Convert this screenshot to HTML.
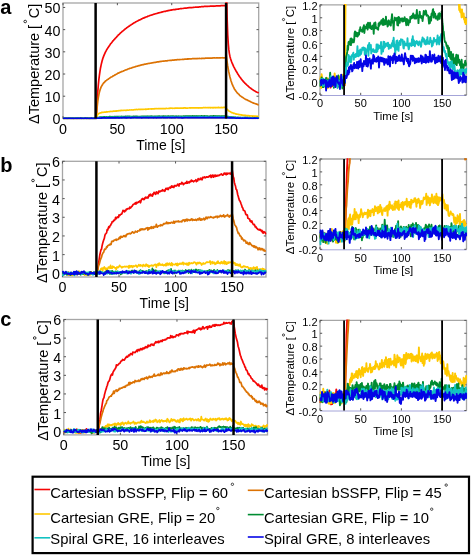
<!DOCTYPE html>
<html><head><meta charset="utf-8"><style>
html,body{margin:0;padding:0;background:#fff;}
body{width:472px;height:558px;overflow:hidden;}
svg{display:block;will-change:transform;font-family:"Liberation Sans",sans-serif;}
text{fill:#000;}
</style></head><body>
<svg width="472" height="558" viewBox="0 0 472 558">
<clipPath id="clipaL"><rect x="62.4" y="2.2" width="196.9" height="117"/></clipPath>
<rect x="63" y="3" width="195.7" height="115.4" fill="#fff" stroke="#a6a6a6" stroke-width="1.3"/>
<path d="M63 118.4v-2.2M63 3v2.2M117.36 118.4v-2.2M117.36 3v2.2M171.72 118.4v-2.2M171.72 3v2.2M226.08 118.4v-2.2M226.08 3v2.2M63 118.4h2.2M258.7 118.4h-2.2M63 96.21h2.2M258.7 96.21h-2.2M63 74.02h2.2M258.7 74.02h-2.2M63 51.82h2.2M258.7 51.82h-2.2M63 29.63h2.2M258.7 29.63h-2.2M63 7.44h2.2M258.7 7.44h-2.2" stroke="#555" stroke-width="1" fill="none"/>
<g clip-path="url(#clipaL)" fill="none" stroke-width="1.7" stroke-linejoin="round">
<polyline points="63,118.43 63.54,118.41 64.09,118.46 64.63,118.5 65.17,118.47 65.72,118.5 66.26,118.42 66.81,118.32 67.35,118.45 67.89,118.46 68.44,118.37 68.98,118.37 69.52,118.38 70.07,118.46 70.61,118.41 71.15,118.37 71.7,118.52 72.24,118.46 72.78,118.56 73.33,118.5 73.87,118.53 74.42,118.4 74.96,118.47 75.5,118.36 76.05,118.37 76.59,118.41 77.13,118.59 77.68,118.46 78.22,118.43 78.76,118.42 79.31,118.54 79.85,118.46 80.4,118.49 80.94,118.47 81.48,118.34 82.03,118.47 82.57,118.41 83.11,118.35 83.66,118.45 84.2,118.41 84.74,118.4 85.29,118.4 85.83,118.5 86.38,118.4 86.92,118.31 87.46,118.51 88.01,118.33 88.55,118.38 89.09,118.43 89.64,118.24 90.18,118.33 90.72,118.47 91.27,118.37 91.81,118.33 92.35,118.39 92.9,118.34 93.44,118.4 93.99,118.36 94.53,118.31 95.07,118.46 95.62,118.4 96.16,118.44 96.27,118.4 96.7,109.19 97.25,99.45 97.79,91.48 98.33,84.87 98.88,79.43 99.42,75.1 99.97,71.27 100.51,67.95 101.05,65.4 101.6,62.92 102.14,60.82 102.68,58.9 103.23,57.32 103.77,55.93 104.31,54.61 104.86,53.38 105.4,52.12 105.95,51.2 106.49,50.2 107.03,49.21 107.58,48.35 108.12,47.51 108.66,46.75 109.21,45.88 109.75,45.14 110.29,44.28 110.84,43.59 111.38,42.93 111.92,42.2 112.47,41.6 113.01,40.84 113.56,40.28 114.1,39.61 114.64,39.13 115.19,38.41 115.73,37.96 116.27,37.4 116.82,36.7 117.36,36.18 117.9,35.55 118.45,34.86 118.99,34.55 119.54,34.01 120.08,33.43 120.62,32.9 121.17,32.45 121.71,31.96 122.25,31.42 122.8,30.96 123.34,30.61 123.88,30.09 124.43,29.63 124.97,29.26 125.52,28.72 126.06,28.37 126.6,27.82 127.15,27.47 127.69,27.08 128.23,26.75 128.78,26.34 129.32,26.1 129.86,25.67 130.41,25.2 130.95,25.01 131.5,24.44 132.04,24.28 132.58,23.76 133.13,23.54 133.67,23.1 134.21,22.82 134.76,22.62 135.3,22.11 135.84,21.79 136.39,21.59 136.93,21.31 137.47,21.01 138.02,20.77 138.56,20.34 139.11,20.18 139.65,19.88 140.19,19.68 140.74,19.41 141.28,19.2 141.82,18.76 142.37,18.6 142.91,18.27 143.45,18.09 144,17.9 144.54,17.63 145.09,17.41 145.63,17.15 146.17,16.96 146.72,16.75 147.26,16.63 147.8,16.39 148.35,16.01 148.89,15.98 149.43,15.81 149.98,15.51 150.52,15.24 151.06,15.26 151.61,14.99 152.15,14.85 152.7,14.75 153.24,14.4 153.78,14.28 154.33,14.11 154.87,14.01 155.41,13.76 155.96,13.68 156.5,13.5 157.04,13.42 157.59,13.27 158.13,12.94 158.68,12.92 159.22,12.71 159.76,12.59 160.31,12.48 160.85,12.35 161.39,12.14 161.94,12.07 162.48,11.93 163.02,11.79 163.57,11.58 164.11,11.49 164.66,11.39 165.2,11.33 165.74,11.28 166.29,10.99 166.83,10.88 167.37,10.84 167.92,10.68 168.46,10.56 169,10.45 169.55,10.34 170.09,10.34 170.63,10.1 171.18,10.2 171.72,9.95 172.27,9.88 172.81,9.76 173.35,9.59 173.9,9.53 174.44,9.64 174.98,9.61 175.53,9.36 176.07,9.42 176.61,9.28 177.16,9.14 177.7,9.24 178.25,9.18 178.79,8.92 179.33,8.84 179.88,8.78 180.42,8.67 180.96,8.66 181.51,8.64 182.05,8.49 182.59,8.49 183.14,8.48 183.68,8.27 184.23,8.24 184.77,8.14 185.31,8.17 185.86,8.08 186.4,8.05 186.94,7.98 187.49,7.84 188.03,7.85 188.57,7.72 189.12,7.67 189.66,7.51 190.2,7.71 190.75,7.51 191.29,7.53 191.84,7.48 192.38,7.54 192.92,7.43 193.47,7.3 194.01,7.32 194.55,7.26 195.1,7.25 195.64,7.09 196.18,7.12 196.73,7.23 197.27,7.07 197.82,7.12 198.36,7.17 198.9,6.94 199.45,6.76 199.99,6.81 200.53,6.84 201.08,6.77 201.62,6.58 202.16,6.61 202.71,6.58 203.25,6.56 203.8,6.53 204.34,6.44 204.88,6.42 205.43,6.42 205.97,6.47 206.51,6.33 207.06,6.39 207.6,6.23 208.14,6.38 208.69,6.27 209.23,6.24 209.78,6.31 210.32,6.07 210.86,6.07 211.41,6.19 211.95,6.08 212.49,6.09 213.04,6.28 213.58,6.05 214.12,6.05 214.67,6.01 215.21,6.06 215.75,5.97 216.3,5.94 216.84,5.81 217.39,5.85 217.93,5.86 218.47,5.74 219.02,5.87 219.56,5.85 220.1,5.93 220.65,5.67 221.19,5.69 221.73,5.67 222.28,5.67 222.82,5.69 223.37,5.66 223.91,5.67 224.45,5.64 225,5.59 225.54,5.45 226.07,5.5 226.08,-48.27 226.63,-5.18 227.17,19.87 227.71,34.54 228.26,43.67 228.8,49.44 229.34,53.33 229.89,56.16 230.43,58.22 230.98,59.91 231.52,61.52 232.06,62.88 232.61,64.14 233.15,65.31 233.69,66.58 234.24,67.58 234.78,68.69 235.32,69.59 235.87,70.7 236.41,71.56 236.96,72.42 237.5,73.45 238.04,74.34 238.59,75.13 239.13,75.96 239.67,76.82 240.22,77.48 240.76,78.1 241.3,78.97 241.85,79.64 242.39,80.36 242.94,80.9 243.48,81.63 244.02,82.23 244.57,82.65 245.11,83.38 245.65,83.79 246.2,84.3 246.74,84.9 247.28,85.38 247.83,85.76 248.37,86.39 248.91,86.88 249.46,87.38 250,87.72 250.55,88.04 251.09,88.49 251.63,89.02 252.18,89.39 252.72,89.74 253.26,90.04 253.81,90.42 254.35,90.73 254.89,91.05 255.44,91.4 255.98,91.68 256.53,91.95 257.07,92.24 257.61,92.46 258.16,92.61 258.7,92.95" stroke="#f50505"/>
<polyline points="63,118.27 63.54,118.41 64.09,118.54 64.63,118.47 65.17,118.49 65.72,118.43 66.26,118.37 66.81,118.51 67.35,118.33 67.89,118.46 68.44,118.33 68.98,118.36 69.52,118.38 70.07,118.37 70.61,118.41 71.15,118.43 71.7,118.52 72.24,118.41 72.78,118.28 73.33,118.27 73.87,118.33 74.42,118.37 74.96,118.47 75.5,118.32 76.05,118.42 76.59,118.41 77.13,118.41 77.68,118.38 78.22,118.41 78.76,118.39 79.31,118.47 79.85,118.42 80.4,118.23 80.94,118.4 81.48,118.42 82.03,118.36 82.57,118.36 83.11,118.49 83.66,118.43 84.2,118.35 84.74,118.4 85.29,118.42 85.83,118.32 86.38,118.49 86.92,118.44 87.46,118.49 88.01,118.34 88.55,118.57 89.09,118.47 89.64,118.45 90.18,118.35 90.72,118.34 91.27,118.27 91.81,118.47 92.35,118.3 92.9,118.36 93.44,118.39 93.99,118.3 94.53,118.42 95.07,118.52 95.62,118.42 96.16,118.51 96.27,118.46 96.7,112.28 97.25,106.16 97.79,101.24 98.33,97.56 98.88,94.62 99.42,92.14 99.97,90.18 100.51,88.6 101.05,87.15 101.6,86.11 102.14,85.26 102.68,84.24 103.23,83.58 103.77,82.89 104.31,82.31 104.86,81.73 105.4,81.27 105.95,80.71 106.49,80.32 107.03,79.9 107.58,79.49 108.12,79.24 108.66,78.77 109.21,78.41 109.75,78.02 110.29,77.77 110.84,77.21 111.38,76.98 111.92,76.75 112.47,76.46 113.01,76.04 113.56,75.72 114.1,75.46 114.64,75.1 115.19,74.86 115.73,74.48 116.27,74.27 116.82,73.93 117.36,73.56 117.9,73.17 118.45,73.15 118.99,72.84 119.54,72.6 120.08,72.23 120.62,72.13 121.17,71.85 121.71,71.59 122.25,71.43 122.8,71.21 123.34,70.96 123.88,70.86 124.43,70.59 124.97,70.29 125.52,70.03 126.06,69.83 126.6,69.73 127.15,69.42 127.69,69.13 128.23,68.95 128.78,68.8 129.32,68.66 129.86,68.36 130.41,68.27 130.95,68.13 131.5,67.94 132.04,67.62 132.58,67.54 133.13,67.3 133.67,67.25 134.21,66.97 134.76,66.91 135.3,66.71 135.84,66.36 136.39,66.33 136.93,66.26 137.47,66.08 138.02,65.9 138.56,65.68 139.11,65.64 139.65,65.58 140.19,65.34 140.74,65.18 141.28,65.05 141.82,64.85 142.37,64.8 142.91,64.65 143.45,64.67 144,64.4 144.54,64.19 145.09,64.16 145.63,64.07 146.17,63.96 146.72,63.73 147.26,63.81 147.8,63.65 148.35,63.51 148.89,63.4 149.43,63.4 149.98,63.25 150.52,63.19 151.06,63.06 151.61,62.97 152.15,62.94 152.7,62.76 153.24,62.6 153.78,62.64 154.33,62.5 154.87,62.35 155.41,62.39 155.96,62.21 156.5,62.22 157.04,61.98 157.59,61.81 158.13,61.75 158.68,61.83 159.22,61.68 159.76,61.64 160.31,61.55 160.85,61.37 161.39,61.5 161.94,61.25 162.48,61.26 163.02,61.09 163.57,61.11 164.11,61.11 164.66,60.97 165.2,60.88 165.74,60.87 166.29,60.78 166.83,60.79 167.37,60.84 167.92,60.56 168.46,60.51 169,60.49 169.55,60.44 170.09,60.33 170.63,60.4 171.18,60.38 171.72,60.29 172.27,60.14 172.81,60.26 173.35,60.01 173.9,60.08 174.44,60.05 174.98,59.83 175.53,59.89 176.07,59.94 176.61,59.83 177.16,59.7 177.7,59.65 178.25,59.72 178.79,59.62 179.33,59.56 179.88,59.62 180.42,59.51 180.96,59.49 181.51,59.49 182.05,59.44 182.59,59.36 183.14,59.33 183.68,59.34 184.23,59.3 184.77,59.16 185.31,59.19 185.86,59.11 186.4,59.06 186.94,59.06 187.49,58.9 188.03,59.08 188.57,58.92 189.12,58.96 189.66,58.77 190.2,58.75 190.75,58.98 191.29,58.88 191.84,58.74 192.38,58.69 192.92,58.66 193.47,58.68 194.01,58.62 194.55,58.58 195.1,58.62 195.64,58.53 196.18,58.75 196.73,58.52 197.27,58.62 197.82,58.45 198.36,58.51 198.9,58.54 199.45,58.44 199.99,58.52 200.53,58.51 201.08,58.55 201.62,58.42 202.16,58.37 202.71,58.32 203.25,58.39 203.8,58.28 204.34,58.32 204.88,58.3 205.43,58.21 205.97,58.15 206.51,58.22 207.06,58.19 207.6,58.16 208.14,58.13 208.69,58.18 209.23,58.03 209.78,58.12 210.32,58.05 210.86,58.13 211.41,58.04 211.95,58.02 212.49,58.06 213.04,57.87 213.58,57.97 214.12,57.85 214.67,57.89 215.21,57.99 215.75,57.95 216.3,57.89 216.84,57.91 217.39,57.9 217.93,57.92 218.47,58.01 219.02,57.88 219.56,58 220.1,57.79 220.65,57.85 221.19,57.83 221.73,57.77 222.28,57.72 222.82,57.83 223.37,57.84 223.91,57.79 224.45,57.86 225,57.78 225.54,57.59 226.07,57.77 226.08,53.64 226.63,58.34 227.17,62.26 227.71,65.9 228.26,69.08 228.8,71.89 229.34,74.36 229.89,76.77 230.43,78.84 230.98,80.77 231.52,82.33 232.06,83.89 232.61,85.16 233.15,86.43 233.69,87.39 234.24,88.65 234.78,89.43 235.32,90.19 235.87,91.05 236.41,91.81 236.96,92.45 237.5,93.16 238.04,93.65 238.59,94.04 239.13,94.65 239.67,95.3 240.22,95.74 240.76,96.13 241.3,96.45 241.85,96.97 242.39,97.34 242.94,97.59 243.48,97.94 244.02,98.35 244.57,98.72 245.11,99.05 245.65,99.29 246.2,99.7 246.74,99.78 247.28,100.16 247.83,100.36 248.37,100.53 248.91,100.85 249.46,101.29 250,101.41 250.55,101.64 251.09,102.03 251.63,102.29 252.18,102.46 252.72,102.79 253.26,102.79 253.81,103.28 254.35,103.4 254.89,103.54 255.44,103.74 255.98,103.91 256.53,104.09 257.07,104.31 257.61,104.4 258.16,104.83 258.7,104.87" stroke="#dc7203"/>
<polyline points="63,118.5 63.54,118.22 64.09,118.41 64.63,118.6 65.17,118.13 65.72,118.23 66.26,118.47 66.81,118.37 67.35,118.41 67.89,118.39 68.44,118.54 68.98,118.48 69.52,118.39 70.07,118.43 70.61,118.35 71.15,118.45 71.7,118.25 72.24,118.52 72.78,118.42 73.33,118.61 73.87,118.55 74.42,118.33 74.96,118.54 75.5,118.41 76.05,118.47 76.59,118.55 77.13,118.47 77.68,118.46 78.22,118.43 78.76,118.3 79.31,118.29 79.85,118.4 80.4,118.43 80.94,118.33 81.48,118.36 82.03,118.25 82.57,118.1 83.11,118.25 83.66,118.33 84.2,118.34 84.74,118.4 85.29,118.41 85.83,118.43 86.38,118.38 86.92,118.38 87.46,118.28 88.01,118.38 88.55,118.36 89.09,118.45 89.64,118.2 90.18,118.31 90.72,118.21 91.27,118.31 91.81,118.26 92.35,118.42 92.9,118.33 93.44,118.14 93.99,118.48 94.53,118.26 95.07,118.21 95.62,118.32 96.16,118.29 96.27,118.24 96.7,116.77 97.25,115.3 97.79,114.52 98.33,113.93 98.88,113.53 99.42,113.22 99.97,113 100.51,112.82 101.05,112.86 101.6,112.44 102.14,112.41 102.68,112.35 103.23,112.36 103.77,112.25 104.31,112.11 104.86,112.06 105.4,112.2 105.95,111.93 106.49,111.68 107.03,112.06 107.58,111.74 108.12,111.74 108.66,111.73 109.21,111.54 109.75,111.73 110.29,111.56 110.84,111.4 111.38,111.5 111.92,111.47 112.47,111.37 113.01,111.35 113.56,111.1 114.1,111.25 114.64,111.01 115.19,111.14 115.73,110.91 116.27,110.93 116.82,111.11 117.36,110.84 117.9,110.9 118.45,110.8 118.99,110.57 119.54,110.77 120.08,110.72 120.62,110.45 121.17,110.54 121.71,110.38 122.25,110.45 122.8,110.52 123.34,110.41 123.88,110.25 124.43,110.25 124.97,110.31 125.52,110.29 126.06,110.28 126.6,110.3 127.15,110.03 127.69,110.17 128.23,110.24 128.78,110.14 129.32,109.99 129.86,109.95 130.41,109.99 130.95,110 131.5,109.91 132.04,110.03 132.58,109.97 133.13,109.75 133.67,109.83 134.21,109.72 134.76,109.61 135.3,109.62 135.84,109.64 136.39,109.42 136.93,109.52 137.47,109.59 138.02,109.46 138.56,109.45 139.11,109.53 139.65,109.4 140.19,109.39 140.74,109.53 141.28,109.34 141.82,109.33 142.37,109.32 142.91,109.42 143.45,109.3 144,109.27 144.54,109.25 145.09,109.35 145.63,109.17 146.17,109.32 146.72,109.19 147.26,109.01 147.8,109.15 148.35,109.1 148.89,108.91 149.43,109.01 149.98,108.98 150.52,108.91 151.06,108.81 151.61,109.08 152.15,108.93 152.7,108.92 153.24,108.91 153.78,108.86 154.33,108.82 154.87,108.69 155.41,108.78 155.96,108.68 156.5,108.65 157.04,108.75 157.59,108.66 158.13,108.51 158.68,108.61 159.22,108.68 159.76,108.63 160.31,108.71 160.85,108.61 161.39,108.55 161.94,108.69 162.48,108.61 163.02,108.47 163.57,108.59 164.11,108.51 164.66,108.6 165.2,108.57 165.74,108.53 166.29,108.29 166.83,108.51 167.37,108.5 167.92,108.48 168.46,108.42 169,108.33 169.55,108.34 170.09,108.15 170.63,108.29 171.18,108.16 171.72,108.25 172.27,108.21 172.81,108.38 173.35,108.25 173.9,108.23 174.44,108.22 174.98,108.36 175.53,108.08 176.07,108.18 176.61,108.19 177.16,108.17 177.7,108.17 178.25,108.11 178.79,108.25 179.33,108.21 179.88,108.1 180.42,108.12 180.96,108.17 181.51,108.18 182.05,108.2 182.59,108.11 183.14,107.97 183.68,108.14 184.23,107.89 184.77,107.93 185.31,108.04 185.86,107.94 186.4,108.14 186.94,108.16 187.49,108.11 188.03,108.01 188.57,107.98 189.12,107.96 189.66,107.88 190.2,108.05 190.75,107.8 191.29,107.96 191.84,107.88 192.38,107.86 192.92,107.94 193.47,107.97 194.01,107.95 194.55,107.87 195.1,107.82 195.64,107.81 196.18,107.94 196.73,107.91 197.27,107.92 197.82,107.8 198.36,108.03 198.9,107.75 199.45,107.91 199.99,107.93 200.53,107.82 201.08,107.75 201.62,107.8 202.16,107.73 202.71,107.79 203.25,107.67 203.8,107.65 204.34,107.74 204.88,107.59 205.43,107.69 205.97,107.69 206.51,107.77 207.06,107.71 207.6,107.6 208.14,107.78 208.69,107.59 209.23,107.61 209.78,107.61 210.32,107.83 210.86,107.64 211.41,107.59 211.95,107.72 212.49,107.66 213.04,107.88 213.58,107.61 214.12,107.71 214.67,107.56 215.21,107.78 215.75,107.53 216.3,107.59 216.84,107.49 217.39,107.64 217.93,107.61 218.47,107.36 219.02,107.64 219.56,107.64 220.1,107.61 220.65,107.67 221.19,107.48 221.73,107.42 222.28,107.63 222.82,107.71 223.37,107.45 223.91,107.45 224.45,107.47 225,107.44 225.54,107.61 226.07,107.54 226.08,108.49 226.63,109.08 227.17,109.41 227.71,110.04 228.26,110.23 228.8,110.83 229.34,111.27 229.89,111.48 230.43,111.72 230.98,112.13 231.52,112.55 232.06,112.65 232.61,112.77 233.15,113.13 233.69,113.33 234.24,113.35 234.78,113.59 235.32,113.85 235.87,113.93 236.41,114.1 236.96,114.13 237.5,114.26 238.04,114.28 238.59,114.43 239.13,114.73 239.67,114.66 240.22,114.71 240.76,114.84 241.3,114.88 241.85,115.09 242.39,115.19 242.94,115.08 243.48,115.31 244.02,115.45 244.57,115.21 245.11,115.4 245.65,115.4 246.2,115.55 246.74,115.59 247.28,115.62 247.83,115.61 248.37,115.61 248.91,115.91 249.46,115.71 250,115.94 250.55,115.99 251.09,115.89 251.63,116 252.18,116.17 252.72,115.89 253.26,116.15 253.81,116.07 254.35,116.1 254.89,116.03 255.44,116.23 255.98,116.15 256.53,116.34 257.07,116.21 257.61,116.4 258.16,116.38 258.7,116.2" stroke="#ffc800"/>
<polyline points="63,118.55 63.54,118.44 64.09,118.49 64.63,118.39 65.17,118.24 65.72,118.36 66.26,118.45 66.81,118.57 67.35,118.55 67.89,118.57 68.44,118.33 68.98,118.46 69.52,118.38 70.07,118.44 70.61,118.37 71.15,118.26 71.7,118.46 72.24,118.43 72.78,118.48 73.33,118.32 73.87,118.48 74.42,118.47 74.96,118.47 75.5,118.46 76.05,118.28 76.59,118.08 77.13,118.41 77.68,118.23 78.22,118.29 78.76,118.42 79.31,118.36 79.85,118.37 80.4,118.44 80.94,118.22 81.48,118.59 82.03,118.39 82.57,118.38 83.11,118.45 83.66,118.35 84.2,118.26 84.74,118.31 85.29,118.29 85.83,118.27 86.38,118.54 86.92,118.23 87.46,118.17 88.01,118.3 88.55,118.31 89.09,118.54 89.64,118.43 90.18,118.51 90.72,118.49 91.27,118.36 91.81,118.52 92.35,118.46 92.9,118.62 93.44,118.45 93.99,118.41 94.53,118.48 95.07,118.47 95.62,118.23 96.16,118.43 96.27,118.38 96.7,118.22 97.25,117.84 97.79,117.54 98.33,117.49 98.88,117.45 99.42,117.34 99.97,117.14 100.51,117.28 101.05,117.03 101.6,117 102.14,117.11 102.68,117.03 103.23,117 103.77,116.9 104.31,117.13 104.86,116.89 105.4,117.02 105.95,117.03 106.49,116.93 107.03,116.94 107.58,116.99 108.12,117.03 108.66,116.95 109.21,116.71 109.75,116.65 110.29,116.76 110.84,116.68 111.38,116.81 111.92,116.75 112.47,116.71 113.01,116.83 113.56,116.82 114.1,116.7 114.64,116.72 115.19,116.76 115.73,116.6 116.27,116.64 116.82,116.51 117.36,116.6 117.9,116.63 118.45,116.6 118.99,116.63 119.54,116.67 120.08,116.63 120.62,116.51 121.17,116.5 121.71,116.44 122.25,116.71 122.8,116.57 123.34,116.56 123.88,116.49 124.43,116.54 124.97,116.54 125.52,116.41 126.06,116.46 126.6,116.59 127.15,116.35 127.69,116.38 128.23,116.52 128.78,116.38 129.32,116.52 129.86,116.35 130.41,116.49 130.95,116.56 131.5,116.53 132.04,116.57 132.58,116.48 133.13,116.46 133.67,116.45 134.21,116.47 134.76,116.73 135.3,116.37 135.84,116.56 136.39,116.39 136.93,116.34 137.47,116.45 138.02,116.54 138.56,116.53 139.11,116.53 139.65,116.57 140.19,116.57 140.74,116.59 141.28,116.38 141.82,116.47 142.37,116.34 142.91,116.43 143.45,116.37 144,116.38 144.54,116.31 145.09,116.27 145.63,116.32 146.17,116.4 146.72,116.42 147.26,116.21 147.8,116.41 148.35,116.43 148.89,116.27 149.43,116.29 149.98,116.33 150.52,116.41 151.06,116.14 151.61,116.32 152.15,116.3 152.7,116.37 153.24,116.48 153.78,116.46 154.33,116.29 154.87,116.27 155.41,116.31 155.96,116.4 156.5,116.42 157.04,116.33 157.59,116.45 158.13,116.24 158.68,116.22 159.22,116.06 159.76,116.23 160.31,116.35 160.85,116.37 161.39,116.6 161.94,116.33 162.48,116.28 163.02,116.17 163.57,116.21 164.11,116.22 164.66,116.27 165.2,116.24 165.74,116.19 166.29,116.43 166.83,116.37 167.37,116.45 167.92,116.15 168.46,116.16 169,116.19 169.55,116.36 170.09,116.21 170.63,116.24 171.18,116.22 171.72,116.25 172.27,116.21 172.81,116.31 173.35,116.21 173.9,116.26 174.44,116.3 174.98,116.27 175.53,116.28 176.07,116.16 176.61,116.27 177.16,116.23 177.7,116.32 178.25,116.44 178.79,116.22 179.33,116.41 179.88,116.24 180.42,116.26 180.96,116.44 181.51,116.36 182.05,116.3 182.59,116.31 183.14,116.33 183.68,116.14 184.23,116.22 184.77,116.14 185.31,116.2 185.86,116.11 186.4,116.18 186.94,116.1 187.49,116.03 188.03,116.08 188.57,116.14 189.12,116.21 189.66,116.1 190.2,116.1 190.75,116.16 191.29,116.21 191.84,116.09 192.38,115.91 192.92,116.17 193.47,116.11 194.01,116.1 194.55,116.36 195.1,116.1 195.64,116.17 196.18,115.97 196.73,116.12 197.27,116.17 197.82,116.13 198.36,116.12 198.9,116.2 199.45,116.17 199.99,116.29 200.53,116.18 201.08,116.07 201.62,115.94 202.16,116.04 202.71,116.07 203.25,115.98 203.8,115.99 204.34,115.93 204.88,115.99 205.43,116.11 205.97,116.08 206.51,116.09 207.06,116.1 207.6,116.13 208.14,116.24 208.69,116.38 209.23,116.25 209.78,116.37 210.32,116.15 210.86,116.14 211.41,116.28 211.95,116.05 212.49,116.02 213.04,116.08 213.58,115.92 214.12,115.89 214.67,116.17 215.21,115.97 215.75,116.05 216.3,116.07 216.84,116.04 217.39,116.2 217.93,116.19 218.47,116.2 219.02,116.19 219.56,116.13 220.1,116.25 220.65,116.21 221.19,116.05 221.73,116.09 222.28,116.03 222.82,116.22 223.37,116.11 223.91,116.09 224.45,116.04 225,116.11 225.54,115.96 226.07,116.05 226.08,116.18 226.63,116.38 227.17,116.47 227.71,116.7 228.26,116.66 228.8,116.82 229.34,116.94 229.89,117.01 230.43,117.02 230.98,117.02 231.52,117.07 232.06,117.16 232.61,117.14 233.15,117.23 233.69,117.15 234.24,117.29 234.78,117.5 235.32,117.21 235.87,117.37 236.41,117.53 236.96,117.49 237.5,117.6 238.04,117.36 238.59,117.53 239.13,117.74 239.67,117.56 240.22,117.65 240.76,117.43 241.3,117.7 241.85,117.8 242.39,117.57 242.94,117.6 243.48,117.6 244.02,117.77 244.57,117.55 245.11,117.46 245.65,117.81 246.2,117.55 246.74,117.73 247.28,117.47 247.83,117.66 248.37,117.73 248.91,117.62 249.46,117.69 250,117.82 250.55,117.71 251.09,117.84 251.63,117.97 252.18,117.63 252.72,117.85 253.26,117.88 253.81,117.78 254.35,117.94 254.89,117.91 255.44,117.81 255.98,117.81 256.53,117.75 257.07,117.66 257.61,117.83 258.16,117.75 258.7,117.76" stroke="#008c32"/>
<polyline points="63,118.32 63.54,118.49 64.09,118.41 64.63,118.29 65.17,118.49 65.72,118.43 66.26,118.38 66.81,118.52 67.35,118.28 67.89,118.35 68.44,118.52 68.98,118.38 69.52,118.45 70.07,118.45 70.61,118.39 71.15,118.48 71.7,118.34 72.24,118.51 72.78,118.36 73.33,118.45 73.87,118.34 74.42,118.46 74.96,118.44 75.5,118.5 76.05,118.34 76.59,118.3 77.13,118.19 77.68,118.27 78.22,118.38 78.76,118.44 79.31,118.41 79.85,118.46 80.4,118.33 80.94,118.38 81.48,118.53 82.03,118.5 82.57,118.3 83.11,118.4 83.66,118.45 84.2,118.32 84.74,118.47 85.29,118.46 85.83,118.47 86.38,118.6 86.92,118.33 87.46,118.52 88.01,118.46 88.55,118.48 89.09,118.34 89.64,118.42 90.18,118.41 90.72,118.56 91.27,118.41 91.81,118.54 92.35,118.37 92.9,118.36 93.44,118.39 93.99,118.2 94.53,118.34 95.07,118.34 95.62,118.4 96.16,118.36 96.27,118.25 96.7,118.14 97.25,118.25 97.79,117.91 98.33,117.85 98.88,117.73 99.42,117.73 99.97,117.84 100.51,117.78 101.05,117.46 101.6,117.57 102.14,117.7 102.68,117.51 103.23,117.56 103.77,117.69 104.31,117.72 104.86,117.65 105.4,117.47 105.95,117.49 106.49,117.5 107.03,117.43 107.58,117.39 108.12,117.63 108.66,117.45 109.21,117.5 109.75,117.54 110.29,117.47 110.84,117.43 111.38,117.42 111.92,117.52 112.47,117.41 113.01,117.16 113.56,117.45 114.1,117.51 114.64,117.34 115.19,117.32 115.73,117.34 116.27,117.48 116.82,117.27 117.36,117.42 117.9,117.43 118.45,117.36 118.99,117.3 119.54,117.21 120.08,117.22 120.62,117.29 121.17,117.2 121.71,117.29 122.25,117.22 122.8,117.44 123.34,117.46 123.88,117.24 124.43,117.44 124.97,117.32 125.52,117.29 126.06,117.31 126.6,117.3 127.15,117.12 127.69,117.49 128.23,117.18 128.78,117.05 129.32,117.26 129.86,117.27 130.41,117.21 130.95,117.12 131.5,117.41 132.04,117.31 132.58,117.34 133.13,117.28 133.67,117.32 134.21,117.26 134.76,117.36 135.3,117.3 135.84,117.36 136.39,117.36 136.93,117.3 137.47,117.29 138.02,117.37 138.56,117.1 139.11,117.24 139.65,117.34 140.19,117.1 140.74,117.26 141.28,117.13 141.82,117.17 142.37,117.15 142.91,117.16 143.45,117.24 144,117.19 144.54,117.02 145.09,117.43 145.63,117.22 146.17,117.18 146.72,117.32 147.26,117.34 147.8,117.01 148.35,117.24 148.89,117.01 149.43,117.15 149.98,117.19 150.52,117.14 151.06,117.12 151.61,117.07 152.15,117.13 152.7,117.16 153.24,117.15 153.78,117.04 154.33,117.09 154.87,117.25 155.41,117.21 155.96,117.11 156.5,117.2 157.04,117.17 157.59,117.22 158.13,117.16 158.68,117.1 159.22,117.05 159.76,117.15 160.31,116.96 160.85,117.17 161.39,116.87 161.94,117.08 162.48,117.12 163.02,117.22 163.57,117.43 164.11,117.18 164.66,117.14 165.2,116.98 165.74,117.28 166.29,116.96 166.83,117.15 167.37,117.04 167.92,117.32 168.46,117.06 169,117.09 169.55,116.98 170.09,117.02 170.63,117.12 171.18,116.92 171.72,116.94 172.27,116.96 172.81,116.93 173.35,116.95 173.9,117.07 174.44,117.22 174.98,117.24 175.53,116.99 176.07,117.05 176.61,117.1 177.16,117.13 177.7,117.08 178.25,117.07 178.79,117.1 179.33,117.14 179.88,116.89 180.42,117.09 180.96,117.19 181.51,117.27 182.05,117.23 182.59,117.09 183.14,117.06 183.68,117.13 184.23,117.08 184.77,117.09 185.31,117.15 185.86,116.92 186.4,117.01 186.94,116.82 187.49,117.12 188.03,117.06 188.57,116.97 189.12,117.07 189.66,117.16 190.2,117.11 190.75,117.01 191.29,117 191.84,117.06 192.38,116.98 192.92,117.01 193.47,117.08 194.01,117.11 194.55,117.13 195.1,117.04 195.64,117 196.18,117.07 196.73,117.03 197.27,117.09 197.82,117.18 198.36,117.13 198.9,116.95 199.45,116.97 199.99,116.86 200.53,117 201.08,116.94 201.62,116.9 202.16,116.93 202.71,117.08 203.25,117.03 203.8,117 204.34,117.1 204.88,116.98 205.43,116.93 205.97,117.08 206.51,116.85 207.06,117.05 207.6,117.04 208.14,117.04 208.69,117.09 209.23,116.99 209.78,117.03 210.32,116.87 210.86,116.97 211.41,116.97 211.95,117.05 212.49,117.17 213.04,117.06 213.58,117.13 214.12,116.96 214.67,117.05 215.21,116.88 215.75,116.95 216.3,116.94 216.84,116.99 217.39,116.99 217.93,116.96 218.47,116.94 219.02,117.1 219.56,116.99 220.1,116.79 220.65,117.02 221.19,117.02 221.73,117.04 222.28,117.1 222.82,116.85 223.37,116.97 223.91,116.95 224.45,116.81 225,116.74 225.54,117.04 226.07,116.85 226.08,116.97 226.63,117.12 227.17,117.21 227.71,117.3 228.26,117.19 228.8,117.31 229.34,117.37 229.89,117.32 230.43,117.39 230.98,117.47 231.52,117.53 232.06,117.43 232.61,117.58 233.15,117.65 233.69,117.75 234.24,117.72 234.78,117.8 235.32,117.72 235.87,117.72 236.41,117.95 236.96,117.76 237.5,117.71 238.04,117.76 238.59,117.87 239.13,117.68 239.67,117.88 240.22,117.95 240.76,117.96 241.3,117.88 241.85,117.8 242.39,117.8 242.94,117.91 243.48,118.06 244.02,118.03 244.57,118.08 245.11,118.03 245.65,118.2 246.2,118.03 246.74,117.99 247.28,118.06 247.83,118.01 248.37,118.14 248.91,118.19 249.46,118.12 250,117.97 250.55,117.99 251.09,118.14 251.63,117.99 252.18,118.13 252.72,117.96 253.26,118.04 253.81,118.11 254.35,117.97 254.89,118.1 255.44,118.1 255.98,118.14 256.53,117.98 257.07,118.02 257.61,118.03 258.16,118.08 258.7,117.91" stroke="#12c2c2"/>
<polyline points="63,118.38 63.54,118.39 64.09,118.35 64.63,118.5 65.17,118.32 65.72,118.39 66.26,118.34 66.81,118.44 67.35,118.33 67.89,118.46 68.44,118.32 68.98,118.32 69.52,118.35 70.07,118.39 70.61,118.38 71.15,118.69 71.7,118.35 72.24,118.45 72.78,118.41 73.33,118.45 73.87,118.57 74.42,118.5 74.96,118.39 75.5,118.33 76.05,118.52 76.59,118.55 77.13,118.33 77.68,118.55 78.22,118.26 78.76,118.42 79.31,118.48 79.85,118.28 80.4,118.2 80.94,118.5 81.48,118.23 82.03,118.42 82.57,118.28 83.11,118.46 83.66,118.57 84.2,118.37 84.74,118.32 85.29,118.2 85.83,118.23 86.38,118.32 86.92,118.41 87.46,118.44 88.01,118.43 88.55,118.48 89.09,118.43 89.64,118.64 90.18,118.38 90.72,118.39 91.27,118.14 91.81,118.31 92.35,118.43 92.9,118.33 93.44,118.5 93.99,118.43 94.53,118.53 95.07,118.21 95.62,118.28 96.16,118.41 96.27,118.31 96.7,118.19 97.25,118.2 97.79,118.18 98.33,118.26 98.88,118.21 99.42,118.11 99.97,118.01 100.51,118.14 101.05,118.14 101.6,117.89 102.14,118.07 102.68,117.87 103.23,117.95 103.77,117.89 104.31,117.81 104.86,117.9 105.4,117.88 105.95,118.03 106.49,118 107.03,117.88 107.58,117.8 108.12,117.82 108.66,117.74 109.21,117.92 109.75,117.91 110.29,117.81 110.84,117.87 111.38,117.85 111.92,117.91 112.47,117.7 113.01,117.89 113.56,117.75 114.1,117.93 114.64,117.69 115.19,117.87 115.73,117.67 116.27,117.88 116.82,117.76 117.36,117.61 117.9,117.82 118.45,117.76 118.99,117.83 119.54,118.02 120.08,117.77 120.62,117.74 121.17,117.86 121.71,117.67 122.25,117.77 122.8,117.78 123.34,117.68 123.88,117.75 124.43,117.48 124.97,117.85 125.52,117.63 126.06,117.6 126.6,117.86 127.15,117.83 127.69,117.61 128.23,117.71 128.78,117.64 129.32,117.58 129.86,117.73 130.41,117.79 130.95,117.93 131.5,117.65 132.04,117.74 132.58,117.62 133.13,117.62 133.67,117.76 134.21,117.46 134.76,117.5 135.3,117.51 135.84,117.68 136.39,117.6 136.93,117.62 137.47,117.62 138.02,117.7 138.56,117.57 139.11,117.6 139.65,117.6 140.19,117.68 140.74,117.51 141.28,117.62 141.82,117.89 142.37,117.7 142.91,117.65 143.45,117.55 144,117.66 144.54,117.65 145.09,117.68 145.63,117.56 146.17,117.66 146.72,117.68 147.26,117.7 147.8,117.59 148.35,117.69 148.89,117.81 149.43,117.6 149.98,117.74 150.52,117.66 151.06,117.68 151.61,117.61 152.15,117.63 152.7,117.76 153.24,117.7 153.78,117.79 154.33,117.51 154.87,117.62 155.41,117.53 155.96,117.7 156.5,117.86 157.04,117.52 157.59,117.64 158.13,117.62 158.68,117.62 159.22,117.55 159.76,117.55 160.31,117.74 160.85,117.49 161.39,117.63 161.94,117.62 162.48,117.41 163.02,117.48 163.57,117.6 164.11,117.75 164.66,117.56 165.2,117.53 165.74,117.57 166.29,117.67 166.83,117.62 167.37,117.66 167.92,117.53 168.46,117.49 169,117.48 169.55,117.66 170.09,117.58 170.63,117.56 171.18,117.67 171.72,117.65 172.27,117.45 172.81,117.63 173.35,117.57 173.9,117.69 174.44,117.63 174.98,117.79 175.53,117.62 176.07,117.49 176.61,117.4 177.16,117.49 177.7,117.54 178.25,117.6 178.79,117.67 179.33,117.64 179.88,117.59 180.42,117.74 180.96,117.6 181.51,117.79 182.05,117.86 182.59,117.76 183.14,117.79 183.68,117.74 184.23,117.49 184.77,117.6 185.31,117.57 185.86,117.49 186.4,117.49 186.94,117.67 187.49,117.5 188.03,117.59 188.57,117.62 189.12,117.58 189.66,117.75 190.2,117.69 190.75,117.64 191.29,117.59 191.84,117.71 192.38,117.71 192.92,117.63 193.47,117.6 194.01,117.65 194.55,117.58 195.1,117.71 195.64,117.67 196.18,117.59 196.73,117.64 197.27,117.67 197.82,117.48 198.36,117.67 198.9,117.76 199.45,117.63 199.99,117.51 200.53,117.68 201.08,117.56 201.62,117.71 202.16,117.7 202.71,117.71 203.25,117.65 203.8,117.46 204.34,117.73 204.88,117.47 205.43,117.72 205.97,117.64 206.51,117.53 207.06,117.53 207.6,117.55 208.14,117.71 208.69,117.52 209.23,117.66 209.78,117.33 210.32,117.6 210.86,117.57 211.41,117.7 211.95,117.63 212.49,117.69 213.04,117.46 213.58,117.57 214.12,117.49 214.67,117.62 215.21,117.61 215.75,117.45 216.3,117.67 216.84,117.76 217.39,117.56 217.93,117.72 218.47,117.67 219.02,117.55 219.56,117.71 220.1,117.55 220.65,117.69 221.19,117.49 221.73,117.5 222.28,117.67 222.82,117.64 223.37,117.69 223.91,117.59 224.45,117.5 225,117.75 225.54,117.53 226.07,117.74 226.08,117.75 226.63,117.89 227.17,117.55 227.71,117.75 228.26,117.74 228.8,117.83 229.34,117.67 229.89,117.98 230.43,117.8 230.98,117.62 231.52,117.89 232.06,117.88 232.61,117.84 233.15,118 233.69,117.95 234.24,117.89 234.78,117.99 235.32,118.01 235.87,118.1 236.41,118.05 236.96,118.09 237.5,117.96 238.04,118.03 238.59,118.12 239.13,118.33 239.67,118.02 240.22,118.02 240.76,118.18 241.3,118.3 241.85,118.24 242.39,118.07 242.94,118.27 243.48,118.23 244.02,118.17 244.57,118.09 245.11,118.2 245.65,118.21 246.2,118.26 246.74,118.08 247.28,118.15 247.83,118.29 248.37,118.43 248.91,118.38 249.46,118.25 250,118.37 250.55,118.21 251.09,118.27 251.63,118.29 252.18,118.27 252.72,118.29 253.26,118.41 253.81,118.35 254.35,118.08 254.89,118.39 255.44,118.31 255.98,118.16 256.53,118.28 257.07,118.35 257.61,118.4 258.16,118.23 258.7,118.19" stroke="#0404e6"/>
<path d="M95.62 3V118.4M226.08 3V118.4" stroke="#000" stroke-width="2.5"/>
</g>
<text x="63" y="133.7" text-anchor="middle" font-size="14.3">0</text>
<text x="117.36" y="133.7" text-anchor="middle" font-size="14.3">50</text>
<text x="171.72" y="133.7" text-anchor="middle" font-size="14.3">100</text>
<text x="226.08" y="133.7" text-anchor="middle" font-size="14.3">150</text>
<text x="60.5" y="124.35" text-anchor="end" font-size="14.3">0</text>
<text x="60.5" y="102.16" text-anchor="end" font-size="14.3">10</text>
<text x="60.5" y="79.96" text-anchor="end" font-size="14.3">20</text>
<text x="60.5" y="57.77" text-anchor="end" font-size="14.3">30</text>
<text x="60.5" y="35.58" text-anchor="end" font-size="14.3">40</text>
<text x="60.5" y="13.39" text-anchor="end" font-size="14.3">50</text>
<text x="160.85" y="149.7" text-anchor="middle" font-size="14">Time [s]</text>
<clipPath id="clipbL"><rect x="61.9" y="160.5" width="204.7" height="117.3"/></clipPath>
<rect x="62.5" y="161.3" width="203.5" height="115.7" fill="#fff" stroke="#a6a6a6" stroke-width="1.3"/>
<path d="M62.5 277v-2.2M62.5 161.3v2.2M119.03 277v-2.2M119.03 161.3v2.2M175.56 277v-2.2M175.56 161.3v2.2M232.08 277v-2.2M232.08 161.3v2.2M62.5 273.27h2.2M266 273.27h-2.2M62.5 254.61h2.2M266 254.61h-2.2M62.5 235.95h2.2M266 235.95h-2.2M62.5 217.28h2.2M266 217.28h-2.2M62.5 198.62h2.2M266 198.62h-2.2M62.5 179.96h2.2M266 179.96h-2.2M62.5 161.3h2.2M266 161.3h-2.2" stroke="#555" stroke-width="1" fill="none"/>
<g clip-path="url(#clipbL)" fill="none" stroke-width="1.7" stroke-linejoin="round">
<polyline points="62.5,273.46 63.07,272.87 63.63,272.81 64.2,273.43 64.76,273.45 65.33,273.7 65.89,273.41 66.46,274.37 67.02,273.36 67.59,273.52 68.15,274.27 68.72,272.28 69.28,274.41 69.85,274.36 70.41,273.58 70.98,275.02 71.54,274.18 72.11,274.59 72.67,274.16 73.24,273.55 73.81,273.2 74.37,272.62 74.94,272.75 75.5,272.44 76.07,272.79 76.63,273.5 77.2,272.49 77.76,273.65 78.33,273.83 78.89,272.48 79.46,273.02 80.02,273.4 80.59,272.99 81.15,272.83 81.72,274.24 82.28,273.31 82.85,273.97 83.42,273.05 83.98,273.57 84.55,272.2 85.11,272.77 85.68,273.67 86.24,273.15 86.81,273.97 87.37,273.18 87.94,272.9 88.5,273.13 89.07,274.61 89.63,273.51 90.2,272.9 90.76,273.01 91.33,272.45 91.89,274.12 92.46,272.95 93.03,273.78 93.59,273.24 94.16,273.09 94.72,272.88 95.29,273.67 95.85,273.09 96.42,273.91 96.98,273.99 97.09,272.59 97.55,269.6 98.11,266.75 98.68,262.67 99.24,258.83 99.81,254.79 100.37,252.34 100.94,249.91 101.5,249.25 102.07,245.9 102.63,243.46 103.2,241.59 103.77,239.74 104.33,238.41 104.9,235.39 105.46,233.99 106.03,233.57 106.59,232.81 107.16,229.54 107.72,230.16 108.29,227.96 108.85,226.53 109.42,227.55 109.98,225.84 110.55,225.4 111.11,223.98 111.68,223.32 112.24,221.5 112.81,221.74 113.38,221.48 113.94,220.05 114.51,220.3 115.07,219.67 115.64,217.25 116.2,218.67 116.77,217.87 117.33,216.97 117.9,217.22 118.46,217.46 119.03,214.9 119.59,215.68 120.16,215.04 120.72,214.42 121.29,214.28 121.85,213.79 122.42,212.42 122.98,210.4 123.55,211.05 124.12,210.63 124.68,211.77 125.25,210.42 125.81,210.83 126.38,209.13 126.94,209.4 127.51,208.83 128.07,208.55 128.64,208.55 129.2,208.87 129.77,207.13 130.33,208.11 130.9,207.6 131.46,206.6 132.03,206.44 132.59,205.31 133.16,204.32 133.72,204.35 134.29,203.92 134.86,203.61 135.42,202.65 135.99,204.1 136.55,202.29 137.12,202.89 137.68,202.89 138.25,201.93 138.81,202.11 139.38,201.35 139.94,200.81 140.51,202.8 141.07,200.88 141.64,199.04 142.2,199.29 142.77,198.44 143.33,198.93 143.9,199.6 144.47,199.08 145.03,197.58 145.6,197.19 146.16,198.12 146.73,197.61 147.29,197.03 147.86,198.13 148.42,196.89 148.99,195.25 149.55,194.54 150.12,195.77 150.68,194.2 151.25,195.54 151.81,195.49 152.38,196.19 152.94,193.75 153.51,194.35 154.07,192.25 154.64,193.35 155.21,193.22 155.77,194.34 156.34,191.9 156.9,192.92 157.47,192.55 158.03,193.68 158.6,191.34 159.16,191.08 159.73,191.97 160.29,191.36 160.86,191.05 161.42,190.58 161.99,191.03 162.55,189.75 163.12,190.8 163.68,190.71 164.25,190.25 164.82,191.3 165.38,189.84 165.95,188.35 166.51,188.61 167.08,189.12 167.64,188.14 168.21,189.57 168.77,188.27 169.34,187.59 169.9,187.33 170.47,188.13 171.03,186.77 171.6,185.87 172.16,187.15 172.73,186.12 173.29,187.44 173.86,187.52 174.43,185.62 174.99,185.86 175.56,185.63 176.12,186.04 176.69,185.74 177.25,184.88 177.82,184.12 178.38,185.24 178.95,186 179.51,183.81 180.08,184.05 180.64,183.79 181.21,183.94 181.77,182.33 182.34,183.67 182.9,183.21 183.47,184.65 184.03,183.65 184.6,183.6 185.17,183.03 185.73,182.64 186.3,183.23 186.86,181.4 187.43,183.12 187.99,182.57 188.56,182 189.12,182.9 189.69,181.55 190.25,181.35 190.82,181.77 191.38,180.05 191.95,181.04 192.51,180.7 193.08,181.4 193.64,181.81 194.21,181.05 194.78,180.77 195.34,180.74 195.91,179.76 196.47,181.69 197.04,180.64 197.6,180.9 198.17,178.55 198.73,179.63 199.3,179.42 199.86,179.69 200.43,178.24 200.99,179.02 201.56,178.46 202.12,179.8 202.69,177.45 203.25,177.78 203.82,177.52 204.38,176.94 204.95,177.8 205.52,177.67 206.08,176.93 206.65,176.97 207.21,177.25 207.78,176.9 208.34,177.14 208.91,176.21 209.47,175.98 210.04,176.53 210.6,175.2 211.17,177.44 211.73,176.51 212.3,175.14 212.86,176.51 213.43,177.22 213.99,175.11 214.56,175.56 215.12,176.58 215.69,175.09 216.26,176.13 216.82,176.19 217.39,175.27 217.95,175.39 218.52,175.7 219.08,175.09 219.65,175.38 220.21,174.53 220.78,174.47 221.34,173.88 221.91,174.63 222.47,175.18 223.04,175.12 223.6,174.32 224.17,173.02 224.73,173.38 225.3,174.31 225.87,173.2 226.43,174.6 227,173.13 227.56,174.05 228.13,173.23 228.69,173.24 229.26,173.73 229.82,173.19 230.39,174 230.95,173.22 231.52,172.34 232.07,170.22 232.08,169.32 232.65,172.87 233.21,176.57 233.78,177.96 234.34,182.43 234.91,184.36 235.47,185.94 236.04,189.22 236.61,189.46 237.17,191.74 237.74,194.76 238.3,196.58 238.87,198.85 239.43,200.58 240,200.95 240.56,202.38 241.13,204.04 241.69,205.5 242.26,207.38 242.82,207.99 243.39,210.4 243.95,210.52 244.52,210.61 245.08,211.74 245.65,213.93 246.22,214.77 246.78,214.53 247.35,215.15 247.91,218.29 248.48,218.48 249.04,218.93 249.61,219.09 250.17,221.22 250.74,220.9 251.3,222.18 251.87,221 252.43,222.95 253,223.95 253.56,224.7 254.13,224.35 254.69,225.17 255.26,226.9 255.82,226.53 256.39,228.07 256.96,228.16 257.52,229 258.09,229.49 258.65,229.49 259.22,230.07 259.78,229.38 260.35,229.5 260.91,230.49 261.48,231.41 262.04,230.47 262.61,232.74 263.17,233.03 263.74,231.58 264.3,231.96 264.87,232.09 265.43,233.26 266,234.36" stroke="#f50505"/>
<polyline points="62.5,273.39 63.07,273.21 63.63,273.88 64.2,274.05 64.76,273.76 65.33,273.02 65.89,273.87 66.46,273.69 67.02,273.81 67.59,274.33 68.15,272.47 68.72,274.89 69.28,273.8 69.85,273.02 70.41,274.25 70.98,272.94 71.54,272.48 72.11,273.81 72.67,273.14 73.24,274.03 73.81,273.08 74.37,273.42 74.94,273.4 75.5,272.69 76.07,273.26 76.63,272.68 77.2,273.12 77.76,274.26 78.33,273.29 78.89,273.08 79.46,274.23 80.02,272.37 80.59,273.1 81.15,272.84 81.72,273.59 82.28,272.92 82.85,272.72 83.42,273.07 83.98,272.78 84.55,274.19 85.11,272.02 85.68,273.69 86.24,274.5 86.81,273.86 87.37,273.91 87.94,273.12 88.5,274.08 89.07,273.3 89.63,274.03 90.2,271.94 90.76,272.93 91.33,271.99 91.89,273.87 92.46,272.8 93.03,273.83 93.59,272.83 94.16,272.73 94.72,274.13 95.29,273.83 95.85,273.88 96.42,274.16 96.98,273.73 97.09,273.89 97.55,271.84 98.11,268.14 98.68,265.39 99.24,264.38 99.81,261.94 100.37,259.84 100.94,258.41 101.5,257.24 102.07,254.91 102.63,253.63 103.2,252.58 103.77,252.07 104.33,249.68 104.9,248.9 105.46,249.38 106.03,248.36 106.59,246.73 107.16,247.25 107.72,245.78 108.29,245.35 108.85,245.24 109.42,244.43 109.98,244.86 110.55,243.82 111.11,244.39 111.68,241.28 112.24,241.37 112.81,241.13 113.38,241.31 113.94,240.47 114.51,239.93 115.07,239.74 115.64,239.48 116.2,240.34 116.77,239.19 117.33,239.52 117.9,239.63 118.46,239.27 119.03,237.95 119.59,237.25 120.16,238.55 120.72,236.35 121.29,236.32 121.85,237.29 122.42,237.1 122.98,236.6 123.55,235.68 124.12,236.31 124.68,236.54 125.25,235.4 125.81,236.7 126.38,235.04 126.94,234.12 127.51,234.39 128.07,233.81 128.64,233.72 129.2,233.32 129.77,233.48 130.33,233.93 130.9,233.39 131.46,233.16 132.03,232.18 132.59,231.8 133.16,232.43 133.72,233.03 134.29,232.87 134.86,232.39 135.42,231.24 135.99,231.77 136.55,231.84 137.12,232.09 137.68,230.83 138.25,230.99 138.81,230.98 139.38,230.65 139.94,229.4 140.51,230.34 141.07,228.93 141.64,229.01 142.2,229.59 142.77,228.89 143.33,229.37 143.9,229.67 144.47,229.15 145.03,229.39 145.6,228.3 146.16,228.43 146.73,227.92 147.29,227.64 147.86,230.09 148.42,227.85 148.99,229.15 149.55,227.82 150.12,228.38 150.68,227.62 151.25,226.66 151.81,228.46 152.38,227.1 152.94,227.15 153.51,228.2 154.07,226.49 154.64,226.78 155.21,227 155.77,226.99 156.34,224.3 156.9,226.4 157.47,227.1 158.03,226.35 158.6,225.84 159.16,225.72 159.73,225.41 160.29,225.91 160.86,224.76 161.42,225.24 161.99,225.6 162.55,225.04 163.12,224.54 163.68,223.53 164.25,223.56 164.82,223.91 165.38,223.54 165.95,223.31 166.51,222.05 167.08,223.66 167.64,222.88 168.21,222.62 168.77,223.61 169.34,222.83 169.9,222.82 170.47,223.23 171.03,222.58 171.6,222.3 172.16,222.24 172.73,223.05 173.29,222.73 173.86,221.2 174.43,223.2 174.99,222.12 175.56,221.46 176.12,221.76 176.69,221.35 177.25,221.65 177.82,221.31 178.38,221.01 178.95,221.97 179.51,221.64 180.08,221.69 180.64,221.77 181.21,221.37 181.77,221.96 182.34,220.67 182.9,220 183.47,219.94 184.03,220.12 184.6,221.42 185.17,219.67 185.73,220.94 186.3,220.37 186.86,219.05 187.43,220.83 187.99,219.54 188.56,219.83 189.12,220.04 189.69,220.43 190.25,219.52 190.82,220 191.38,218.96 191.95,218.78 192.51,220.39 193.08,219.79 193.64,219.65 194.21,220.19 194.78,220.15 195.34,219.38 195.91,219.56 196.47,220.44 197.04,219.66 197.6,218.9 198.17,219.92 198.73,219.71 199.3,218.11 199.86,218.32 200.43,220.23 200.99,220.07 201.56,218.92 202.12,219.82 202.69,219.05 203.25,218.98 203.82,218.11 204.38,219.88 204.95,219.49 205.52,218.71 206.08,217.16 206.65,217.8 207.21,218.71 207.78,217.23 208.34,217.04 208.91,217.61 209.47,217.65 210.04,217.15 210.6,216.66 211.17,217.34 211.73,217.1 212.3,217.45 212.86,217.63 213.43,217.92 213.99,217.1 214.56,217.38 215.12,217.27 215.69,216.44 216.26,216.64 216.82,216.29 217.39,217.71 217.95,216.19 218.52,216.78 219.08,216.79 219.65,216.73 220.21,215.33 220.78,215.5 221.34,216.41 221.91,216.61 222.47,215.82 223.04,216.11 223.6,214.78 224.17,216.81 224.73,217.08 225.3,216.1 225.87,215.92 226.43,215.82 227,215.39 227.56,214.54 228.13,216.08 228.69,216.23 229.26,217.04 229.82,215.78 230.39,215.4 230.95,216.08 231.52,215.08 232.07,215.67 232.08,212.99 232.65,216 233.21,218.99 233.78,220.71 234.34,223.18 234.91,225.11 235.47,225.55 236.04,226.77 236.61,227.59 237.17,230.27 237.74,231.68 238.3,233.43 238.87,233.17 239.43,234.51 240,236 240.56,235.96 241.13,236.76 241.69,239.01 242.26,238.04 242.82,239.13 243.39,240.18 243.95,240.89 244.52,240.13 245.08,240.79 245.65,241.01 246.22,243.21 246.78,243.13 247.35,242.32 247.91,243.85 248.48,243.72 249.04,244.62 249.61,242.54 250.17,243.36 250.74,244.14 251.3,244.72 251.87,245.58 252.43,245.99 253,245.71 253.56,246.85 254.13,245.85 254.69,247.16 255.26,247.62 255.82,246.47 256.39,247.64 256.96,247.46 257.52,248.34 258.09,249.75 258.65,248.14 259.22,249.45 259.78,247.93 260.35,249.61 260.91,249.83 261.48,248.54 262.04,248.66 262.61,249.16 263.17,250.33 263.74,249.3 264.3,251.05 264.87,250.57 265.43,250.89 266,250.71" stroke="#dc7203"/>
<polyline points="62.5,273.17 63.07,272.59 63.63,273.82 64.2,274.64 64.76,273.98 65.33,273.95 65.89,272.69 66.46,272.06 67.02,274.16 67.59,273.86 68.15,273.76 68.72,274.07 69.28,274.96 69.85,274.09 70.41,274 70.98,274.02 71.54,275.21 72.11,274.24 72.67,275.38 73.24,273.19 73.81,274.62 74.37,273.99 74.94,274.09 75.5,274.1 76.07,274.32 76.63,274.65 77.2,271.67 77.76,272.64 78.33,272.54 78.89,271.13 79.46,272.96 80.02,272.58 80.59,273.12 81.15,272.29 81.72,272.87 82.28,273.04 82.85,273.51 83.42,273.12 83.98,272.47 84.55,275.08 85.11,273.63 85.68,273.93 86.24,273.89 86.81,275.21 87.37,273.06 87.94,274.24 88.5,273.7 89.07,273.86 89.63,274.72 90.2,273.73 90.76,274.8 91.33,274.11 91.89,273.66 92.46,273.47 93.03,273.46 93.59,273.61 94.16,271.76 94.72,273.02 95.29,274.28 95.85,273.87 96.42,274.08 96.98,273.95 97.09,274.54 97.55,274.08 98.11,271.36 98.68,271.95 99.24,271.64 99.81,271 100.37,270.43 100.94,268.67 101.5,268.94 102.07,268.08 102.63,271.14 103.2,268.28 103.77,267.65 104.33,266.95 104.9,268.52 105.46,269.93 106.03,268.13 106.59,269.02 107.16,269.87 107.72,268.83 108.29,267.36 108.85,267.05 109.42,267.19 109.98,268.34 110.55,265.34 111.11,268.09 111.68,267.2 112.24,268.31 112.81,266.24 113.38,267.06 113.94,266.87 114.51,267.65 115.07,267.91 115.64,267.8 116.2,269.44 116.77,267.1 117.33,266.97 117.9,267.72 118.46,267.1 119.03,266.56 119.59,265.36 120.16,266.17 120.72,266.47 121.29,266.94 121.85,267.76 122.42,267.1 122.98,266.63 123.55,266.96 124.12,266.8 124.68,266.37 125.25,266.69 125.81,266.83 126.38,266.48 126.94,266.74 127.51,266.77 128.07,266.25 128.64,267.89 129.2,265.53 129.77,267.54 130.33,265.93 130.9,266.63 131.46,265.82 132.03,266.68 132.59,267.42 133.16,265.77 133.72,266.36 134.29,266.29 134.86,266.2 135.42,265.36 135.99,265.41 136.55,265.8 137.12,267.16 137.68,266.25 138.25,265.87 138.81,264.56 139.38,265.64 139.94,265.96 140.51,264.86 141.07,265.77 141.64,265.59 142.2,265.36 142.77,266.6 143.33,264.67 143.9,265.09 144.47,265.65 145.03,266.28 145.6,265.15 146.16,264.15 146.73,265.7 147.29,266.03 147.86,264.91 148.42,266.55 148.99,267.1 149.55,265.74 150.12,265.93 150.68,265.6 151.25,265.81 151.81,265.13 152.38,265.6 152.94,265.94 153.51,265.86 154.07,265 154.64,264.67 155.21,264.54 155.77,264.44 156.34,267.27 156.9,265.19 157.47,264.47 158.03,264 158.6,265.47 159.16,263.19 159.73,264.18 160.29,264.99 160.86,264.44 161.42,264.88 161.99,265.23 162.55,264.23 163.12,264.96 163.68,265.67 164.25,265.05 164.82,264.67 165.38,265.49 165.95,263.71 166.51,265.53 167.08,263.19 167.64,263.68 168.21,264.94 168.77,264.02 169.34,263.22 169.9,264.4 170.47,265.31 171.03,264.36 171.6,262.9 172.16,265.61 172.73,264 173.29,264.43 173.86,264.53 174.43,264.73 174.99,264.66 175.56,263.59 176.12,263.97 176.69,265.26 177.25,263.3 177.82,265.56 178.38,264.03 178.95,264.36 179.51,263.48 180.08,264.02 180.64,263.33 181.21,264.06 181.77,263.23 182.34,263.74 182.9,262.39 183.47,264.65 184.03,263.13 184.6,263.59 185.17,263.67 185.73,264.14 186.3,263.3 186.86,264.83 187.43,264.81 187.99,263.23 188.56,265.03 189.12,262.65 189.69,263.9 190.25,263.34 190.82,263.32 191.38,262.91 191.95,263.36 192.51,263.39 193.08,263.19 193.64,262.29 194.21,262.26 194.78,262.21 195.34,262.99 195.91,263.49 196.47,264.68 197.04,262.84 197.6,262.65 198.17,263.59 198.73,262.66 199.3,262.37 199.86,263.43 200.43,262.8 200.99,263.46 201.56,265.06 202.12,264.01 202.69,263.85 203.25,263 203.82,263.96 204.38,263.51 204.95,263.79 205.52,262.96 206.08,262.78 206.65,262 207.21,262.05 207.78,262.44 208.34,262.25 208.91,262.2 209.47,262.09 210.04,260.93 210.6,264.15 211.17,262.47 211.73,262.24 212.3,261.73 212.86,263.56 213.43,262.49 213.99,262.12 214.56,263.16 215.12,264.3 215.69,263.02 216.26,263.58 216.82,262.04 217.39,263.17 217.95,261.12 218.52,262.47 219.08,263.29 219.65,263.14 220.21,263.65 220.78,262.53 221.34,261.69 221.91,263.05 222.47,262.15 223.04,263.58 223.6,262.55 224.17,260.94 224.73,263.83 225.3,261.77 225.87,261.82 226.43,264.23 227,263.89 227.56,263.52 228.13,261.98 228.69,263.04 229.26,262.79 229.82,262.07 230.39,262.5 230.95,262.37 231.52,262.72 232.07,261.47 232.08,262.77 232.65,261.06 233.21,262.87 233.78,263.49 234.34,262.62 234.91,263.04 235.47,265.21 236.04,263.74 236.61,265.24 237.17,265.11 237.74,264.14 238.3,265.71 238.87,265 239.43,265.81 240,264.23 240.56,266.07 241.13,267.16 241.69,267.33 242.26,267.35 242.82,266.64 243.39,266.78 243.95,266.02 244.52,266.64 245.08,266.7 245.65,266.61 246.22,267.1 246.78,266.96 247.35,266.79 247.91,267 248.48,268.21 249.04,269.28 249.61,268.59 250.17,267.8 250.74,270.05 251.3,268.6 251.87,268 252.43,268.89 253,269.38 253.56,267.15 254.13,267.47 254.69,268.81 255.26,267.66 255.82,267.77 256.39,269.72 256.96,266.74 257.52,269.57 258.09,269.06 258.65,269.81 259.22,269.06 259.78,270.39 260.35,269.58 260.91,268.88 261.48,269.62 262.04,269.97 262.61,268.48 263.17,270.34 263.74,268.88 264.3,269.94 264.87,269.63 265.43,269.88 266,269.86" stroke="#ffc800"/>
<polyline points="62.5,273.9 63.07,272.22 63.63,274.47 64.2,273.59 64.76,274.3 65.33,273.17 65.89,273.37 66.46,273.81 67.02,274.93 67.59,273.9 68.15,272.55 68.72,273.71 69.28,273.09 69.85,274.01 70.41,275.11 70.98,273.29 71.54,273.28 72.11,273.83 72.67,273.52 73.24,272.86 73.81,273.4 74.37,272.53 74.94,272.83 75.5,274.41 76.07,272.7 76.63,273.16 77.2,273.52 77.76,272.76 78.33,273.63 78.89,272.97 79.46,272.64 80.02,273.44 80.59,274.79 81.15,274.16 81.72,272.88 82.28,273.76 82.85,274.15 83.42,273.58 83.98,273.13 84.55,273.36 85.11,273.11 85.68,274.28 86.24,273.84 86.81,273.75 87.37,273.48 87.94,275.01 88.5,273.51 89.07,274.34 89.63,272.23 90.2,272.14 90.76,272.11 91.33,272.86 91.89,273.9 92.46,272.77 93.03,273.63 93.59,272.97 94.16,274.14 94.72,273.9 95.29,273.07 95.85,272.02 96.42,273.35 96.98,271.49 97.09,270.98 97.55,273.94 98.11,272.78 98.68,273.33 99.24,272.63 99.81,272.98 100.37,272.77 100.94,272.16 101.5,272.34 102.07,272.96 102.63,273.16 103.2,272.98 103.77,272.82 104.33,272.28 104.9,272.5 105.46,271.9 106.03,273.12 106.59,271.35 107.16,270.53 107.72,271.71 108.29,272.96 108.85,270.83 109.42,272.11 109.98,274.12 110.55,271.9 111.11,271.23 111.68,271.42 112.24,270.86 112.81,271.48 113.38,271.97 113.94,273.63 114.51,272.92 115.07,271.82 115.64,271.32 116.2,272.56 116.77,272.19 117.33,271.35 117.9,273.26 118.46,273.42 119.03,272.27 119.59,272.1 120.16,272.85 120.72,274.39 121.29,272.63 121.85,273.64 122.42,272.01 122.98,272.51 123.55,272.18 124.12,271.89 124.68,272.84 125.25,271.83 125.81,271.5 126.38,272.08 126.94,271.23 127.51,272.57 128.07,271.17 128.64,271.47 129.2,272.26 129.77,271.4 130.33,271.64 130.9,271.62 131.46,271.15 132.03,270.49 132.59,271.7 133.16,271.49 133.72,272.81 134.29,271.58 134.86,270.69 135.42,270.82 135.99,270.96 136.55,271.69 137.12,272.08 137.68,271.52 138.25,272.61 138.81,272.61 139.38,270.93 139.94,272.3 140.51,270.06 141.07,272.4 141.64,270.79 142.2,271.94 142.77,270.92 143.33,272.04 143.9,271.46 144.47,271.9 145.03,272.36 145.6,271.73 146.16,270.98 146.73,272.55 147.29,271.3 147.86,271.79 148.42,271.73 148.99,269.86 149.55,273.12 150.12,271.88 150.68,272.71 151.25,271.55 151.81,271.53 152.38,268.44 152.94,271.15 153.51,270.02 154.07,270.39 154.64,271.72 155.21,271.01 155.77,270.12 156.34,271.34 156.9,271.4 157.47,271.28 158.03,272.95 158.6,272.49 159.16,271.63 159.73,271.48 160.29,272.62 160.86,272.17 161.42,272.05 161.99,272.15 162.55,271.58 163.12,272.14 163.68,272.16 164.25,273.4 164.82,273.03 165.38,271.75 165.95,272.95 166.51,271.16 167.08,271.57 167.64,271.43 168.21,270.15 168.77,271.14 169.34,271.33 169.9,271.3 170.47,270.86 171.03,268.9 171.6,272.81 172.16,271.3 172.73,271.59 173.29,270.74 173.86,271.8 174.43,273.41 174.99,270.4 175.56,272.2 176.12,271.32 176.69,272.3 177.25,272.07 177.82,271.62 178.38,270.57 178.95,270.56 179.51,271.65 180.08,270.75 180.64,271.4 181.21,270.98 181.77,270.9 182.34,270.5 182.9,271.45 183.47,271.14 184.03,270.98 184.6,271.19 185.17,271.94 185.73,269.98 186.3,271.64 186.86,270.68 187.43,271.15 187.99,270.45 188.56,273.2 189.12,269.98 189.69,271.74 190.25,272.47 190.82,271.3 191.38,269.52 191.95,270.78 192.51,272.07 193.08,271.46 193.64,270.06 194.21,272.19 194.78,271.22 195.34,271.29 195.91,269.36 196.47,271.25 197.04,269.95 197.6,271.43 198.17,271.43 198.73,269.94 199.3,270.19 199.86,272.03 200.43,270.27 200.99,270.41 201.56,271.55 202.12,271.07 202.69,271.18 203.25,271.87 203.82,272 204.38,272.06 204.95,271.68 205.52,272.37 206.08,271.22 206.65,272.21 207.21,270.92 207.78,271.08 208.34,271.94 208.91,270.62 209.47,269.89 210.04,270.41 210.6,272.47 211.17,270.3 211.73,270.96 212.3,271.01 212.86,271.31 213.43,270.82 213.99,269.78 214.56,270.57 215.12,271.46 215.69,271.79 216.26,271.67 216.82,270.91 217.39,269.89 217.95,272.13 218.52,271.27 219.08,271.55 219.65,271.83 220.21,270.94 220.78,270.84 221.34,272.41 221.91,272.15 222.47,270.41 223.04,271.06 223.6,270.84 224.17,271.6 224.73,271.5 225.3,270.87 225.87,271.62 226.43,272.05 227,271.08 227.56,270.26 228.13,271.69 228.69,270.08 229.26,270.44 229.82,271.8 230.39,271.29 230.95,271.46 231.52,271.04 232.07,271.08 232.08,272.65 232.65,272.71 233.21,270.88 233.78,271.58 234.34,271.3 234.91,271.29 235.47,270.27 236.04,272.3 236.61,270.45 237.17,271.91 237.74,270.7 238.3,270.22 238.87,272.3 239.43,270.84 240,271.28 240.56,271.21 241.13,270.92 241.69,271.77 242.26,271.75 242.82,270.57 243.39,270.51 243.95,271.68 244.52,272.4 245.08,269.47 245.65,270.36 246.22,270.86 246.78,271.87 247.35,271.51 247.91,270.93 248.48,272 249.04,270.18 249.61,271.47 250.17,271.38 250.74,272.52 251.3,272.42 251.87,272.28 252.43,271.4 253,271.75 253.56,271.71 254.13,271.19 254.69,271.22 255.26,270.22 255.82,271.5 256.39,272.13 256.96,271.38 257.52,270.29 258.09,271.91 258.65,271.51 259.22,271.91 259.78,271.4 260.35,271.57 260.91,272.43 261.48,271.99 262.04,271.09 262.61,270.97 263.17,271.09 263.74,271.1 264.3,271.97 264.87,271.92 265.43,270.86 266,272.43" stroke="#008c32"/>
<polyline points="62.5,274.5 63.07,275.5 63.63,272.8 64.2,272.06 64.76,274.18 65.33,273.58 65.89,272.86 66.46,272.4 67.02,272.66 67.59,272.18 68.15,273.21 68.72,272.85 69.28,272.87 69.85,273.56 70.41,272.38 70.98,272.91 71.54,272.71 72.11,273.8 72.67,272.7 73.24,274.27 73.81,273.11 74.37,275.35 74.94,274.03 75.5,272.59 76.07,273.41 76.63,272.89 77.2,274.27 77.76,271.88 78.33,272.67 78.89,273.2 79.46,272.92 80.02,273.03 80.59,272.21 81.15,273.11 81.72,274.34 82.28,273.3 82.85,271.99 83.42,272.4 83.98,273.02 84.55,272.12 85.11,272.44 85.68,272.05 86.24,273.79 86.81,273.39 87.37,272.38 87.94,273.28 88.5,273.04 89.07,271.95 89.63,273.74 90.2,273.29 90.76,273.81 91.33,273.77 91.89,273.27 92.46,274.3 93.03,274.82 93.59,272.19 94.16,273.33 94.72,272.39 95.29,273.13 95.85,273.09 96.42,272.7 96.98,272.72 97.09,274.27 97.55,272.48 98.11,274.13 98.68,273.11 99.24,271.09 99.81,272.72 100.37,271.25 100.94,272.62 101.5,271.82 102.07,272.31 102.63,272.19 103.2,273.36 103.77,273.57 104.33,272.71 104.9,274.19 105.46,273.62 106.03,272.43 106.59,273.33 107.16,273.47 107.72,273.58 108.29,272.56 108.85,272.89 109.42,272.44 109.98,272.67 110.55,271.12 111.11,272.93 111.68,274.15 112.24,272.6 112.81,272.67 113.38,272.5 113.94,273.78 114.51,271.63 115.07,272.48 115.64,272.48 116.2,273.68 116.77,272.13 117.33,272.53 117.9,271.38 118.46,272.61 119.03,273.11 119.59,272.01 120.16,272.82 120.72,271.88 121.29,273.11 121.85,272.44 122.42,272.53 122.98,272.36 123.55,272.66 124.12,272.78 124.68,272.09 125.25,272.36 125.81,271.7 126.38,272 126.94,273.56 127.51,272.02 128.07,271.09 128.64,272.1 129.2,272.03 129.77,272.27 130.33,273.08 130.9,273.84 131.46,272.29 132.03,272.14 132.59,272.47 133.16,272.48 133.72,272.37 134.29,272.54 134.86,272.2 135.42,272.31 135.99,272.02 136.55,272.96 137.12,272.7 137.68,271.77 138.25,272.43 138.81,273.97 139.38,271.99 139.94,273.78 140.51,270.56 141.07,271.43 141.64,271.45 142.2,272.45 142.77,272.8 143.33,272.12 143.9,271.97 144.47,272.63 145.03,271.99 145.6,271.63 146.16,271.69 146.73,272.85 147.29,273.56 147.86,271.75 148.42,272.08 148.99,271.11 149.55,270.15 150.12,270.22 150.68,271.43 151.25,271.1 151.81,270.99 152.38,272.43 152.94,272.4 153.51,272.03 154.07,272.73 154.64,273.1 155.21,273.31 155.77,272.72 156.34,273.14 156.9,271.97 157.47,272.69 158.03,271.21 158.6,271.29 159.16,273.03 159.73,271.18 160.29,272.2 160.86,270.78 161.42,271.39 161.99,271.82 162.55,271.34 163.12,272.37 163.68,271.85 164.25,271.98 164.82,272.56 165.38,272.28 165.95,273.35 166.51,272.09 167.08,273.23 167.64,271.64 168.21,271.56 168.77,271.25 169.34,272.18 169.9,269.58 170.47,272.16 171.03,272 171.6,272.69 172.16,270.95 172.73,272.17 173.29,270.89 173.86,272.24 174.43,271.33 174.99,271.94 175.56,271.11 176.12,272.11 176.69,272.55 177.25,271.48 177.82,272.55 178.38,272.2 178.95,270.77 179.51,272.66 180.08,270.68 180.64,271.55 181.21,271.96 181.77,271.16 182.34,270.96 182.9,271.99 183.47,271.81 184.03,271.16 184.6,271.2 185.17,271.76 185.73,272.24 186.3,272.35 186.86,272.13 187.43,271.26 187.99,271.43 188.56,271.71 189.12,270.94 189.69,272.21 190.25,272.26 190.82,272.27 191.38,270.54 191.95,273.43 192.51,271.6 193.08,271.4 193.64,271.65 194.21,269.99 194.78,270.93 195.34,271.29 195.91,272.56 196.47,271.5 197.04,272.07 197.6,271.65 198.17,271.42 198.73,271.84 199.3,270.96 199.86,270.2 200.43,270.62 200.99,271.21 201.56,272.8 202.12,270.58 202.69,270.61 203.25,271.6 203.82,271.89 204.38,271.16 204.95,272.34 205.52,271.21 206.08,272.57 206.65,272.38 207.21,271.61 207.78,272.66 208.34,271.62 208.91,271.32 209.47,272.77 210.04,271.16 210.6,272.24 211.17,271.39 211.73,271.64 212.3,272.22 212.86,272.41 213.43,273.43 213.99,272.76 214.56,272.77 215.12,270.85 215.69,271.11 216.26,272.67 216.82,270.92 217.39,271.24 217.95,271.62 218.52,270.95 219.08,270.64 219.65,271.54 220.21,271.23 220.78,270.83 221.34,271.64 221.91,270.78 222.47,270.99 223.04,271.46 223.6,271.62 224.17,270.85 224.73,270.53 225.3,271.04 225.87,272.02 226.43,270.93 227,271.43 227.56,271.17 228.13,270.8 228.69,272.35 229.26,271.8 229.82,272.13 230.39,272.33 230.95,270.23 231.52,271.04 232.07,273.05 232.08,271.45 232.65,272.15 233.21,270.86 233.78,271.56 234.34,271.63 234.91,271.24 235.47,270.88 236.04,270.95 236.61,270.98 237.17,270.83 237.74,270.34 238.3,271.58 238.87,270.79 239.43,270.9 240,271.19 240.56,270.33 241.13,271.87 241.69,271.26 242.26,271.67 242.82,270.68 243.39,271.44 243.95,271.05 244.52,270.78 245.08,272.19 245.65,270.64 246.22,271.5 246.78,271.17 247.35,271.15 247.91,270.61 248.48,270.82 249.04,270.2 249.61,271.45 250.17,271.96 250.74,271.94 251.3,271 251.87,270.19 252.43,271.02 253,271.65 253.56,271.05 254.13,271.12 254.69,271.35 255.26,271.96 255.82,273.27 256.39,271.75 256.96,270.5 257.52,271.03 258.09,272.72 258.65,271.04 259.22,272.37 259.78,269.56 260.35,270.92 260.91,272 261.48,270.6 262.04,271.81 262.61,270.86 263.17,271.27 263.74,272.18 264.3,270.89 264.87,272.46 265.43,270.62 266,271.67" stroke="#12c2c2"/>
<polyline points="62.5,272.41 63.07,271.54 63.63,272.9 64.2,273.95 64.76,272.53 65.33,273.33 65.89,271.52 66.46,273.15 67.02,273.24 67.59,273.82 68.15,273.23 68.72,273.94 69.28,274.27 69.85,273.66 70.41,274.23 70.98,272.54 71.54,274.36 72.11,273.4 72.67,273.75 73.24,274.16 73.81,271.71 74.37,274.51 74.94,271.69 75.5,273.84 76.07,272.69 76.63,271.09 77.2,274.57 77.76,274.1 78.33,272.12 78.89,273.03 79.46,273.56 80.02,273.1 80.59,273.72 81.15,272.75 81.72,271.56 82.28,272.87 82.85,272.39 83.42,271.59 83.98,271.1 84.55,273.27 85.11,272.78 85.68,273.59 86.24,273.74 86.81,273.59 87.37,273.79 87.94,274.63 88.5,274.79 89.07,273.77 89.63,273.04 90.2,272.18 90.76,273.56 91.33,273.37 91.89,272.84 92.46,272.89 93.03,273.63 93.59,273.64 94.16,272.2 94.72,273.91 95.29,274 95.85,274.8 96.42,273.14 96.98,273.59 97.09,271.87 97.55,273.56 98.11,272.65 98.68,272.51 99.24,271.9 99.81,274.11 100.37,271.86 100.94,273.05 101.5,273.17 102.07,273.39 102.63,273.52 103.2,273.56 103.77,275.15 104.33,272.99 104.9,273.29 105.46,273.96 106.03,273.09 106.59,271.02 107.16,272.2 107.72,272.53 108.29,270.77 108.85,272.69 109.42,272.36 109.98,272.94 110.55,272.98 111.11,272.47 111.68,272.73 112.24,273.79 112.81,273.29 113.38,273.03 113.94,273.28 114.51,272.87 115.07,273.31 115.64,273.3 116.2,272.73 116.77,273.6 117.33,272.52 117.9,272.96 118.46,273.41 119.03,273.02 119.59,272.74 120.16,272.35 120.72,272.06 121.29,272.31 121.85,272.89 122.42,271.23 122.98,271.71 123.55,272.33 124.12,271.65 124.68,272.09 125.25,272.57 125.81,272.44 126.38,270.7 126.94,272.22 127.51,272.38 128.07,273.59 128.64,272.86 129.2,271.54 129.77,272.84 130.33,272.23 130.9,271.97 131.46,272.32 132.03,271.5 132.59,272.42 133.16,272.11 133.72,272.86 134.29,270.27 134.86,271.97 135.42,272.06 135.99,271.07 136.55,272.52 137.12,272.19 137.68,272.85 138.25,272.34 138.81,272.77 139.38,272.18 139.94,272.77 140.51,273.16 141.07,272.9 141.64,272.68 142.2,272.87 142.77,271.64 143.33,271.71 143.9,272.02 144.47,272.99 145.03,271.73 145.6,273.19 146.16,272.24 146.73,272.53 147.29,273.21 147.86,273.56 148.42,273.59 148.99,271.55 149.55,273.26 150.12,273.09 150.68,272.06 151.25,272.36 151.81,271.82 152.38,273.57 152.94,273.54 153.51,270.3 154.07,272.96 154.64,273.24 155.21,272.96 155.77,272.34 156.34,273.94 156.9,272.72 157.47,272.84 158.03,272.2 158.6,272.5 159.16,273 159.73,273.22 160.29,274.33 160.86,271.62 161.42,273.32 161.99,272.38 162.55,270.77 163.12,272.38 163.68,271.69 164.25,272.41 164.82,271.79 165.38,272.34 165.95,272.79 166.51,271.46 167.08,272.79 167.64,273.73 168.21,273.06 168.77,272.44 169.34,273.66 169.9,272.17 170.47,272.12 171.03,271.04 171.6,273.06 172.16,272.02 172.73,273.75 173.29,272.81 173.86,272.45 174.43,272.27 174.99,272.65 175.56,272.68 176.12,273.04 176.69,272.86 177.25,272.26 177.82,272.05 178.38,272.01 178.95,271.78 179.51,271.68 180.08,274 180.64,273.14 181.21,273 181.77,273.52 182.34,272.39 182.9,272.71 183.47,273.35 184.03,273.05 184.6,271.96 185.17,272.88 185.73,272.57 186.3,271.43 186.86,271.6 187.43,270.78 187.99,271.48 188.56,271.06 189.12,271.88 189.69,272.03 190.25,271.25 190.82,273.26 191.38,271.06 191.95,270.79 192.51,271.61 193.08,271.98 193.64,271.15 194.21,272.17 194.78,271.61 195.34,270.9 195.91,272.17 196.47,272.11 197.04,272.48 197.6,272.65 198.17,272.6 198.73,272.75 199.3,272.02 199.86,274.08 200.43,273.1 200.99,272.4 201.56,273.48 202.12,272.84 202.69,273.18 203.25,272.24 203.82,271.86 204.38,271.41 204.95,272.19 205.52,273.23 206.08,272.66 206.65,272.55 207.21,271.98 207.78,274.61 208.34,272.61 208.91,274.06 209.47,271.91 210.04,271.86 210.6,271.59 211.17,271.16 211.73,271.5 212.3,272.32 212.86,271.69 213.43,271.18 213.99,272.31 214.56,272.34 215.12,273.43 215.69,271.8 216.26,273.17 216.82,273.39 217.39,273.1 217.95,273.23 218.52,272.53 219.08,271.14 219.65,271.32 220.21,270.75 220.78,270.68 221.34,272.49 221.91,271.51 222.47,270.78 223.04,270.21 223.6,273 224.17,273.04 224.73,271.69 225.3,272.39 225.87,272.98 226.43,272.01 227,272.91 227.56,274.07 228.13,272.5 228.69,272.55 229.26,272.35 229.82,272.27 230.39,272.92 230.95,273.25 231.52,273.56 232.07,274.27 232.08,273.3 232.65,272.12 233.21,272.22 233.78,270.98 234.34,272.44 234.91,273.5 235.47,271.42 236.04,271.15 236.61,272.7 237.17,272.95 237.74,271.55 238.3,271.1 238.87,272.5 239.43,272.01 240,272.51 240.56,273.01 241.13,273.3 241.69,272.34 242.26,272.8 242.82,273.05 243.39,274.52 243.95,271.28 244.52,273.33 245.08,272.76 245.65,273.5 246.22,272.34 246.78,273.73 247.35,272.53 247.91,272.8 248.48,272.07 249.04,273.7 249.61,273.45 250.17,273.17 250.74,271.42 251.3,274.08 251.87,272.78 252.43,273.56 253,272.95 253.56,272.82 254.13,273.3 254.69,273.23 255.26,273.15 255.82,273.65 256.39,273.18 256.96,274.1 257.52,273.03 258.09,273.31 258.65,272.93 259.22,272.2 259.78,272.47 260.35,272.42 260.91,271.99 261.48,274.69 262.04,272.71 262.61,273.17 263.17,273.32 263.74,274.26 264.3,272.86 264.87,272.37 265.43,272.4 266,273.16" stroke="#0404e6"/>
<path d="M96.42 161.3V277M232.08 161.3V277" stroke="#000" stroke-width="2.5"/>
</g>
<text x="62.5" y="292.3" text-anchor="middle" font-size="14.3">0</text>
<text x="119.03" y="292.3" text-anchor="middle" font-size="14.3">50</text>
<text x="175.56" y="292.3" text-anchor="middle" font-size="14.3">100</text>
<text x="232.08" y="292.3" text-anchor="middle" font-size="14.3">150</text>
<text x="60" y="279.22" text-anchor="end" font-size="14.3">0</text>
<text x="60" y="260.55" text-anchor="end" font-size="14.3">1</text>
<text x="60" y="241.89" text-anchor="end" font-size="14.3">2</text>
<text x="60" y="223.23" text-anchor="end" font-size="14.3">3</text>
<text x="60" y="204.57" text-anchor="end" font-size="14.3">4</text>
<text x="60" y="185.91" text-anchor="end" font-size="14.3">5</text>
<text x="60" y="167.25" text-anchor="end" font-size="14.3">6</text>
<text x="164.25" y="308.3" text-anchor="middle" font-size="14">Time [s]</text>
<clipPath id="clipcL"><rect x="63.2" y="318.7" width="204.9" height="117"/></clipPath>
<rect x="63.8" y="319.5" width="203.7" height="115.4" fill="#fff" stroke="#a6a6a6" stroke-width="1.3"/>
<path d="M63.8 434.9v-2.2M63.8 319.5v2.2M120.38 434.9v-2.2M120.38 319.5v2.2M176.97 434.9v-2.2M176.97 319.5v2.2M233.55 434.9v-2.2M233.55 319.5v2.2M63.8 431.18h2.2M267.5 431.18h-2.2M63.8 412.56h2.2M267.5 412.56h-2.2M63.8 393.95h2.2M267.5 393.95h-2.2M63.8 375.34h2.2M267.5 375.34h-2.2M63.8 356.73h2.2M267.5 356.73h-2.2M63.8 338.11h2.2M267.5 338.11h-2.2M63.8 319.5h2.2M267.5 319.5h-2.2" stroke="#555" stroke-width="1" fill="none"/>
<g clip-path="url(#clipcL)" fill="none" stroke-width="1.7" stroke-linejoin="round">
<polyline points="63.8,431.37 64.37,432.38 64.93,431.58 65.5,430.62 66.06,430.49 66.63,430.3 67.19,431.18 67.76,431 68.33,430.89 68.89,430.62 69.46,431.31 70.02,430.33 70.59,430.87 71.16,430.34 71.72,430.8 72.29,430.67 72.85,431.64 73.42,431.44 73.98,432.04 74.55,431.38 75.12,431.29 75.68,430.62 76.25,432.05 76.81,429.08 77.38,431.39 77.95,430.52 78.51,430.71 79.08,433.13 79.64,431.63 80.21,430.46 80.78,433.02 81.34,430.82 81.91,431.88 82.47,431.53 83.04,431.06 83.6,432.49 84.17,431.14 84.74,431.73 85.3,431.78 85.87,430.75 86.43,428.81 87,430.89 87.56,430.76 88.13,431.2 88.7,431.72 89.26,431.15 89.83,430.38 90.39,431.33 90.96,430.9 91.53,431.67 92.09,429.85 92.66,432.65 93.22,431.17 93.79,431.22 94.35,431.42 94.92,432.36 95.49,432.37 96.05,431.72 96.62,431.43 97.18,432.24 97.75,432.07 98.32,430.92 98.43,430.55 98.88,427.81 99.45,423.41 100.01,419.2 100.58,413.09 101.14,410.76 101.71,407.77 102.28,403.97 102.84,400.27 103.41,398.39 103.97,397.65 104.54,394.4 105.11,392.38 105.67,390.24 106.24,388.87 106.8,386.51 107.37,385.31 107.94,382.79 108.5,381.51 109.07,381.08 109.63,379.92 110.2,377.81 110.76,375.82 111.33,374.76 111.9,374 112.46,375.07 113.03,372.12 113.59,371.28 114.16,370.05 114.72,369.75 115.29,368.37 115.86,367.74 116.42,364.74 116.99,365.42 117.55,365.4 118.12,364.72 118.69,364.2 119.25,363.43 119.82,363.27 120.38,362.46 120.95,361.22 121.51,360.83 122.08,360.67 122.65,359.49 123.21,359.74 123.78,360.07 124.34,360.12 124.91,358.97 125.48,358.12 126.04,357.39 126.61,356.52 127.17,357.23 127.74,357.01 128.31,355.61 128.87,354.98 129.44,355.71 130,354.74 130.57,353.59 131.13,353.86 131.7,353.72 132.27,354.74 132.83,352.14 133.4,352.29 133.96,352.32 134.53,352.39 135.09,352.6 135.66,351.54 136.23,351.3 136.79,350.26 137.36,351.61 137.92,349.63 138.49,350.38 139.06,349.39 139.62,350.59 140.19,349.43 140.75,348.54 141.32,348.99 141.88,349.77 142.45,348.74 143.02,347.91 143.58,348.98 144.15,348.77 144.71,347.39 145.28,347.92 145.85,346.54 146.41,347.52 146.98,347.73 147.54,346.81 148.11,345.11 148.68,346.54 149.24,345.78 149.81,345.4 150.37,345.93 150.94,344.26 151.5,344.57 152.07,344.09 152.64,345.24 153.2,345.02 153.77,345.43 154.33,343.44 154.9,343.2 155.47,342.32 156.03,341.61 156.6,342.63 157.16,342.53 157.73,341.96 158.29,341.14 158.86,342.57 159.43,341.38 159.99,341.71 160.56,341.51 161.12,340.48 161.69,341.33 162.25,341.3 162.82,339.94 163.39,340.22 163.95,340.22 164.52,340.01 165.08,339.47 165.65,339.93 166.22,339 166.78,339.01 167.35,337.99 167.91,337.8 168.48,337.73 169.04,338.13 169.61,337.66 170.18,337.95 170.74,335.5 171.31,337.44 171.87,336.8 172.44,336.11 173.01,337.75 173.57,337.18 174.14,336.66 174.7,336.85 175.27,336.85 175.83,336.19 176.4,334.82 176.97,335.03 177.53,335.28 178.1,335.04 178.66,335.88 179.23,333.98 179.8,333.84 180.36,334.56 180.93,333.44 181.49,333.51 182.06,333.59 182.62,333.83 183.19,333.6 183.76,333.77 184.32,332.81 184.89,332.82 185.45,332.76 186.02,332.97 186.59,332.98 187.15,331.19 187.72,333.66 188.28,331.47 188.85,331.89 189.41,331.95 189.98,332.21 190.55,331.9 191.11,332.44 191.68,332.46 192.24,331.47 192.81,332.38 193.38,330.57 193.94,330.25 194.51,333.16 195.07,331.71 195.64,330.27 196.2,330.08 196.77,329.91 197.34,329.49 197.9,329.09 198.47,328.84 199.03,328.05 199.6,329.05 200.17,328.29 200.73,329.76 201.3,328.58 201.86,329.16 202.43,327.29 203,326.56 203.56,327.67 204.13,328.83 204.69,327.95 205.26,327.77 205.82,327.56 206.39,326.85 206.96,326.83 207.52,329.14 208.09,326.34 208.65,327.47 209.22,327.36 209.78,325.85 210.35,326.77 210.92,327.31 211.48,327.12 212.05,326.07 212.61,325.41 213.18,324.93 213.75,325.97 214.31,326.08 214.88,324.58 215.44,325.88 216.01,324.51 216.57,325.24 217.14,325.16 217.71,325.39 218.27,324.93 218.84,325.33 219.4,325.37 219.97,324.92 220.54,325.19 221.1,324.46 221.67,324.48 222.23,324.52 222.8,324.23 223.37,323.97 223.93,322.39 224.5,323.36 225.06,323.61 225.63,323.3 226.19,322.57 226.76,323.07 227.33,322.98 227.89,323.03 228.46,322.74 229.02,322.57 229.59,322.48 230.15,323.77 230.72,323.23 231.29,324.1 231.85,321.62 232.42,321.22 232.98,320.9 233.54,321.5 233.55,322.02 234.12,326.13 234.68,329.38 235.25,333.4 235.81,335.85 236.38,338.56 236.94,340.26 237.51,342.33 238.08,346.16 238.64,347.85 239.21,350.02 239.77,352.73 240.34,355.27 240.91,356.47 241.47,358.69 242.04,359.63 242.6,361.11 243.17,362.63 243.74,364.01 244.3,364.88 244.87,367.08 245.43,367.07 246,369.95 246.56,369.91 247.13,370.76 247.7,372.57 248.26,374.12 248.83,373.63 249.39,375.52 249.96,375.55 250.52,376.54 251.09,377.96 251.66,378.76 252.22,378.81 252.79,379.84 253.35,381.29 253.92,381.09 254.49,381.35 255.05,382.08 255.62,382.58 256.18,383.27 256.75,383.72 257.31,384.71 257.88,385.47 258.45,384.16 259.01,385.72 259.58,385.51 260.14,387.03 260.71,386.3 261.28,387.34 261.84,385.18 262.41,388.19 262.97,388.48 263.54,387.49 264.11,387.61 264.67,389.97 265.24,388.56 265.8,388.28 266.37,389.83 266.93,388.73 267.5,389.73" stroke="#f50505"/>
<polyline points="63.8,432.73 64.37,431.53 64.93,432.51 65.5,432.05 66.06,430.5 66.63,430.76 67.19,431.52 67.76,431.49 68.33,431.08 68.89,432.01 69.46,430.45 70.02,430.88 70.59,429.47 71.16,431.37 71.72,430.2 72.29,431.42 72.85,430.48 73.42,431.85 73.98,430.83 74.55,431.6 75.12,431.85 75.68,431.41 76.25,430.98 76.81,430.98 77.38,430.18 77.95,430.61 78.51,432.74 79.08,431.27 79.64,432.26 80.21,431.26 80.78,430.68 81.34,431.98 81.91,431.92 82.47,431.09 83.04,431.35 83.6,430.16 84.17,430.98 84.74,430.9 85.3,430.2 85.87,431.7 86.43,431.43 87,432.05 87.56,431.17 88.13,430.54 88.7,430.16 89.26,430.89 89.83,431.21 90.39,431.21 90.96,431.64 91.53,430.75 92.09,430.04 92.66,432.48 93.22,432.38 93.79,430.1 94.35,431.98 94.92,430.73 95.49,431.74 96.05,430.47 96.62,430.51 97.18,430.92 97.75,430.5 98.32,430.97 98.43,430.61 98.88,427.01 99.45,424.28 100.01,422.54 100.58,420.06 101.14,417.36 101.71,415.22 102.28,413.06 102.84,411.69 103.41,409.25 103.97,408.14 104.54,406.55 105.11,405.46 105.67,403.8 106.24,403.7 106.8,400.73 107.37,400.39 107.94,399.32 108.5,398.32 109.07,397.23 109.63,396.71 110.2,396.34 110.76,395.93 111.33,396.21 111.9,394.4 112.46,394.14 113.03,393.55 113.59,391.24 114.16,393.39 114.72,391.67 115.29,390.53 115.86,390.37 116.42,389.96 116.99,391.37 117.55,390.98 118.12,389.75 118.69,390.05 119.25,388.42 119.82,388.97 120.38,388.58 120.95,388.04 121.51,388.14 122.08,387.58 122.65,387.8 123.21,387.13 123.78,387.16 124.34,386.46 124.91,387.28 125.48,387.07 126.04,385.51 126.61,385.29 127.17,385.64 127.74,384.76 128.31,384.93 128.87,382.66 129.44,384.71 130,382.42 130.57,383.85 131.13,382.88 131.7,383.14 132.27,383.03 132.83,382 133.4,381.88 133.96,382.38 134.53,382.57 135.09,380.47 135.66,380.7 136.23,381.35 136.79,381.5 137.36,381 137.92,381.01 138.49,380.15 139.06,381.36 139.62,380.54 140.19,380.84 140.75,379.29 141.32,378.74 141.88,379.72 142.45,379.12 143.02,378.38 143.58,379.28 144.15,379.47 144.71,377.98 145.28,378.09 145.85,378.33 146.41,377.07 146.98,377.68 147.54,378.83 148.11,377.36 148.68,377.54 149.24,376.23 149.81,377.34 150.37,377.31 150.94,376.69 151.5,376.55 152.07,377.32 152.64,376.09 153.2,376.16 153.77,374.87 154.33,374.08 154.9,376.18 155.47,375.96 156.03,375.78 156.6,375.57 157.16,375.5 157.73,374.93 158.29,374.14 158.86,375.5 159.43,375.46 159.99,375.42 160.56,373.31 161.12,372.97 161.69,374.66 162.25,374.66 162.82,373.56 163.39,373.01 163.95,373.09 164.52,373.58 165.08,373.13 165.65,373.15 166.22,373.47 166.78,371.7 167.35,372.75 167.91,373.35 168.48,372.83 169.04,373.38 169.61,372.21 170.18,371.32 170.74,372.61 171.31,370.88 171.87,370.07 172.44,370.99 173.01,371.83 173.57,371.54 174.14,371.15 174.7,371.7 175.27,371.61 175.83,370.85 176.4,370.63 176.97,369.93 177.53,370.89 178.1,368.79 178.66,369.21 179.23,369.26 179.8,370.2 180.36,368.65 180.93,369.93 181.49,368.47 182.06,368.81 182.62,369.89 183.19,369.41 183.76,367.76 184.32,368.18 184.89,368.83 185.45,368.52 186.02,368.45 186.59,368.98 187.15,368.52 187.72,368.7 188.28,368.44 188.85,367.76 189.41,368.57 189.98,367.41 190.55,367.72 191.11,367.22 191.68,367.09 192.24,366.83 192.81,367.2 193.38,367.11 193.94,367.6 194.51,366.99 195.07,367.76 195.64,367.15 196.2,366.35 196.77,366.75 197.34,366.37 197.9,367.31 198.47,365.78 199.03,367.02 199.6,366.39 200.17,366.63 200.73,366 201.3,366.8 201.86,367.15 202.43,367.65 203,366.53 203.56,366.97 204.13,365.74 204.69,365.06 205.26,367.3 205.82,366.61 206.39,365.5 206.96,364.82 207.52,365.34 208.09,365.26 208.65,365.09 209.22,364.98 209.78,364.22 210.35,364.79 210.92,365.89 211.48,365.35 212.05,364.9 212.61,365.59 213.18,365.27 213.75,365.44 214.31,365.5 214.88,364.51 215.44,365.06 216.01,365.38 216.57,365.03 217.14,364.48 217.71,363.12 218.27,364.29 218.84,363.48 219.4,364.07 219.97,365.71 220.54,364.03 221.1,364.75 221.67,365 222.23,364.75 222.8,362.84 223.37,364.92 223.93,364.24 224.5,363.05 225.06,363.33 225.63,364.82 226.19,363.77 226.76,363.97 227.33,363.7 227.89,363 228.46,363.78 229.02,363.57 229.59,362.41 230.15,364.53 230.72,363.61 231.29,363.08 231.85,364.18 232.42,363.77 232.98,364.18 233.54,363.19 233.55,366.24 234.12,367.03 234.68,368.47 235.25,370.59 235.81,372.31 236.38,373.31 236.94,374.84 237.51,377.07 238.08,377 238.64,378.92 239.21,379.89 239.77,382.5 240.34,382.18 240.91,382.4 241.47,384.26 242.04,386.43 242.6,386.3 243.17,387.2 243.74,387.87 244.3,388.99 244.87,389.32 245.43,390.69 246,390.94 246.56,392.19 247.13,392.34 247.7,392.42 248.26,394.01 248.83,393.87 249.39,395.41 249.96,395.59 250.52,396 251.09,395.57 251.66,397.41 252.22,396.71 252.79,398.99 253.35,398.66 253.92,398.46 254.49,399.07 255.05,400.67 255.62,401.32 256.18,400.49 256.75,402.33 257.31,401.53 257.88,402.54 258.45,402.43 259.01,401.11 259.58,401.77 260.14,402.42 260.71,404.08 261.28,403.25 261.84,403.69 262.41,404.07 262.97,403.43 263.54,405.68 264.11,404.64 264.67,405.03 265.24,405.84 265.8,404.47 266.37,406.6 266.93,405.96 267.5,406.1" stroke="#dc7203"/>
<polyline points="63.8,431.96 64.37,429.62 64.93,430.17 65.5,431.57 66.06,431.31 66.63,431.84 67.19,430.9 67.76,430.41 68.33,428.61 68.89,431.73 69.46,429.64 70.02,431.15 70.59,430.52 71.16,430.12 71.72,430.48 72.29,430.68 72.85,431.29 73.42,431.24 73.98,431.21 74.55,430.47 75.12,432.75 75.68,432.15 76.25,432.98 76.81,432.96 77.38,432.95 77.95,431.42 78.51,430.47 79.08,430.92 79.64,432.76 80.21,431.54 80.78,432.28 81.34,430.74 81.91,429.83 82.47,430.18 83.04,429.88 83.6,430.78 84.17,432.45 84.74,432.72 85.3,431.42 85.87,430.97 86.43,430.37 87,431.51 87.56,430.97 88.13,430.65 88.7,429.88 89.26,430.75 89.83,431.61 90.39,429.98 90.96,430.68 91.53,430.87 92.09,432.32 92.66,431.35 93.22,432.7 93.79,432.86 94.35,431.35 94.92,431.42 95.49,430.56 96.05,429.82 96.62,430.99 97.18,429.51 97.75,431.42 98.32,430.37 98.43,432.06 98.88,430.53 99.45,430.4 100.01,429.87 100.58,428.8 101.14,430.37 101.71,428.39 102.28,428.8 102.84,427.74 103.41,427.21 103.97,427.52 104.54,427.22 105.11,427.53 105.67,425.85 106.24,426.53 106.8,425.35 107.37,426.62 107.94,424.22 108.5,426.04 109.07,424.27 109.63,425.59 110.2,424.85 110.76,425.46 111.33,424.84 111.9,425.38 112.46,424.33 113.03,424.72 113.59,424.55 114.16,423.56 114.72,425.25 115.29,423.46 115.86,424.33 116.42,425.52 116.99,423.92 117.55,424.43 118.12,422.85 118.69,424.51 119.25,423.97 119.82,423.69 120.38,425.28 120.95,423.23 121.51,424.38 122.08,422.46 122.65,422.3 123.21,423.68 123.78,424.93 124.34,423.42 124.91,423.27 125.48,422.65 126.04,423.28 126.61,423.83 127.17,422.86 127.74,423.42 128.31,421.26 128.87,423.3 129.44,423.32 130,422.85 130.57,423.75 131.13,422.99 131.7,422.61 132.27,422.79 132.83,422.57 133.4,421.44 133.96,422.25 134.53,423.9 135.09,423.4 135.66,422.6 136.23,423.75 136.79,423.06 137.36,422.97 137.92,422.33 138.49,422.7 139.06,422.5 139.62,422.93 140.19,421.86 140.75,422.83 141.32,420.67 141.88,422.05 142.45,422.2 143.02,421.41 143.58,422.16 144.15,422.12 144.71,422.32 145.28,422.91 145.85,423.06 146.41,422.83 146.98,421.3 147.54,422.66 148.11,422.44 148.68,422.42 149.24,421.41 149.81,420.26 150.37,422.45 150.94,421.17 151.5,421.44 152.07,421.72 152.64,420.97 153.2,422.24 153.77,420.35 154.33,420.66 154.9,421.54 155.47,419.48 156.03,420.2 156.6,420.12 157.16,422.39 157.73,421.55 158.29,421.75 158.86,420.75 159.43,420.02 159.99,422.48 160.56,420.82 161.12,420.87 161.69,419.93 162.25,420.73 162.82,421.68 163.39,420.77 163.95,421.43 164.52,421.25 165.08,420.64 165.65,421.1 166.22,420.49 166.78,421.87 167.35,418.73 167.91,419.55 168.48,420 169.04,421.67 169.61,422.44 170.18,421.46 170.74,420.96 171.31,418.94 171.87,419.6 172.44,420.98 173.01,419.54 173.57,419.53 174.14,420.55 174.7,419.7 175.27,420.55 175.83,421.44 176.4,421.91 176.97,421.03 177.53,420.05 178.1,421.8 178.66,421.86 179.23,420 179.8,422.51 180.36,418.82 180.93,420.63 181.49,419.72 182.06,418.84 182.62,421.44 183.19,421.01 183.76,418.22 184.32,420.08 184.89,419.83 185.45,419.48 186.02,418.79 186.59,418.56 187.15,419.5 187.72,419.81 188.28,419.54 188.85,419.28 189.41,418.56 189.98,419.65 190.55,418.47 191.11,420.75 191.68,419.7 192.24,418.7 192.81,419 193.38,419.66 193.94,420.53 194.51,420.3 195.07,419.76 195.64,419.29 196.2,419.66 196.77,420.59 197.34,420.03 197.9,419.08 198.47,418.91 199.03,420.78 199.6,420 200.17,421.03 200.73,420.07 201.3,416.67 201.86,419.32 202.43,419.54 203,419.66 203.56,420.11 204.13,420.64 204.69,419.27 205.26,419.61 205.82,418.44 206.39,421.19 206.96,419.79 207.52,419.25 208.09,421.94 208.65,419.76 209.22,421.38 209.78,419.46 210.35,418.5 210.92,419.56 211.48,419.28 212.05,420.05 212.61,419.27 213.18,418.61 213.75,419.67 214.31,419.63 214.88,419.16 215.44,418.73 216.01,420.58 216.57,419.12 217.14,419.66 217.71,418.7 218.27,418.31 218.84,418.91 219.4,418.11 219.97,419.86 220.54,419.29 221.1,419.64 221.67,418.72 222.23,418.65 222.8,418.89 223.37,419.72 223.93,418.87 224.5,419.25 225.06,418.52 225.63,419.31 226.19,418.21 226.76,418.94 227.33,420.57 227.89,419.17 228.46,420.15 229.02,418.25 229.59,417.95 230.15,419.22 230.72,418.97 231.29,420.59 231.85,421.29 232.42,419.95 232.98,419.72 233.54,420.77 233.55,420.3 234.12,420.76 234.68,421.03 235.25,420.73 235.81,421.65 236.38,422.88 236.94,422.79 237.51,422.69 238.08,424.3 238.64,422.68 239.21,423.26 239.77,424.36 240.34,424.87 240.91,421.48 241.47,424 242.04,424.08 242.6,423.55 243.17,424.34 243.74,425.07 244.3,424.74 244.87,426.05 245.43,424.73 246,426.52 246.56,424.95 247.13,424.9 247.7,426.7 248.26,424.06 248.83,426.65 249.39,425.02 249.96,426.37 250.52,425.77 251.09,426.62 251.66,424.16 252.22,425.39 252.79,424.81 253.35,425.63 253.92,425.67 254.49,426.06 255.05,426.31 255.62,425.58 256.18,425.91 256.75,426.16 257.31,427.19 257.88,426.43 258.45,425.83 259.01,426.85 259.58,426.35 260.14,426.88 260.71,427.66 261.28,427.56 261.84,427.36 262.41,426.85 262.97,426.65 263.54,425.38 264.11,427.06 264.67,427.84 265.24,425.78 265.8,426.9 266.37,426.87 266.93,424.93 267.5,425.94" stroke="#ffc800"/>
<polyline points="63.8,431.04 64.37,431.48 64.93,430.89 65.5,432.26 66.06,430.51 66.63,430.36 67.19,432.51 67.76,431.49 68.33,430.41 68.89,431.21 69.46,432.2 70.02,432.03 70.59,430.5 71.16,429.71 71.72,432.02 72.29,431.22 72.85,431.9 73.42,431.54 73.98,431.07 74.55,431.33 75.12,431.82 75.68,429.65 76.25,431.4 76.81,431.39 77.38,430.37 77.95,431.22 78.51,431.38 79.08,430.47 79.64,431.96 80.21,430.5 80.78,430.22 81.34,430.49 81.91,431.17 82.47,431.09 83.04,432.46 83.6,431.22 84.17,430.84 84.74,430.33 85.3,430.83 85.87,431.21 86.43,431.52 87,430.87 87.56,430.69 88.13,429.85 88.7,430.85 89.26,431.42 89.83,431.35 90.39,431.86 90.96,431.81 91.53,433.37 92.09,432.82 92.66,432.38 93.22,430.97 93.79,431.31 94.35,431.11 94.92,430.32 95.49,432.03 96.05,430.35 96.62,430.96 97.18,431.88 97.75,430.29 98.32,432.65 98.43,432.56 98.88,431.88 99.45,431.28 100.01,431.45 100.58,432.47 101.14,430.46 101.71,429.68 102.28,427.12 102.84,427.65 103.41,428.4 103.97,429.26 104.54,428.17 105.11,429.39 105.67,428.42 106.24,428.37 106.8,429 107.37,428.5 107.94,428.94 108.5,429.14 109.07,427.56 109.63,428.36 110.2,429.11 110.76,429.51 111.33,428.79 111.9,428.45 112.46,428.13 113.03,427.5 113.59,428.12 114.16,429.22 114.72,426.73 115.29,427.41 115.86,427.75 116.42,427.46 116.99,429.71 117.55,428.88 118.12,428.95 118.69,427.58 119.25,429.34 119.82,428.65 120.38,427.22 120.95,427.9 121.51,428.71 122.08,426.96 122.65,429.42 123.21,428.02 123.78,428.52 124.34,427.93 124.91,428.55 125.48,429.02 126.04,428.29 126.61,429.54 127.17,428.17 127.74,428.81 128.31,427.78 128.87,428.7 129.44,428.72 130,427.78 130.57,427.11 131.13,429.74 131.7,428.19 132.27,427.92 132.83,429.55 133.4,429.11 133.96,427.86 134.53,428.92 135.09,428.7 135.66,426.83 136.23,428.82 136.79,428.69 137.36,429.74 137.92,428.74 138.49,428.77 139.06,426.43 139.62,426.75 140.19,428.6 140.75,426.07 141.32,426.99 141.88,427.75 142.45,427.03 143.02,427.42 143.58,428.34 144.15,429.15 144.71,428.52 145.28,427.85 145.85,428.14 146.41,428.43 146.98,427.08 147.54,428.62 148.11,427.11 148.68,428.18 149.24,427.74 149.81,428.66 150.37,427.75 150.94,428.29 151.5,429 152.07,427.71 152.64,427.82 153.2,427.27 153.77,427.82 154.33,428.93 154.9,428.72 155.47,430.24 156.03,429.3 156.6,427.55 157.16,427.5 157.73,428.15 158.29,428.5 158.86,428.18 159.43,428.09 159.99,429.64 160.56,428.86 161.12,427.22 161.69,427.23 162.25,427.97 162.82,428.39 163.39,428.43 163.95,428.52 164.52,428.79 165.08,429.57 165.65,428 166.22,428.52 166.78,428.43 167.35,427.03 167.91,427.96 168.48,429 169.04,428.02 169.61,429.65 170.18,427.72 170.74,428.38 171.31,428.75 171.87,428.12 172.44,427.33 173.01,428.68 173.57,428.97 174.14,426.52 174.7,428.14 175.27,427.02 175.83,428.7 176.4,427.85 176.97,428.58 177.53,427.52 178.1,428.17 178.66,428.48 179.23,426.83 179.8,427.88 180.36,429.79 180.93,428.41 181.49,428.86 182.06,428.98 182.62,428.4 183.19,428.3 183.76,427.95 184.32,428.67 184.89,429.58 185.45,428.65 186.02,427.65 186.59,429.49 187.15,428.02 187.72,428.18 188.28,428.88 188.85,428.25 189.41,429.01 189.98,428.66 190.55,429.05 191.11,427.82 191.68,427.08 192.24,428.68 192.81,427.28 193.38,429.94 193.94,429.03 194.51,429.17 195.07,427.04 195.64,428.81 196.2,427.68 196.77,429.78 197.34,427.99 197.9,427.51 198.47,427.85 199.03,429.85 199.6,427.58 200.17,427.14 200.73,426.87 201.3,427.73 201.86,429.47 202.43,428.39 203,427.53 203.56,428.85 204.13,427.76 204.69,428.6 205.26,428.26 205.82,427.91 206.39,429.24 206.96,426.63 207.52,428.85 208.09,428.75 208.65,429.56 209.22,428.83 209.78,428.93 210.35,429.65 210.92,429.5 211.48,427.9 212.05,428.06 212.61,429.98 213.18,429.59 213.75,428.2 214.31,428.1 214.88,427.68 215.44,429.21 216.01,427.79 216.57,428.4 217.14,428.36 217.71,427.81 218.27,426.65 218.84,426.74 219.4,426.27 219.97,427.33 220.54,426.88 221.1,427.47 221.67,426.98 222.23,426.95 222.8,427.17 223.37,426.47 223.93,426.92 224.5,426.85 225.06,427.49 225.63,426.84 226.19,427.66 226.76,427.05 227.33,427.48 227.89,427.37 228.46,428.08 229.02,429.06 229.59,429.29 230.15,426.68 230.72,427.93 231.29,427.87 231.85,428.26 232.42,428.38 232.98,425.67 233.54,428.7 233.55,427.98 234.12,427.93 234.68,428.71 235.25,428.78 235.81,428.36 236.38,428.18 236.94,428.45 237.51,427.61 238.08,429.34 238.64,428.27 239.21,427.6 239.77,428.16 240.34,429.79 240.91,431.15 241.47,428.05 242.04,428.2 242.6,428.99 243.17,427.59 243.74,429.07 244.3,428.88 244.87,429.95 245.43,429 246,429.62 246.56,429.66 247.13,428.38 247.7,429.01 248.26,430.28 248.83,428.49 249.39,428.3 249.96,429.53 250.52,429.13 251.09,428.76 251.66,429.02 252.22,428.77 252.79,428.41 253.35,429.33 253.92,427.32 254.49,429.48 255.05,429.32 255.62,427.38 256.18,427.11 256.75,429.03 257.31,429.3 257.88,430.11 258.45,428.48 259.01,429.33 259.58,430.17 260.14,429.19 260.71,428.38 261.28,428.85 261.84,427.6 262.41,428.39 262.97,428.96 263.54,429.38 264.11,429 264.67,428.56 265.24,428.93 265.8,428.84 266.37,429.52 266.93,429.07 267.5,428.63" stroke="#008c32"/>
<polyline points="63.8,430.16 64.37,430.83 64.93,430.38 65.5,431.27 66.06,431.45 66.63,431.11 67.19,431.77 67.76,431.49 68.33,432.33 68.89,431.99 69.46,431.04 70.02,431.46 70.59,431.7 71.16,430.42 71.72,430.35 72.29,430.67 72.85,431.23 73.42,429.99 73.98,428.86 74.55,431.59 75.12,432.25 75.68,431.66 76.25,431.68 76.81,431.78 77.38,431.58 77.95,429.92 78.51,429.94 79.08,429.57 79.64,430.33 80.21,431.51 80.78,430.52 81.34,432.04 81.91,431.99 82.47,432.72 83.04,430.87 83.6,431.03 84.17,432.15 84.74,431.99 85.3,431.68 85.87,431.5 86.43,430.91 87,431.38 87.56,430.92 88.13,432.19 88.7,431.06 89.26,432.09 89.83,429.24 90.39,429.55 90.96,430.13 91.53,429.87 92.09,429.21 92.66,430.07 93.22,432.05 93.79,430.95 94.35,432.58 94.92,431.34 95.49,431.65 96.05,430.71 96.62,430.48 97.18,431.64 97.75,431.28 98.32,430.94 98.43,431.31 98.88,431.29 99.45,432.95 100.01,431.33 100.58,430.31 101.14,430.68 101.71,432 102.28,431.02 102.84,430.57 103.41,431.54 103.97,430.25 104.54,431.39 105.11,430.98 105.67,430.72 106.24,428.77 106.8,430.61 107.37,430.66 107.94,429.53 108.5,430.35 109.07,429.76 109.63,431.63 110.2,429.62 110.76,429.87 111.33,430.87 111.9,428.79 112.46,430.05 113.03,430.08 113.59,431.08 114.16,431.49 114.72,430.82 115.29,431.65 115.86,430.08 116.42,429.73 116.99,430.85 117.55,431.58 118.12,430.64 118.69,431.19 119.25,430.26 119.82,430.23 120.38,430.63 120.95,430.12 121.51,429.23 122.08,428.6 122.65,430.25 123.21,429.21 123.78,429.89 124.34,430.47 124.91,428.62 125.48,429.34 126.04,429.63 126.61,429.59 127.17,430.14 127.74,430.99 128.31,428.92 128.87,429.71 129.44,430.27 130,429.7 130.57,429.37 131.13,430.42 131.7,429.69 132.27,430.3 132.83,429.47 133.4,430.09 133.96,427.89 134.53,429.97 135.09,429.22 135.66,429.26 136.23,429.95 136.79,429.08 137.36,430.01 137.92,430.36 138.49,430.07 139.06,430.64 139.62,429.07 140.19,429.48 140.75,429.2 141.32,431.05 141.88,429.82 142.45,430.64 143.02,429.94 143.58,428.93 144.15,429.62 144.71,429.84 145.28,428.71 145.85,428.71 146.41,428.03 146.98,430.98 147.54,429.36 148.11,430.04 148.68,430.48 149.24,429.75 149.81,430.79 150.37,431.72 150.94,430.81 151.5,430.46 152.07,428.88 152.64,430.88 153.2,431.05 153.77,431.41 154.33,429.84 154.9,429.51 155.47,429.08 156.03,430.3 156.6,429.8 157.16,431.03 157.73,429.19 158.29,430.62 158.86,431.65 159.43,428.73 159.99,429.39 160.56,429.62 161.12,429.66 161.69,430.74 162.25,429.07 162.82,430.73 163.39,428.47 163.95,429.89 164.52,431.62 165.08,429.59 165.65,428.75 166.22,430.44 166.78,429.3 167.35,430.19 167.91,430.48 168.48,432.06 169.04,429.23 169.61,430.76 170.18,430.35 170.74,431.74 171.31,431.71 171.87,430.18 172.44,431.3 173.01,431.16 173.57,431.61 174.14,430.18 174.7,429.45 175.27,430.16 175.83,429.73 176.4,430.39 176.97,428.3 177.53,429.93 178.1,429.7 178.66,428.42 179.23,430.04 179.8,431.12 180.36,430.56 180.93,429.95 181.49,428.08 182.06,429.11 182.62,429.34 183.19,428.5 183.76,428.2 184.32,429.95 184.89,428.36 185.45,428.89 186.02,429.22 186.59,431.38 187.15,429.3 187.72,428.28 188.28,429.55 188.85,427.51 189.41,429.29 189.98,430.21 190.55,429.02 191.11,429.31 191.68,428.89 192.24,429.69 192.81,428.42 193.38,429.79 193.94,429.15 194.51,430.13 195.07,429.67 195.64,428.77 196.2,429.37 196.77,429.18 197.34,429.02 197.9,428.75 198.47,428.49 199.03,428.65 199.6,428.61 200.17,429.4 200.73,430.07 201.3,430.88 201.86,429.82 202.43,430.05 203,430.73 203.56,427.93 204.13,430.66 204.69,428.95 205.26,428.83 205.82,429.5 206.39,427.34 206.96,429.46 207.52,430.19 208.09,428.29 208.65,430.37 209.22,430.89 209.78,430.51 210.35,430.16 210.92,429.53 211.48,429.22 212.05,430.65 212.61,429.18 213.18,427.79 213.75,430.31 214.31,430.08 214.88,429.63 215.44,429.36 216.01,430.87 216.57,431.06 217.14,431 217.71,429.22 218.27,429.25 218.84,431.53 219.4,431.36 219.97,430.53 220.54,430.7 221.1,429.24 221.67,429.51 222.23,428.25 222.8,429.27 223.37,429.82 223.93,428.93 224.5,430.47 225.06,430.75 225.63,429.49 226.19,428.65 226.76,430.56 227.33,428.44 227.89,428.36 228.46,429.36 229.02,428.79 229.59,429.16 230.15,428.96 230.72,428.5 231.29,429.87 231.85,428.48 232.42,428.64 232.98,428.62 233.54,430.92 233.55,430.87 234.12,428.93 234.68,430.06 235.25,430.28 235.81,430.46 236.38,431 236.94,430.17 237.51,430.46 238.08,430.31 238.64,429.31 239.21,430.58 239.77,428.75 240.34,431.43 240.91,427.67 241.47,430.67 242.04,429 242.6,428.6 243.17,429.24 243.74,428.64 244.3,429.36 244.87,430.74 245.43,429.12 246,428.52 246.56,429.91 247.13,430.88 247.7,430.09 248.26,429.41 248.83,429.44 249.39,428.76 249.96,429.09 250.52,429 251.09,430.9 251.66,427.51 252.22,429.31 252.79,428.81 253.35,429.97 253.92,430.02 254.49,430.06 255.05,429.02 255.62,429.19 256.18,429.97 256.75,428.88 257.31,430.7 257.88,429.83 258.45,430.41 259.01,428.82 259.58,429.65 260.14,428.82 260.71,428.25 261.28,431.4 261.84,428.21 262.41,429.85 262.97,430.45 263.54,431.69 264.11,430.27 264.67,431.69 265.24,429.64 265.8,429.78 266.37,428.22 266.93,430.03 267.5,429.01" stroke="#12c2c2"/>
<polyline points="63.8,432.17 64.37,431.65 64.93,431.34 65.5,431.45 66.06,431.9 66.63,429.52 67.19,430.72 67.76,430.6 68.33,430.2 68.89,430.57 69.46,430.93 70.02,431.3 70.59,432.33 71.16,430 71.72,432.07 72.29,432.71 72.85,431.99 73.42,432.52 73.98,429.52 74.55,430.73 75.12,429.89 75.68,429.95 76.25,430.84 76.81,431.03 77.38,432.21 77.95,431.75 78.51,432.1 79.08,431.45 79.64,431.89 80.21,430.2 80.78,430.51 81.34,431.14 81.91,432.34 82.47,430.43 83.04,430.26 83.6,431.03 84.17,432.01 84.74,430.67 85.3,430.15 85.87,432.47 86.43,430.42 87,432.26 87.56,430.74 88.13,429.44 88.7,430.82 89.26,430.56 89.83,431.23 90.39,430.96 90.96,429.06 91.53,429.87 92.09,431.21 92.66,431.32 93.22,431.07 93.79,429.38 94.35,430.98 94.92,430.28 95.49,431.48 96.05,432.23 96.62,430.15 97.18,431.21 97.75,431.64 98.32,431.38 98.43,431.15 98.88,430.87 99.45,431.42 100.01,429.08 100.58,429.65 101.14,429.17 101.71,430.3 102.28,429.9 102.84,430.22 103.41,429.6 103.97,430.04 104.54,430.52 105.11,431.39 105.67,431.86 106.24,431.53 106.8,431.34 107.37,431.17 107.94,431.6 108.5,429.16 109.07,430.13 109.63,431.83 110.2,430.99 110.76,431.09 111.33,429.73 111.9,428.98 112.46,430.53 113.03,429.2 113.59,429.86 114.16,428.7 114.72,428.53 115.29,429.43 115.86,429.24 116.42,430 116.99,430.53 117.55,431.37 118.12,430.34 118.69,430.74 119.25,430.98 119.82,430.66 120.38,430.62 120.95,431.17 121.51,430.68 122.08,429.32 122.65,430.43 123.21,429.22 123.78,431.34 124.34,431.57 124.91,430.42 125.48,429.88 126.04,430.98 126.61,429.98 127.17,429.79 127.74,429.76 128.31,430.77 128.87,430.74 129.44,431.99 130,430.59 130.57,430.28 131.13,429.22 131.7,431.15 132.27,430.63 132.83,430.64 133.4,429.14 133.96,431.97 134.53,431.01 135.09,428.71 135.66,429.97 136.23,431.62 136.79,430.62 137.36,429.84 137.92,429.97 138.49,430.47 139.06,430.81 139.62,429.42 140.19,430 140.75,429.34 141.32,429.72 141.88,430.53 142.45,429.2 143.02,430.92 143.58,430.35 144.15,431.3 144.71,431.01 145.28,430.97 145.85,431.16 146.41,430.27 146.98,429.24 147.54,428.68 148.11,428.97 148.68,430.29 149.24,429.12 149.81,430.07 150.37,429.1 150.94,431.57 151.5,429.4 152.07,430.96 152.64,429.46 153.2,430.65 153.77,429.53 154.33,430.56 154.9,431.98 155.47,431.45 156.03,431 156.6,430.78 157.16,432.42 157.73,431.34 158.29,430.68 158.86,430.02 159.43,429.53 159.99,430.35 160.56,431.01 161.12,429.76 161.69,430.44 162.25,429.61 162.82,430.81 163.39,429.93 163.95,431.18 164.52,430.33 165.08,430.57 165.65,430.4 166.22,431.57 166.78,430.93 167.35,431.41 167.91,430.72 168.48,429.96 169.04,428.01 169.61,430.37 170.18,430 170.74,430.75 171.31,430.23 171.87,430.98 172.44,430.61 173.01,431.15 173.57,429.49 174.14,430.27 174.7,432.7 175.27,431.15 175.83,431.31 176.4,433.03 176.97,431.83 177.53,431.32 178.1,431.32 178.66,430.44 179.23,431.78 179.8,429.69 180.36,429.65 180.93,430.06 181.49,430.71 182.06,430.56 182.62,430.98 183.19,429.7 183.76,430.14 184.32,428.9 184.89,430.72 185.45,429.29 186.02,430.91 186.59,430.64 187.15,431.38 187.72,430.19 188.28,430.68 188.85,430.19 189.41,429.56 189.98,430.84 190.55,430.54 191.11,430.12 191.68,430.78 192.24,431 192.81,430.1 193.38,429.85 193.94,429.58 194.51,429.59 195.07,430.89 195.64,430.16 196.2,429.67 196.77,431.08 197.34,430.48 197.9,431.29 198.47,430.74 199.03,429.6 199.6,430.92 200.17,431.89 200.73,430.84 201.3,430.8 201.86,429.85 202.43,431.51 203,430.88 203.56,430.04 204.13,431.11 204.69,428.99 205.26,431.49 205.82,430.58 206.39,431.12 206.96,430.51 207.52,429.44 208.09,429.69 208.65,429.56 209.22,429.92 209.78,432.03 210.35,430.18 210.92,431.8 211.48,430.67 212.05,430.55 212.61,430.71 213.18,429.99 213.75,431.12 214.31,429.23 214.88,430.17 215.44,429.72 216.01,430.05 216.57,429.94 217.14,430.68 217.71,429.14 218.27,431.55 218.84,430.4 219.4,430.8 219.97,431.02 220.54,430.65 221.1,431.54 221.67,430.32 222.23,430.38 222.8,430.86 223.37,430.27 223.93,431.6 224.5,432.2 225.06,431.29 225.63,431.1 226.19,428.99 226.76,431.09 227.33,429.99 227.89,430 228.46,428.88 229.02,430.34 229.59,429.84 230.15,430.45 230.72,430.93 231.29,431 231.85,430.8 232.42,429.06 232.98,429.99 233.54,430.39 233.55,430.34 234.12,430.93 234.68,430.64 235.25,430.74 235.81,430.25 236.38,430.05 236.94,432.01 237.51,430.52 238.08,429.63 238.64,431.58 239.21,431.08 239.77,430.87 240.34,430.23 240.91,430.67 241.47,431.33 242.04,430.75 242.6,430.28 243.17,430.74 243.74,429.57 244.3,430.72 244.87,431.93 245.43,431.81 246,431.39 246.56,431.54 247.13,430.97 247.7,431.25 248.26,430.23 248.83,430.94 249.39,430.38 249.96,432.08 250.52,431.75 251.09,430.83 251.66,431.26 252.22,430.84 252.79,431.15 253.35,431.87 253.92,430.09 254.49,430.57 255.05,432.67 255.62,431.86 256.18,431.22 256.75,430.53 257.31,430.97 257.88,431.91 258.45,430.21 259.01,431.11 259.58,430.14 260.14,430.97 260.71,430.51 261.28,430.66 261.84,430.56 262.41,431.54 262.97,430.2 263.54,430.72 264.11,431.78 264.67,431.06 265.24,430.95 265.8,430.24 266.37,429.98 266.93,431.33 267.5,429.91" stroke="#0404e6"/>
<path d="M97.75 319.5V434.9M233.55 319.5V434.9" stroke="#000" stroke-width="2.5"/>
</g>
<text x="63.8" y="450.2" text-anchor="middle" font-size="14.3">0</text>
<text x="120.38" y="450.2" text-anchor="middle" font-size="14.3">50</text>
<text x="176.97" y="450.2" text-anchor="middle" font-size="14.3">100</text>
<text x="233.55" y="450.2" text-anchor="middle" font-size="14.3">150</text>
<text x="61.3" y="437.13" text-anchor="end" font-size="14.3">0</text>
<text x="61.3" y="418.51" text-anchor="end" font-size="14.3">1</text>
<text x="61.3" y="399.9" text-anchor="end" font-size="14.3">2</text>
<text x="61.3" y="381.29" text-anchor="end" font-size="14.3">3</text>
<text x="61.3" y="362.67" text-anchor="end" font-size="14.3">4</text>
<text x="61.3" y="344.06" text-anchor="end" font-size="14.3">5</text>
<text x="61.3" y="325.45" text-anchor="end" font-size="14.3">6</text>
<text x="165.65" y="466.2" text-anchor="middle" font-size="14">Time [s]</text>
<clipPath id="clipaR"><rect x="319.4" y="4.1" width="147.7" height="91.7"/></clipPath>
<path d="M320 95V4.9H466.5V95" fill="#fff" stroke="#a6a6a6" stroke-width="1.3"/>
<path d="M320 95.5H466.5" stroke="#a4a4d8" stroke-width="1"/>
<path d="M320 95v-2.2M320 4.9v2.2M360.69 95v-2.2M360.69 4.9v2.2M401.39 95v-2.2M401.39 4.9v2.2M442.08 95v-2.2M442.08 4.9v2.2M320 95h2.2M466.5 95h-2.2M320 82.13h2.2M466.5 82.13h-2.2M320 69.26h2.2M466.5 69.26h-2.2M320 56.39h2.2M466.5 56.39h-2.2M320 43.51h2.2M466.5 43.51h-2.2M320 30.64h2.2M466.5 30.64h-2.2M320 17.77h2.2M466.5 17.77h-2.2M320 4.9h2.2M466.5 4.9h-2.2" stroke="#555" stroke-width="1" fill="none"/>
<g clip-path="url(#clipaR)" fill="none" stroke-width="1.9" stroke-linejoin="round">
<polyline points="320,82.92 320.41,82.53 320.81,83.84 321.22,85.12 321.63,84.08 322.03,85.03 322.44,82.71 322.85,79.95 323.26,83.66 323.66,83.74 324.07,81.17 324.48,81.23 324.88,81.68 325.29,83.97 325.7,82.36 326.1,81.13 326.51,85.58 326.92,83.78 327.32,86.67 327.73,85.13 328.14,85.94 328.55,82.27 328.95,84.21 329.36,80.97 329.77,81.37 330.17,82.38 330.58,87.58 330.99,83.79 331.39,83 331.8,82.74 332.21,86.09 332.62,83.74 333.02,84.62 333.43,84.19 333.84,80.29 334.24,84.21 334.65,82.56 335.06,80.56 335.46,83.5 335.87,82.44 336.28,81.99 336.68,82.16 337.09,84.92 337.5,82.23 337.91,79.48 338.31,85.37 338.72,80.15 339.13,81.49 339.53,82.94 339.94,77.38 340.35,79.96 340.75,84.03 341.16,81.32 341.57,80.24 341.98,81.89 342.38,80.25 342.79,82.1 343.2,80.86 343.6,79.45 344.01,83.92 344.42,82.05 344.82,83.38 344.91,82.15 345.23,-185 345.64,-467.37 346.04,-698.46 346.45,-890.35 346.86,-1047.9 347.27,-1173.65 347.67,-1284.69 348.08,-1380.82 348.49,-1454.94 348.89,-1526.89 349.3,-1587.63 349.71,-1643.29 350.11,-1689.14 350.52,-1729.36 350.93,-1767.82 351.33,-1803.51 351.74,-1840.08 352.15,-1866.69 352.56,-1895.75 352.96,-1924.32 353.37,-1949.19 353.78,-1973.8 354.18,-1995.72 354.59,-2021.04 355,-2042.43 355.4,-2067.38 355.81,-2087.31 356.22,-2106.36 356.62,-2127.78 357.03,-2145.18 357.44,-2167.1 357.85,-2183.46 358.25,-2202.82 358.66,-2216.69 359.07,-2237.59 359.47,-2250.57 359.88,-2266.81 360.29,-2287.07 360.69,-2302.16 361.1,-2320.37 361.51,-2340.42 361.92,-2349.49 362.32,-2365.2 362.73,-2381.98 363.14,-2397.39 363.54,-2410.5 363.95,-2424.62 364.36,-2440.37 364.76,-2453.56 365.17,-2463.68 365.58,-2478.9 365.98,-2492.26 366.39,-2502.96 366.8,-2518.46 367.21,-2528.61 367.61,-2544.58 368.02,-2554.77 368.43,-2566.03 368.83,-2575.74 369.24,-2587.61 369.65,-2594.43 370.05,-2606.93 370.46,-2620.69 370.87,-2626.04 371.27,-2642.58 371.68,-2647.26 372.09,-2662.35 372.5,-2668.69 372.9,-2681.61 373.31,-2689.65 373.72,-2695.43 374.12,-2710.33 374.53,-2719.64 374.94,-2725.25 375.34,-2733.45 375.75,-2742.24 376.16,-2748.98 376.57,-2761.56 376.97,-2766.12 377.38,-2774.87 377.79,-2780.85 378.19,-2788.66 378.6,-2794.75 379.01,-2807.47 379.41,-2811.91 379.82,-2821.54 380.23,-2826.78 380.63,-2832.45 381.04,-2840.22 381.45,-2846.5 381.86,-2854.15 382.26,-2859.5 382.67,-2865.57 383.08,-2869.13 383.48,-2876.12 383.89,-2887.08 384.3,-2888.07 384.7,-2893.09 385.11,-2901.7 385.52,-2909.49 385.93,-2908.9 386.33,-2916.71 386.74,-2920.93 387.15,-2923.63 387.55,-2933.85 387.96,-2937.22 388.37,-2942.26 388.77,-2945.24 389.18,-2952.33 389.59,-2954.73 389.99,-2959.98 390.4,-2962.38 390.81,-2966.58 391.22,-2976.33 391.62,-2976.88 392.03,-2982.85 392.44,-2986.34 392.84,-2989.51 393.25,-2993.28 393.66,-2999.49 394.06,-3001.35 394.47,-3005.45 394.88,-3009.58 395.28,-3015.71 395.69,-3018.33 396.1,-3021.27 396.51,-3022.76 396.91,-3024.44 397.32,-3032.63 397.73,-3035.98 398.13,-3036.95 398.54,-3041.61 398.95,-3045.27 399.35,-3048.43 399.76,-3051.61 400.17,-3051.67 400.57,-3058.66 400.98,-3055.74 401.39,-3062.95 401.8,-3064.99 402.2,-3068.54 402.61,-3073.29 403.02,-3074.96 403.42,-3071.77 403.83,-3072.78 404.24,-3080.05 404.64,-3078.26 405.05,-3082.44 405.46,-3086.41 405.87,-3083.59 406.27,-3085.14 406.68,-3092.72 407.09,-3094.96 407.49,-3096.96 407.9,-3099.98 408.31,-3100.27 408.71,-3100.79 409.12,-3105.27 409.53,-3105.19 409.93,-3105.45 410.34,-3111.74 410.75,-3112.49 411.16,-3115.43 411.56,-3114.45 411.97,-3117.01 412.38,-3118.12 412.78,-3120.14 413.19,-3124.14 413.6,-3123.76 414,-3127.64 414.41,-3128.94 414.82,-3133.67 415.23,-3127.72 415.63,-3133.7 416.04,-3132.95 416.45,-3134.45 416.85,-3132.78 417.26,-3136.1 417.67,-3139.79 418.07,-3139.23 418.48,-3140.78 418.89,-3141.33 419.29,-3145.79 419.7,-3144.86 420.11,-3141.83 420.52,-3146.37 420.92,-3144.95 421.33,-3143.41 421.74,-3150.22 422.14,-3155.35 422.55,-3154.08 422.96,-3153.05 423.36,-3155.03 423.77,-3160.7 424.18,-3159.81 424.58,-3160.52 424.99,-3161.15 425.4,-3162.18 425.81,-3164.68 426.21,-3165.12 426.62,-3165.41 427.03,-3163.74 427.43,-3167.86 427.84,-3166.21 428.25,-3170.72 428.65,-3166.54 429.06,-3169.61 429.47,-3170.53 429.88,-3168.4 430.28,-3175.38 430.69,-3175.47 431.1,-3172.06 431.5,-3175.19 431.91,-3174.9 432.32,-3169.23 432.72,-3175.86 433.13,-3176 433.54,-3177.19 433.94,-3175.71 434.35,-3178.3 434.76,-3179.31 435.17,-3182.85 435.57,-3181.65 435.98,-3181.42 436.39,-3185.03 436.79,-3181.09 437.2,-3181.89 437.61,-3179.44 438.01,-3187.08 438.42,-3186.41 438.83,-3186.89 439.23,-3186.95 439.64,-3186.39 440.05,-3187.26 440.46,-3187.03 440.86,-3187.97 441.27,-3189.42 441.68,-3193.34 442.08,-3192.08 442.08,-4751.39 442.49,-3501.69 442.9,-2775.27 443.3,-2349.65 443.71,-2085.12 444.12,-1917.61 444.52,-1804.86 444.93,-1722.89 445.34,-1663.11 445.75,-1614.15 446.15,-1567.4 446.56,-1528.04 446.97,-1491.31 447.37,-1457.34 447.78,-1420.67 448.19,-1391.63 448.59,-1359.53 449,-1333.36 449.41,-1301.1 449.82,-1276.08 450.22,-1251.17 450.63,-1221.34 451.04,-1195.55 451.44,-1172.78 451.85,-1148.7 452.26,-1123.73 452.66,-1104.65 453.07,-1086.62 453.48,-1061.45 453.88,-1041.9 454.29,-1021.13 454.7,-1005.48 455.11,-984.16 455.51,-966.82 455.92,-954.63 456.33,-933.42 456.73,-921.45 457.14,-906.83 457.55,-889.22 457.95,-875.38 458.36,-864.3 458.77,-846.18 459.18,-832 459.58,-817.34 459.99,-807.5 460.4,-798.18 460.8,-785.25 461.21,-769.9 461.62,-759.07 462.02,-749.09 462.43,-740.34 462.84,-729.2 463.24,-720.32 463.65,-711.1 464.06,-700.84 464.47,-692.72 464.87,-684.97 465.28,-676.48 465.69,-670.14 466.09,-665.65 466.5,-655.77" stroke="#f50505"/>
<polyline points="320,78.31 320.41,82.42 320.81,86.2 321.22,84.2 321.63,84.64 322.03,82.87 322.44,81.31 322.85,85.31 323.26,80.16 323.66,83.87 324.07,80.04 324.48,80.92 324.88,81.48 325.29,81.23 325.7,82.55 326.1,83.07 326.51,85.62 326.92,82.41 327.32,78.66 327.73,78.5 328.14,79.99 328.55,81.36 328.95,84.25 329.36,79.72 329.77,82.62 330.17,82.34 330.58,82.52 330.99,81.52 331.39,82.55 331.8,81.86 332.21,84.05 332.62,82.67 333.02,77.22 333.43,82.18 333.84,82.59 334.24,81.08 334.65,80.86 335.06,84.82 335.46,83.06 335.87,80.81 336.28,82.26 336.68,82.71 337.09,79.94 337.5,84.84 337.91,83.43 338.31,84.68 338.72,80.28 339.13,87.12 339.53,84.07 339.94,83.44 340.35,80.66 340.75,80.47 341.16,78.48 341.57,84.29 341.98,79.09 342.38,81.02 342.79,81.73 343.2,79.37 343.6,82.76 344.01,85.64 344.42,82.58 344.82,85.34 344.91,83.81 345.23,-95.3 345.64,-272.91 346.04,-415.37 346.45,-522.19 346.86,-607.35 347.27,-679.45 347.67,-736.13 348.08,-782.14 348.49,-824.17 348.89,-854.27 349.3,-879.01 349.71,-908.41 350.11,-927.76 350.52,-947.63 350.93,-964.33 351.33,-981.27 351.74,-994.74 352.15,-1010.98 352.56,-1022.22 352.96,-1034.4 353.37,-1046.11 353.78,-1053.46 354.18,-1067.07 354.59,-1077.56 355,-1089.01 355.4,-1096.01 355.81,-1112.3 356.22,-1118.94 356.62,-1125.81 357.03,-1134.15 357.44,-1146.28 357.85,-1155.62 358.25,-1163.09 358.66,-1173.45 359.07,-1180.55 359.47,-1191.66 359.88,-1197.61 360.29,-1207.57 360.69,-1218.09 361.1,-1229.63 361.51,-1230.2 361.92,-1239.17 362.32,-1245.98 362.73,-1256.68 363.14,-1259.69 363.54,-1267.85 363.95,-1275.4 364.36,-1279.89 364.76,-1286.33 365.17,-1293.69 365.58,-1296.63 365.98,-1304.35 366.39,-1312.92 366.8,-1320.56 367.21,-1326.32 367.61,-1329.34 368.02,-1338.19 368.43,-1346.71 368.83,-1351.93 369.24,-1356.26 369.65,-1360.18 370.05,-1368.88 370.46,-1371.69 370.87,-1375.55 371.27,-1381.17 371.68,-1390.61 372.09,-1392.81 372.5,-1399.66 372.9,-1401.26 373.31,-1409.26 373.72,-1411.04 374.12,-1416.83 374.53,-1427.04 374.94,-1428.01 375.34,-1429.82 375.75,-1435.13 376.16,-1440.45 376.57,-1446.81 376.97,-1447.76 377.38,-1449.52 377.79,-1456.71 378.19,-1461.17 378.6,-1464.95 379.01,-1470.88 379.41,-1472.17 379.82,-1476.62 380.23,-1476.14 380.63,-1483.81 381.04,-1489.97 381.45,-1490.81 381.86,-1493.3 382.26,-1496.62 382.67,-1503.43 383.08,-1500.98 383.48,-1505.65 383.89,-1509.58 384.3,-1512.78 384.7,-1512.94 385.11,-1517.24 385.52,-1518.94 385.93,-1522.83 386.33,-1525.39 386.74,-1526.29 387.15,-1531.51 387.55,-1536.12 387.96,-1534.9 388.37,-1538.96 388.77,-1543.35 389.18,-1542.22 389.59,-1547.29 389.99,-1547.13 390.4,-1554.09 390.81,-1558.92 391.22,-1560.69 391.62,-1558.42 392.03,-1562.86 392.44,-1564.02 392.84,-1566.42 393.25,-1571.81 393.66,-1568.09 394.06,-1575.17 394.47,-1574.88 394.88,-1579.87 395.28,-1579.26 395.69,-1579.38 396.1,-1583.22 396.51,-1585.94 396.91,-1586.18 397.32,-1588.84 397.73,-1588.54 398.13,-1587.08 398.54,-1595.35 398.95,-1596.8 399.35,-1597.34 399.76,-1598.62 400.17,-1601.86 400.57,-1599.86 400.98,-1600.49 401.39,-1602.92 401.8,-1607.4 402.2,-1603.85 402.61,-1611.13 403.02,-1609.17 403.42,-1609.9 403.83,-1616.28 404.24,-1614.69 404.64,-1613.27 405.05,-1616.27 405.46,-1620.02 405.87,-1621.68 406.27,-1619.46 406.68,-1622.36 407.09,-1624.15 407.49,-1622.46 407.9,-1625.71 408.31,-1626.13 408.71,-1626.32 409.12,-1627.62 409.53,-1629.93 409.93,-1630.91 410.34,-1630.65 410.75,-1631.87 411.16,-1635.95 411.56,-1634.91 411.97,-1637.19 412.38,-1638.83 412.78,-1638.68 413.19,-1643.43 413.6,-1638.22 414,-1642.8 414.41,-1641.53 414.82,-1647.06 415.23,-1647.67 415.63,-1640.91 416.04,-1643.8 416.45,-1648.09 416.85,-1649.33 417.26,-1650.27 417.67,-1649.59 418.07,-1651.54 418.48,-1652.57 418.89,-1651.5 419.29,-1654.2 419.7,-1647.8 420.11,-1654.4 420.52,-1651.59 420.92,-1656.46 421.33,-1654.64 421.74,-1653.8 422.14,-1656.82 422.55,-1654.44 422.96,-1654.7 423.36,-1653.62 423.77,-1657.14 424.18,-1658.59 424.58,-1660.11 424.99,-1658.19 425.4,-1661.34 425.81,-1660.03 426.21,-1660.79 426.62,-1663.23 427.03,-1665.21 427.43,-1663.11 427.84,-1663.98 428.25,-1664.72 428.65,-1665.77 429.06,-1664.23 429.47,-1668.68 429.88,-1666.05 430.28,-1668.1 430.69,-1665.66 431.1,-1668.41 431.5,-1668.86 431.91,-1667.63 432.32,-1673.25 432.72,-1670.4 433.13,-1673.93 433.54,-1672.78 433.94,-1669.86 434.35,-1670.78 434.76,-1672.73 435.17,-1672.14 435.57,-1672.33 435.98,-1671.9 436.39,-1669.11 436.79,-1672.93 437.2,-1669.41 437.61,-1675.5 438.01,-1673.88 438.42,-1674.53 438.83,-1676.12 439.23,-1677.63 439.64,-1674.46 440.05,-1674.06 440.46,-1675.6 440.86,-1673.58 441.27,-1675.85 441.68,-1681.35 442.08,-1676.2 442.08,-1795.96 442.49,-1659.56 442.9,-1545.83 443.3,-1440.37 443.71,-1348.11 444.12,-1266.59 444.52,-1194.92 444.93,-1125.12 445.34,-1065.15 445.75,-1009.04 446.15,-963.9 446.56,-918.72 446.97,-881.96 447.37,-845.05 447.78,-817.11 448.19,-780.61 448.59,-757.86 449,-736.09 449.41,-711.01 449.82,-689.05 450.22,-670.47 450.63,-649.72 451.04,-635.62 451.44,-624.36 451.85,-606.61 452.26,-587.83 452.66,-575.1 453.07,-563.57 453.48,-554.56 453.88,-539.27 454.29,-528.51 454.7,-521.28 455.11,-511.29 455.51,-499.28 455.92,-488.67 456.33,-478.92 456.73,-471.96 457.14,-460.13 457.55,-457.88 457.95,-446.75 458.36,-441.02 458.77,-436.02 459.18,-426.75 459.58,-414.15 459.99,-410.7 460.4,-403.8 460.8,-392.57 461.21,-385.15 461.62,-380.2 462.02,-370.6 462.43,-370.68 462.84,-356.36 463.24,-352.92 463.65,-348.67 464.06,-342.96 464.47,-338.19 464.87,-332.96 465.28,-326.54 465.69,-323.87 466.09,-311.46 466.5,-310.28" stroke="#dc7203"/>
<polyline points="320,84.89 320.41,76.91 320.81,82.42 321.22,88.02 321.63,74.27 322.03,77.25 322.44,84.12 322.85,81.16 323.26,82.32 323.66,81.77 324.07,86.19 324.48,84.5 324.88,81.92 325.29,82.88 325.7,80.64 326.1,83.65 326.51,77.79 326.92,85.54 327.32,82.83 327.73,88.28 328.14,86.55 328.55,80.01 328.95,86.06 329.36,82.47 329.77,84.04 330.17,86.37 330.58,84.09 330.99,83.82 331.39,82.99 331.8,79.16 332.21,79.06 332.62,82.13 333.02,83.04 333.43,80.04 333.84,80.96 334.24,77.86 334.65,73.41 335.06,77.85 335.46,79.99 335.87,80.35 336.28,82.23 336.68,82.54 337.09,82.97 337.5,81.53 337.91,81.66 338.31,78.62 338.72,81.52 339.13,80.99 339.53,83.67 339.94,76.43 340.35,79.57 340.75,76.57 341.16,79.48 341.57,78.02 341.98,82.64 342.38,80.06 342.79,74.66 343.2,84.42 343.6,77.98 344.01,76.5 344.42,79.73 344.82,78.82 344.91,77.51 345.23,34.96 345.64,-7.86 346.04,-30.3 346.45,-47.63 346.86,-58.98 347.27,-67.97 347.67,-74.42 348.08,-79.69 348.49,-78.51 348.89,-90.78 349.3,-91.64 349.71,-93.35 350.11,-93.16 350.52,-96.32 350.93,-100.17 351.33,-101.67 351.74,-97.77 352.15,-105.63 352.56,-112.85 352.96,-101.85 353.37,-111 353.78,-111.02 354.18,-111.36 354.59,-116.76 355,-111.36 355.4,-116.19 355.81,-120.89 356.22,-117.85 356.62,-118.75 357.03,-121.85 357.44,-122.27 357.85,-129.62 358.25,-125.3 358.66,-132.11 359.07,-128.4 359.47,-135.13 359.88,-134.5 360.29,-129.17 360.69,-137.15 361.1,-135.51 361.51,-138.4 361.92,-144.96 362.32,-139.22 362.73,-140.58 363.14,-148.28 363.54,-145.77 363.95,-150.55 364.36,-148.39 364.76,-146.34 365.17,-149.64 365.58,-154.11 365.98,-154.22 366.39,-152.44 366.8,-153.17 367.21,-153.38 367.61,-152.91 368.02,-160.48 368.43,-156.43 368.83,-154.53 369.24,-157.43 369.65,-161.82 370.05,-162.8 370.46,-161.86 370.87,-161.44 371.27,-164.15 371.68,-160.49 372.09,-162.31 372.5,-168.75 372.9,-166.32 373.31,-169.61 373.72,-172.91 374.12,-172.48 374.53,-171.81 374.94,-178.29 375.34,-175.25 375.75,-173.38 376.16,-177.19 376.57,-177.41 376.97,-175.2 377.38,-178.75 377.79,-179.09 378.19,-175.16 378.6,-180.63 379.01,-180.98 379.41,-181.09 379.82,-178.21 380.23,-181.77 380.63,-182.67 381.04,-183.17 381.45,-180.22 381.86,-185.44 382.26,-181.33 382.67,-184.92 383.08,-190.08 383.48,-186 383.89,-187.67 384.3,-192.97 384.7,-190.08 385.11,-191.13 385.52,-193.21 385.93,-196.07 386.33,-188.13 386.74,-192.44 387.15,-192.65 387.55,-193.19 387.96,-194.63 388.37,-195.55 388.77,-199.35 389.18,-196.76 389.59,-199.7 389.99,-200.54 390.4,-197.7 390.81,-200.31 391.22,-204.8 391.62,-201.84 392.03,-199.61 392.44,-201.15 392.84,-198.79 393.25,-201.84 393.66,-203.54 394.06,-199.51 394.47,-201.73 394.88,-205.92 395.28,-202.4 395.69,-204.82 396.1,-202.1 396.51,-202.95 396.91,-203.97 397.32,-211.12 397.73,-204.76 398.13,-204.89 398.54,-205.41 398.95,-207.15 399.35,-210.02 399.76,-209.57 400.17,-215.1 400.57,-211.01 400.98,-214.76 401.39,-212.19 401.8,-213.35 402.2,-208.35 402.61,-212.12 403.02,-212.86 403.42,-213.14 403.83,-208.91 404.24,-217.19 404.64,-214.11 405.05,-213.98 405.46,-214.41 405.87,-214.52 406.27,-216.31 406.68,-212.2 407.09,-213.24 407.49,-216.43 407.9,-216 408.31,-214.59 408.71,-214.15 409.12,-213.78 409.53,-216.37 409.93,-220.35 410.34,-215.44 410.75,-222.79 411.16,-221.47 411.56,-218.24 411.97,-221.33 412.38,-215.42 412.78,-214.78 413.19,-216.22 413.6,-219.08 414,-220.11 414.41,-220.55 414.82,-223.02 415.23,-218.02 415.63,-225.35 416.04,-220.76 416.45,-222.88 416.85,-223.48 417.26,-221.34 417.67,-220.41 418.07,-220.94 418.48,-223.24 418.89,-224.8 419.29,-224.99 419.7,-221.32 420.11,-222.09 420.52,-221.79 420.92,-225.15 421.33,-218.48 421.74,-226.69 422.14,-222.17 422.55,-221.48 422.96,-224.58 423.36,-226.66 423.77,-225.22 424.18,-227.44 424.58,-225.57 424.99,-229 425.4,-229.71 425.81,-226.87 426.21,-231.31 426.62,-228.35 427.03,-228.4 427.43,-226.03 427.84,-227.93 428.25,-230.97 428.65,-225.91 429.06,-231.28 429.47,-230.82 429.88,-230.85 430.28,-224.51 430.69,-229.79 431.1,-231.46 431.5,-227.49 431.91,-229.38 432.32,-222.86 432.72,-230.8 433.13,-227.73 433.54,-232.27 433.94,-225.95 434.35,-233.1 434.76,-231.22 435.17,-234.28 435.57,-230.04 435.98,-230.89 436.39,-238.14 436.79,-229.99 437.2,-230.03 437.61,-230.91 438.01,-228.91 438.42,-234.68 438.83,-236.26 439.23,-230.27 439.64,-227.86 440.05,-235.46 440.46,-235.38 440.86,-234.74 441.27,-235.79 441.68,-230.83 442.08,-232.84 442.08,-205.23 442.49,-188.17 442.9,-178.71 443.3,-160.17 443.71,-154.78 444.12,-137.31 444.52,-124.7 444.93,-118.41 445.34,-111.69 445.75,-99.67 446.15,-87.45 446.56,-84.58 446.97,-81.04 447.37,-70.71 447.78,-64.82 448.19,-64.45 448.59,-57.43 449,-49.76 449.41,-47.47 449.82,-42.66 450.22,-41.75 450.63,-37.83 451.04,-37.25 451.44,-33.02 451.85,-24.21 452.26,-26.41 452.66,-24.86 453.07,-21.04 453.48,-20.06 453.88,-13.84 454.29,-10.94 454.7,-14.16 455.11,-7.58 455.51,-3.46 455.92,-10.46 456.33,-4.82 456.73,-4.73 457.14,-0.66 457.55,0.54 457.95,1.65 458.36,1.3 458.77,1.22 459.18,9.97 459.58,4.03 459.99,10.88 460.4,12.37 460.8,9.45 461.21,12.66 461.62,17.36 462.02,9.33 462.43,16.84 462.84,14.57 463.24,15.46 463.65,13.34 464.06,19.34 464.47,16.82 464.87,22.48 465.28,18.6 465.69,24.15 466.09,23.65 466.5,18.3" stroke="#ffc800"/>
<polyline points="320,86.52 320.41,83.33 320.81,84.88 321.22,81.94 321.63,77.36 322.03,80.84 322.44,83.53 322.85,87.13 323.26,86.47 323.66,87 324.07,80.2 324.48,83.94 324.88,81.48 325.29,83.21 325.7,81.31 326.1,77.94 326.51,83.83 326.92,83.13 327.32,84.48 327.73,79.77 328.14,84.49 328.55,84.19 328.95,84.27 329.36,83.87 329.77,78.55 330.17,72.8 330.58,82.42 330.99,77.15 331.39,79.06 331.8,82.83 332.21,80.89 332.62,81.29 333.02,83.2 333.43,76.8 333.84,87.7 334.24,81.72 334.65,81.62 335.06,83.47 335.46,80.7 335.87,78.02 336.28,79.57 336.68,78.84 337.09,78.39 337.5,86.21 337.91,77.19 338.31,75.43 338.72,79.27 339.13,79.48 339.53,86.31 339.94,83.1 340.35,85.22 340.75,84.85 341.16,80.84 341.57,85.73 341.98,83.88 342.38,88.49 342.79,83.44 343.2,82.44 343.6,84.34 344.01,84.26 344.42,77.22 344.82,82.88 344.91,81.51 345.23,76.85 345.64,65.99 346.04,57.11 346.45,55.87 346.86,54.57 347.27,51.42 347.67,45.64 348.08,49.7 348.49,42.34 348.89,41.63 349.3,44.58 349.71,42.42 350.11,41.55 350.52,38.77 350.93,45.16 351.33,38.46 351.74,42.03 352.15,42.49 352.56,39.54 352.96,39.78 353.37,41.23 353.78,42.3 354.18,40.07 354.59,33.23 355,31.44 355.4,34.43 355.81,32.24 356.22,36.07 356.62,34.28 357.03,32.98 357.44,36.55 357.85,36.17 358.25,32.9 358.66,33.43 359.07,34.66 359.47,29.95 359.88,31.08 360.29,27.24 360.69,29.93 361.1,30.85 361.51,29.87 361.92,30.72 362.32,31.87 362.73,30.78 363.14,27.24 363.54,27.17 363.95,25.18 364.36,32.98 364.76,29.14 365.17,28.79 365.58,26.79 365.98,28.12 366.39,28.05 366.8,24.42 367.21,26 367.61,29.57 368.02,22.69 368.43,23.41 368.83,27.47 369.24,23.52 369.65,27.71 370.05,22.78 370.46,26.67 370.87,28.63 371.27,27.85 371.68,29.11 372.09,26.4 372.5,25.92 372.9,25.45 373.31,26.08 373.72,33.7 374.12,23.23 374.53,28.86 374.94,23.82 375.34,22.41 375.75,25.66 376.16,28.15 376.57,27.98 376.97,28.01 377.38,29.14 377.79,29.12 378.19,29.76 378.6,23.56 379.01,26.06 379.41,22.52 379.82,24.87 380.23,23.25 380.63,23.41 381.04,21.41 381.45,20.25 381.86,21.75 382.26,24.27 382.67,24.82 383.08,18.69 383.48,24.46 383.89,24.87 384.3,20.22 384.7,21.04 385.11,22.16 385.52,24.3 385.93,16.59 386.33,21.76 386.74,21.32 387.15,23.24 387.55,26.47 387.96,25.97 388.37,20.82 388.77,20.36 389.18,21.66 389.59,23.99 389.99,24.83 390.4,22.16 390.81,25.61 391.22,19.53 391.62,18.91 392.03,14.21 392.44,19.17 392.84,22.8 393.25,23.24 393.66,29.96 394.06,22.04 394.47,20.76 394.88,17.58 395.28,18.57 395.69,18.83 396.1,20.23 396.51,19.53 396.91,17.9 397.32,24.97 397.73,23.31 398.13,25.53 398.54,16.91 398.95,17.2 399.35,18.08 399.76,22.83 400.17,18.72 400.57,19.62 400.98,18.83 401.39,19.9 401.8,18.52 402.2,21.54 402.61,18.51 403.02,20.18 403.42,21.29 403.83,20.3 404.24,20.75 404.64,17.21 405.05,20.36 405.46,19.33 405.87,21.79 406.27,25.23 406.68,19.02 407.09,24.34 407.49,19.48 407.9,19.93 408.31,25.21 408.71,22.88 409.12,21.27 409.53,21.64 409.93,22.21 410.34,16.62 410.75,18.86 411.16,16.66 411.56,18.26 411.97,15.6 412.38,17.83 412.78,15.39 413.19,13.48 413.6,14.9 414,16.45 414.41,18.49 414.82,15.48 415.23,15.34 415.63,17.2 416.04,18.7 416.45,15.21 416.85,9.99 417.26,17.52 417.67,15.71 418.07,15.43 418.48,23.11 418.89,15.51 419.29,17.47 419.7,11.63 420.11,16.01 420.52,17.57 420.92,16.41 421.33,15.88 421.74,18.36 422.14,17.37 422.55,21.01 422.96,17.79 423.36,14.67 423.77,10.92 424.18,13.8 424.58,14.54 424.99,11.81 425.4,12.2 425.81,10.55 426.21,12.29 426.62,15.7 427.03,14.84 427.43,15.28 427.84,15.34 428.25,16.2 428.65,19.52 429.06,23.57 429.47,19.81 429.88,23.17 430.28,16.96 430.69,16.56 431.1,20.65 431.5,13.95 431.91,13.17 432.32,14.88 432.72,10.17 433.13,9.24 433.54,17.44 433.94,11.65 434.35,13.85 434.76,14.59 435.17,13.73 435.57,18.43 435.98,18.03 436.39,18.47 436.79,18.1 437.2,16.27 437.61,19.9 438.01,18.67 438.42,13.93 438.83,15.13 439.23,13.27 439.64,18.88 440.05,15.62 440.46,15.03 440.86,13.67 441.27,15.58 441.68,11.5 442.08,13.9 442.08,17.77 442.49,23.46 442.9,26.18 443.3,32.82 443.71,31.74 444.12,36.4 444.52,39.64 444.93,41.93 445.34,42.25 445.75,42.2 446.15,43.53 446.56,46.06 446.97,45.54 447.37,48.28 447.78,45.81 448.19,49.87 448.59,56.09 449,47.73 449.41,52.15 449.82,56.92 450.22,55.7 450.63,58.89 451.04,51.92 451.44,57.04 451.85,63.12 452.26,57.68 452.66,60.37 453.07,54.11 453.48,61.96 453.88,64.84 454.29,58.17 454.7,58.96 455.11,59.06 455.51,63.94 455.92,57.48 456.33,54.75 456.73,65.09 457.14,57.37 457.55,62.57 457.95,55.1 458.36,60.62 458.77,62.67 459.18,59.6 459.58,61.64 459.99,65.18 460.4,62.15 460.8,65.91 461.21,69.75 461.62,59.7 462.02,66.28 462.43,66.94 462.84,64.15 463.24,68.9 463.65,67.89 464.06,65.16 464.47,64.92 464.87,63.27 465.28,60.67 465.69,65.46 466.09,63.42 466.5,63.63" stroke="#008c32"/>
<polyline points="320,79.74 320.41,84.74 320.81,82.34 321.22,78.95 321.63,84.86 322.03,83.04 322.44,81.69 322.85,85.68 323.26,78.73 323.66,80.8 324.07,85.71 324.48,81.68 324.88,83.65 325.29,83.45 325.7,81.78 326.1,84.43 326.51,80.5 326.92,85.45 327.32,80.99 327.73,83.48 328.14,80.51 328.55,83.73 328.95,83.28 329.36,84.92 329.77,80.28 330.17,79.34 330.58,76.16 330.99,78.49 331.39,81.58 331.8,83.33 332.21,82.32 332.62,83.94 333.02,80.12 333.43,81.42 333.84,85.91 334.24,85.14 334.65,79.3 335.06,82.03 335.46,83.52 335.87,79.81 336.28,84.17 336.68,83.85 337.09,84.16 337.5,87.95 337.91,80.08 338.31,85.59 338.72,83.88 339.13,84.43 339.53,80.48 339.94,82.6 340.35,82.27 340.75,86.75 341.16,82.36 341.57,86.06 341.98,81.18 342.38,80.93 342.79,81.87 343.2,76.24 343.6,80.41 344.01,80.48 344.42,82.14 344.82,81.11 344.91,77.64 345.23,74.46 345.64,77.78 346.04,67.93 346.45,66.23 346.86,62.8 347.27,62.61 347.67,65.78 348.08,64.24 348.49,54.92 348.89,58.13 349.3,61.78 349.71,56.34 350.11,57.76 350.52,61.41 350.93,62.4 351.33,60.39 351.74,55.17 352.15,55.79 352.56,55.95 352.96,54.02 353.37,52.7 353.78,59.66 354.18,54.64 354.59,56.06 355,57.18 355.4,55.28 355.81,53.9 356.22,53.85 356.62,56.5 357.03,53.34 357.44,46.24 357.85,54.47 358.25,56.37 358.66,51.4 359.07,50.83 359.47,51.3 359.88,55.46 360.29,49.36 360.69,53.6 361.1,53.9 361.51,51.89 361.92,50.14 362.32,47.75 362.73,47.99 363.14,49.82 363.54,47.38 363.95,49.87 364.36,47.91 364.76,54.35 365.17,54.94 365.58,48.56 365.98,54.2 366.39,50.89 366.8,49.92 367.21,50.59 367.61,50.24 368.02,45.15 368.43,55.79 368.83,46.67 369.24,42.96 369.65,49.21 370.05,49.48 370.46,47.69 370.87,45.01 371.27,53.5 371.68,50.37 372.09,51.38 372.5,49.54 372.9,50.67 373.31,49.21 373.72,51.9 374.12,50.36 374.53,52.09 374.94,51.91 375.34,50.32 375.75,50.02 376.16,52.36 376.57,44.4 376.97,48.51 377.38,51.48 377.79,44.44 378.19,49.14 378.6,45.43 379.01,46.58 379.41,45.74 379.82,46.07 380.23,48.38 380.63,47.1 381.04,42.07 381.45,53.87 381.86,47.78 382.26,46.78 382.67,50.7 383.08,51.42 383.48,41.76 383.89,48.52 384.3,41.84 384.7,45.92 385.11,47 385.52,45.72 385.93,45.09 386.33,43.46 386.74,45.35 387.15,46.04 387.55,45.88 387.96,42.64 388.37,44.02 388.77,48.82 389.18,47.66 389.59,44.84 389.99,47.23 390.4,46.43 390.81,47.94 391.22,46.07 391.62,44.31 392.03,42.95 392.44,45.85 392.84,40.49 393.25,46.47 393.66,37.74 394.06,43.73 394.47,45.11 394.88,47.78 395.28,54.01 395.69,46.73 396.1,45.73 396.51,40.87 396.91,49.57 397.32,40.35 397.73,45.74 398.13,42.59 398.54,50.91 398.95,43.22 399.35,44.11 399.76,40.92 400.17,42.09 400.57,45.04 400.98,39.15 401.39,39.81 401.8,40.31 402.2,39.63 402.61,39.95 403.02,43.61 403.42,47.85 403.83,48.44 404.24,41.33 404.64,43.01 405.05,44.34 405.46,45.36 405.87,43.73 406.27,43.54 406.68,44.49 407.09,45.64 407.49,38.26 407.9,44.03 408.31,46.92 408.71,49.36 409.12,48.07 409.53,44.02 409.93,43.37 410.34,45.23 410.75,43.72 411.16,44.09 411.56,45.94 411.97,39.31 412.38,41.83 412.78,36.19 413.19,44.98 413.6,43.34 414,40.54 414.41,43.42 414.82,46.24 415.23,44.82 415.63,41.94 416.04,41.56 416.45,43.32 416.85,41.07 417.26,41.72 417.67,43.88 418.07,44.72 418.48,45.25 418.89,42.74 419.29,41.43 419.7,43.52 420.11,42.28 420.52,44.17 420.92,46.8 421.33,45.27 421.74,40.05 422.14,40.57 422.55,37.38 422.96,41.65 423.36,39.71 423.77,38.67 424.18,39.59 424.58,43.79 424.99,42.42 425.4,41.43 425.81,44.5 426.21,40.81 426.62,39.64 427.03,43.87 427.43,37.18 427.84,43.08 428.25,42.66 428.65,42.72 429.06,44.09 429.47,41.18 429.88,42.29 430.28,37.79 430.69,40.54 431.1,40.72 431.5,42.93 431.91,46.46 432.32,43.19 432.72,45.41 433.13,40.49 433.54,42.92 433.94,38.01 434.35,40.21 434.76,39.71 435.17,41.24 435.57,41.34 435.98,40.32 436.39,39.84 436.79,44.46 437.2,41.26 437.61,35.34 438.01,42.24 438.42,42.11 438.83,42.74 439.23,44.44 439.64,37.27 440.05,40.52 440.46,40.09 440.86,35.95 441.27,33.92 441.68,42.71 442.08,37.09 442.08,40.62 442.49,44.98 442.9,47.51 443.3,50.32 443.71,47.09 444.12,50.65 444.52,52.27 444.93,50.8 445.34,52.86 445.75,55.28 446.15,56.84 446.56,54.01 446.97,58.22 447.37,60.51 447.78,63.16 448.19,62.35 448.59,64.85 449,62.3 449.41,62.38 449.82,68.96 450.22,63.57 450.63,61.99 451.04,63.45 451.44,66.74 451.85,61.15 452.26,67.04 452.66,69.12 453.07,69.32 453.48,66.95 453.88,64.71 454.29,64.72 454.7,67.88 455.11,72.31 455.51,71.52 455.92,72.8 456.33,71.42 456.73,76.19 457.14,71.41 457.55,70.14 457.95,72.35 458.36,70.74 458.77,74.58 459.18,76.11 459.58,74.11 459.99,69.54 460.4,70.21 460.8,74.54 461.21,70.26 461.62,74.42 462.02,69.24 462.43,71.6 462.84,73.58 463.24,69.63 463.65,73.33 464.06,73.33 464.47,74.5 464.87,69.93 465.28,71.07 465.69,71.51 466.09,72.72 466.5,67.88" stroke="#12c2c2"/>
<polyline points="320,81.68 320.41,81.94 320.81,80.56 321.22,85.11 321.63,79.77 322.03,81.78 322.44,80.4 322.85,83.39 323.26,80.21 323.66,83.74 324.07,79.67 324.48,79.69 324.88,80.69 325.29,81.97 325.7,81.63 326.1,90.45 326.51,80.62 326.92,83.46 327.32,82.47 327.73,83.7 328.14,86.98 328.55,84.96 328.95,81.92 329.36,80 329.77,85.61 330.17,86.46 330.58,80.15 330.99,86.36 331.39,78.01 331.8,82.83 332.21,84.56 332.62,78.79 333.02,76.46 333.43,84.93 333.84,77.23 334.24,82.8 334.65,78.55 335.06,83.89 335.46,87.12 335.87,81.26 336.28,79.78 336.68,76.3 337.09,77.08 337.5,79.76 337.91,82.33 338.31,83.26 338.72,82.87 339.13,84.48 339.53,83.01 339.94,89.02 340.35,81.44 340.75,81.77 341.16,74.62 341.57,79.5 341.98,82.95 342.38,80.21 342.79,84.99 343.2,83.01 343.6,85.97 344.01,76.57 344.42,78.53 344.82,82.53 344.91,79.44 345.23,76.03 345.64,76.46 346.04,75.79 346.45,78.11 346.86,76.61 347.27,73.82 347.67,70.75 348.08,74.59 348.49,74.46 348.89,67.47 349.3,72.43 349.71,66.7 350.11,68.94 350.52,67.3 350.93,64.95 351.33,67.6 351.74,67.03 352.15,71.29 352.56,70.52 352.96,66.96 353.37,64.78 353.78,65.39 354.18,62.97 354.59,68.19 355,67.97 355.4,65.03 355.81,66.79 356.22,66.09 356.62,67.98 357.03,61.97 357.44,67.37 357.85,63.15 358.25,68.43 358.66,61.49 359.07,66.79 359.47,61.09 359.88,67.04 360.29,63.59 360.69,59.3 361.1,65.17 361.51,63.55 361.92,65.73 362.32,71.07 362.73,63.93 363.14,63.06 363.54,66.4 363.95,60.98 364.36,63.97 364.76,64.14 365.17,61.35 365.58,63.37 365.98,55.54 366.39,66.05 366.8,59.78 367.21,58.84 367.61,66.51 368.02,65.56 368.43,59.27 368.83,62.25 369.24,60.21 369.65,58.44 370.05,62.64 370.46,64.39 370.87,68.6 371.27,60.33 371.68,63.11 372.09,59.54 372.5,59.56 372.9,63.64 373.31,54.83 373.72,56.06 374.12,56.2 374.53,61.32 374.94,59.04 375.34,59.49 375.75,59.43 376.16,61.8 376.57,58.05 376.97,58.98 377.38,58.81 377.79,61.24 378.19,56.4 378.6,59.44 379.01,67.46 379.41,61.92 379.82,60.39 380.23,57.55 380.63,60.79 381.04,60.42 381.45,61.33 381.86,57.62 382.26,60.64 382.67,61.21 383.08,61.81 383.48,58.54 383.89,61.66 384.3,64.91 384.7,58.95 385.11,62.97 385.52,60.7 385.93,61.22 386.33,59.3 386.74,59.66 387.15,63.62 387.55,61.95 387.96,64.49 388.37,56.18 388.77,59.48 389.18,57 389.59,61.73 389.99,66.37 390.4,56.5 390.81,60.06 391.22,59.56 391.62,59.39 392.03,57.48 392.44,57.53 392.84,63.06 393.25,55.63 393.66,59.82 394.06,59.48 394.47,53.42 394.88,55.54 395.28,58.98 395.69,63.21 396.1,57.85 396.51,56.77 396.91,58.2 397.32,61 397.73,59.49 398.13,60.69 398.54,56.91 398.95,55.64 399.35,55.5 399.76,60.6 400.17,58.28 400.57,57.72 400.98,60.95 401.39,60.35 401.8,54.54 402.2,59.91 402.61,58.06 403.02,61.46 403.42,59.91 403.83,64.34 404.24,59.43 404.64,55.84 405.05,53.21 405.46,55.64 405.87,57.14 406.27,59.07 406.68,61.08 407.09,60.22 407.49,58.6 407.9,62.98 408.31,58.91 408.71,64.37 409.12,66.33 409.53,63.63 409.93,64.55 410.34,62.97 410.75,55.66 411.16,59.05 411.56,57.99 411.97,55.73 412.38,55.81 412.78,60.88 413.19,56.08 413.6,58.61 414,59.53 414.41,58.24 414.82,63.28 415.23,61.68 415.63,60.16 416.04,58.76 416.45,62.15 416.85,62.26 417.26,59.87 417.67,58.85 418.07,60.29 418.48,58.28 418.89,61.99 419.29,60.99 419.7,58.78 420.11,60.22 420.52,60.84 420.92,55.34 421.33,60.86 421.74,63.45 422.14,59.91 422.55,56.42 422.96,61.12 423.36,57.83 423.77,62.09 424.18,61.94 424.58,62.13 424.99,60.32 425.4,54.73 425.81,62.74 426.21,55.21 426.62,62.35 427.03,60.1 427.43,56.86 427.84,56.91 428.25,57.35 428.65,62.21 429.06,56.66 429.47,60.54 429.88,51.15 430.28,59.01 430.69,58.14 431.1,61.73 431.5,59.68 431.91,61.5 432.32,55 432.72,58.14 433.13,55.88 433.54,59.39 433.94,59.11 434.35,54.52 434.76,60.88 435.17,63.43 435.57,57.84 435.98,62.43 436.39,60.87 436.79,57.4 437.2,62.1 437.61,57.45 438.01,61.61 438.42,55.72 438.83,56.13 439.23,60.88 439.64,60 440.05,61.49 440.46,58.61 440.86,56.09 441.27,63.24 441.68,56.97 442.08,62.98 442.08,63.39 442.49,67.31 442.9,57.58 443.3,63.3 443.71,62.92 444.12,65.56 444.52,61.09 444.93,70.05 445.34,64.84 445.75,59.63 446.15,67.34 446.56,66.92 446.97,65.76 447.37,70.42 447.78,68.94 448.19,67.33 448.59,70.38 449,70.79 449.41,73.4 449.82,72.06 450.22,73.06 450.63,69.47 451.04,71.53 451.44,74.13 451.85,79.96 452.26,71.25 452.66,71.09 453.07,75.78 453.48,79.14 453.88,77.44 454.29,72.49 454.7,78.41 455.11,77.18 455.51,75.6 455.92,73.03 456.33,76.46 456.73,76.76 457.14,78.2 457.55,72.79 457.95,75.01 458.36,78.91 458.77,82.99 459.18,81.58 459.58,77.8 459.99,81.13 460.4,76.69 460.8,78.28 461.21,78.83 461.62,78.26 462.02,78.91 462.43,82.47 462.84,80.63 463.24,72.82 463.65,81.82 464.06,79.45 464.47,75.18 464.87,78.62 465.28,80.63 465.69,82.23 466.09,77.32 466.5,76.06" stroke="#0404e6"/>
<path d="M344.07 4.9V95M442.08 4.9V95" stroke="#000" stroke-width="1.8"/>
</g>
<text x="320" y="107.3" text-anchor="middle" font-size="11">0</text>
<text x="360.69" y="107.3" text-anchor="middle" font-size="11">50</text>
<text x="401.39" y="107.3" text-anchor="middle" font-size="11">100</text>
<text x="442.08" y="107.3" text-anchor="middle" font-size="11">150</text>
<text x="317.5" y="100.16" text-anchor="end" font-size="11">-0.2</text>
<text x="317.5" y="87.29" text-anchor="end" font-size="11">0</text>
<text x="317.5" y="74.42" text-anchor="end" font-size="11">0.2</text>
<text x="317.5" y="61.55" text-anchor="end" font-size="11">0.4</text>
<text x="317.5" y="48.67" text-anchor="end" font-size="11">0.6</text>
<text x="317.5" y="35.8" text-anchor="end" font-size="11">0.8</text>
<text x="317.5" y="22.93" text-anchor="end" font-size="11">1</text>
<text x="317.5" y="10.06" text-anchor="end" font-size="11">1.2</text>
<text x="393.25" y="119.8" text-anchor="middle" font-size="11.4">Time [s]</text>
<clipPath id="clipbR"><rect x="319.4" y="158.2" width="147.7" height="91.9"/></clipPath>
<path d="M320 249.3V159H466.5V249.3" fill="#fff" stroke="#a6a6a6" stroke-width="1.3"/>
<path d="M320 249.8H466.5" stroke="#a4a4d8" stroke-width="1"/>
<path d="M320 249.3v-2.2M320 159v2.2M360.69 249.3v-2.2M360.69 159v2.2M401.39 249.3v-2.2M401.39 159v2.2M442.08 249.3v-2.2M442.08 159v2.2M320 249.3h2.2M466.5 249.3h-2.2M320 236.4h2.2M466.5 236.4h-2.2M320 223.5h2.2M466.5 223.5h-2.2M320 210.6h2.2M466.5 210.6h-2.2M320 197.7h2.2M466.5 197.7h-2.2M320 184.8h2.2M466.5 184.8h-2.2M320 171.9h2.2M466.5 171.9h-2.2M320 159h2.2M466.5 159h-2.2" stroke="#555" stroke-width="1" fill="none"/>
<g clip-path="url(#clipbR)" fill="none" stroke-width="1.9" stroke-linejoin="round">
<polyline points="320,237.06 320.41,235.02 320.81,234.83 321.22,236.95 321.63,237.04 322.03,237.9 322.44,236.88 322.85,240.22 323.26,236.73 323.66,237.28 324.07,239.86 324.48,233 324.88,240.35 325.29,240.18 325.7,237.47 326.1,242.44 326.51,239.54 326.92,240.99 327.32,239.48 327.73,237.38 328.14,236.17 328.55,234.15 328.95,234.62 329.36,233.52 329.77,234.76 330.17,237.21 330.58,233.71 330.99,237.72 331.39,238.36 331.8,233.68 332.21,235.55 332.62,236.85 333.02,235.44 333.43,234.87 333.84,239.77 334.24,236.54 334.65,238.82 335.06,235.66 335.46,237.43 335.87,232.72 336.28,234.69 336.68,237.8 337.09,235.98 337.5,238.84 337.91,236.1 338.31,235.12 338.72,235.93 339.13,241.04 339.53,237.24 339.94,235.14 340.35,235.52 340.75,233.56 341.16,239.34 341.57,235.31 341.98,238.18 342.38,236.29 342.79,235.8 343.2,235.04 343.6,237.8 344.01,235.78 344.42,238.63 344.82,238.89 344.91,234.06 345.23,223.73 345.64,213.88 346.04,199.79 346.45,186.49 346.86,172.53 347.27,164.06 347.67,155.68 348.08,153.38 348.49,141.81 348.89,133.38 349.3,126.91 349.71,120.51 350.11,115.92 350.52,105.48 350.93,100.65 351.33,99.2 351.74,96.57 352.15,85.26 352.56,87.41 352.96,79.8 353.37,74.87 353.78,78.38 354.18,72.48 354.59,70.96 355,66.05 355.4,63.77 355.81,57.48 356.22,58.29 356.62,57.4 357.03,52.45 357.44,53.31 357.85,51.14 358.25,42.78 358.66,47.7 359.07,44.91 359.47,41.82 359.88,42.67 360.29,43.52 360.69,34.65 361.1,37.37 361.51,35.16 361.92,33 362.32,32.53 362.73,30.82 363.14,26.07 363.54,19.11 363.95,21.36 364.36,19.9 364.76,23.84 365.17,19.17 365.58,20.6 365.98,14.72 366.39,15.65 366.8,13.68 367.21,12.72 367.61,12.72 368.02,13.8 368.43,7.82 368.83,11.19 369.24,9.43 369.65,5.98 370.05,5.4 370.46,1.53 370.87,-1.9 371.27,-1.81 371.68,-3.28 372.09,-4.36 372.5,-7.66 372.9,-2.65 373.31,-8.94 373.72,-6.86 374.12,-6.85 374.53,-10.15 374.94,-9.54 375.34,-12.17 375.75,-14.04 376.16,-7.15 376.57,-13.81 376.97,-20.17 377.38,-19.31 377.79,-22.24 378.19,-20.55 378.6,-18.24 379.01,-20.03 379.41,-25.2 379.82,-26.55 380.23,-23.32 380.63,-25.1 381.04,-27.1 381.45,-23.32 381.86,-27.58 382.26,-33.26 382.67,-35.71 383.08,-31.44 383.48,-36.88 383.89,-32.25 384.3,-32.43 384.7,-30.02 385.11,-38.43 385.52,-36.36 385.93,-43.62 386.33,-39.82 386.74,-40.28 387.15,-36.4 387.55,-44.84 387.96,-41.3 388.37,-42.59 388.77,-38.68 389.18,-46.78 389.59,-47.67 389.99,-44.61 390.4,-46.71 390.81,-47.77 391.22,-49.41 391.62,-47.84 392.03,-52.27 392.44,-48.65 392.84,-48.96 393.25,-50.52 393.66,-46.9 394.06,-51.97 394.47,-57.11 394.88,-56.21 395.28,-54.44 395.69,-57.82 396.1,-52.89 396.51,-57.4 396.91,-59.73 397.32,-60.63 397.73,-57.85 398.13,-62.56 398.54,-65.67 398.95,-61.25 399.35,-64.82 399.76,-60.25 400.17,-59.98 400.57,-66.54 400.98,-65.73 401.39,-66.52 401.8,-65.09 402.2,-66.14 402.61,-69.11 403.02,-71.72 403.42,-67.84 403.83,-65.23 404.24,-72.79 404.64,-71.98 405.05,-72.87 405.46,-72.35 405.87,-77.92 406.27,-73.28 406.68,-74.85 407.09,-69.89 407.49,-73.34 407.9,-73.53 408.31,-75.49 408.71,-76.83 409.12,-74.81 409.53,-81.14 409.93,-75.18 410.34,-77.08 410.75,-79.06 411.16,-75.96 411.56,-80.6 411.97,-81.29 412.38,-79.86 412.78,-85.81 413.19,-82.38 413.6,-83.53 414,-81.11 414.41,-79.72 414.82,-82.33 415.23,-83.3 415.63,-83.4 416.04,-86.81 416.45,-80.13 416.85,-83.75 417.26,-82.87 417.67,-90.98 418.07,-87.26 418.48,-87.97 418.89,-87.05 419.29,-92.05 419.7,-89.36 420.11,-91.3 420.52,-86.67 420.92,-94.79 421.33,-93.63 421.74,-94.53 422.14,-96.54 422.55,-93.58 422.96,-94.04 423.36,-96.57 423.77,-96.45 424.18,-95.48 424.58,-96.69 424.99,-95.87 425.4,-99.07 425.81,-99.87 426.21,-97.97 426.62,-102.55 427.03,-94.81 427.43,-98.04 427.84,-102.77 428.25,-98.04 428.65,-95.57 429.06,-102.88 429.47,-101.32 429.88,-97.79 430.28,-102.94 430.69,-99.34 431.1,-99.12 431.5,-102.31 431.91,-101.9 432.32,-100.82 432.72,-102.94 433.13,-101.93 433.54,-104.88 433.94,-105.07 434.35,-107.13 434.76,-104.51 435.17,-102.61 435.57,-102.83 435.98,-105.61 436.39,-110.1 436.79,-108.84 437.2,-105.64 437.61,-109.48 438.01,-104.64 438.42,-109.71 438.83,-106.52 439.23,-109.36 439.64,-109.32 440.05,-107.63 440.46,-109.49 440.86,-106.69 441.27,-109.41 441.68,-112.45 442.08,-119.78 442.08,-122.87 442.49,-110.6 442.9,-97.83 443.3,-93.01 443.71,-77.55 444.12,-70.88 444.52,-65.42 444.93,-54.11 445.34,-53.27 445.75,-45.37 446.15,-34.94 446.56,-28.66 446.97,-20.82 447.37,-14.82 447.78,-13.54 448.19,-8.63 448.59,-2.89 449,2.16 449.41,8.65 449.82,10.79 450.22,19.11 450.63,19.53 451.04,19.83 451.44,23.74 451.85,31.29 452.26,34.22 452.66,33.37 453.07,35.54 453.48,46.36 453.88,47.05 454.29,48.58 454.7,49.14 455.11,56.5 455.51,55.4 455.92,59.81 456.33,55.76 456.73,62.48 457.14,65.96 457.55,68.53 457.95,67.33 458.36,70.17 458.77,76.14 459.18,74.86 459.58,80.18 459.99,80.49 460.4,83.41 460.8,85.1 461.21,85.11 461.62,87.1 462.02,84.71 462.43,85.11 462.84,88.56 463.24,91.73 463.65,88.47 464.06,96.33 464.47,97.34 464.87,92.31 465.28,93.61 465.69,94.06 466.09,98.12 466.5,101.92" stroke="#f50505"/>
<polyline points="320,236.83 320.41,236.2 320.81,238.53 321.22,239.09 321.63,238.11 322.03,235.55 322.44,238.48 322.85,237.87 323.26,238.28 323.66,240.08 324.07,233.65 324.48,242 324.88,238.25 325.29,235.55 325.7,239.8 326.1,235.26 326.51,233.69 326.92,238.26 327.32,235.95 327.73,239.04 328.14,235.74 328.55,236.93 328.95,236.85 329.36,234.39 329.77,236.37 330.17,234.38 330.58,235.88 330.99,239.84 331.39,236.47 331.8,235.75 332.21,239.74 332.62,233.3 333.02,235.82 333.43,234.92 333.84,237.52 334.24,235.2 334.65,234.5 335.06,235.71 335.46,234.71 335.87,239.59 336.28,232.09 336.68,237.87 337.09,240.65 337.5,238.45 337.91,238.62 338.31,235.89 338.72,239.22 339.13,236.5 339.53,239.05 339.94,231.81 340.35,235.25 340.75,231.98 341.16,238.47 341.57,234.78 341.98,238.36 342.38,234.9 342.79,234.53 343.2,239.39 343.6,238.33 344.01,238.51 344.42,239.48 344.82,237.98 344.91,238.54 345.23,231.48 345.64,218.68 346.04,209.17 346.45,205.67 346.86,197.25 347.27,189.98 347.67,185.03 348.08,181 348.49,172.96 348.89,168.52 349.3,164.88 349.71,163.15 350.11,154.88 350.52,152.19 350.93,153.84 351.33,150.31 351.74,144.67 352.15,146.48 352.56,141.4 352.96,139.92 353.37,139.53 353.78,136.73 354.18,138.2 354.59,134.63 355,136.59 355.4,125.84 355.81,126.15 356.22,125.31 356.62,125.94 357.03,123.05 357.44,121.17 357.85,120.53 358.25,119.61 358.66,122.58 359.07,118.63 359.47,119.76 359.88,120.12 360.29,118.91 360.69,114.31 361.1,111.91 361.51,116.39 361.92,108.79 362.32,108.7 362.73,112.04 363.14,111.4 363.54,109.67 363.95,106.48 364.36,108.66 364.76,109.47 365.17,105.5 365.58,110.01 365.98,104.28 366.39,101.1 366.8,102.02 367.21,100.01 367.61,99.71 368.02,98.34 368.43,98.88 368.83,100.42 369.24,98.57 369.65,97.77 370.05,94.38 370.46,93.08 370.87,95.23 371.27,97.31 371.68,96.77 372.09,95.1 372.5,91.15 372.9,92.95 373.31,93.21 373.72,94.09 374.12,89.72 374.53,90.27 374.94,90.25 375.34,89.11 375.75,84.79 376.16,88.02 376.57,83.14 376.97,83.42 377.38,85.42 377.79,83.01 378.19,84.69 378.6,85.7 379.01,83.91 379.41,84.73 379.82,80.97 380.23,81.43 380.63,79.66 381.04,78.7 381.45,87.16 381.86,79.43 382.26,83.91 382.67,79.31 383.08,81.25 383.48,78.62 383.89,75.31 384.3,81.54 384.7,76.84 385.11,77 385.52,80.64 385.93,74.71 386.33,75.71 386.74,76.48 387.15,76.44 387.55,67.15 387.96,74.41 388.37,76.81 388.77,74.25 389.18,72.46 389.59,72.06 389.99,71 390.4,72.72 390.81,68.72 391.22,70.39 391.62,71.65 392.03,69.71 392.44,67.99 392.84,64.5 393.25,64.6 393.66,65.8 394.06,64.53 394.47,63.71 394.88,59.37 395.28,64.93 395.69,62.23 396.1,61.35 396.51,64.78 396.91,62.06 397.32,62.03 397.73,63.43 398.13,61.2 398.54,60.25 398.95,60.03 399.35,62.84 399.76,61.71 400.17,56.44 400.57,63.35 400.98,59.61 401.39,57.35 401.8,58.38 402.2,56.95 402.61,57.98 403.02,56.82 403.42,55.79 403.83,59.1 404.24,57.97 404.64,58.14 405.05,58.4 405.46,57.04 405.87,59.06 406.27,54.62 406.68,52.3 407.09,52.08 407.49,52.71 407.9,57.19 408.31,51.16 408.71,55.53 409.12,53.58 409.53,49.02 409.93,55.17 410.34,50.71 410.75,51.71 411.16,52.43 411.56,53.77 411.97,50.63 412.38,52.3 412.78,48.7 413.19,48.06 413.6,53.62 414,51.56 414.41,51.07 414.82,52.94 415.23,52.8 415.63,50.15 416.04,50.77 416.45,53.82 416.85,51.11 417.26,48.47 417.67,52.02 418.07,51.27 418.48,45.76 418.89,46.48 419.29,53.09 419.7,52.52 420.11,48.55 420.52,51.65 420.92,49.02 421.33,48.76 421.74,45.77 422.14,51.86 422.55,50.51 422.96,47.84 423.36,42.47 423.77,44.7 424.18,47.83 424.58,42.73 424.99,42.06 425.4,44.04 425.81,44.16 426.21,42.45 426.62,40.76 427.03,43.1 427.43,42.26 427.84,43.49 428.25,44.11 428.65,45.09 429.06,42.26 429.47,43.22 429.88,42.84 430.28,40 430.69,40.68 431.1,39.45 431.5,44.37 431.91,39.12 432.32,41.15 432.72,41.21 433.13,40.97 433.54,36.15 433.94,36.74 434.35,39.88 434.76,40.55 435.17,37.85 435.57,38.84 435.98,34.24 436.39,41.26 436.79,42.21 437.2,38.8 437.61,38.18 438.01,37.83 438.42,36.37 438.83,33.41 439.23,38.75 439.64,39.26 440.05,42.04 440.46,37.71 440.86,36.4 441.27,38.75 441.68,35.27 442.08,37.31 442.08,28.04 442.49,38.47 442.9,48.81 443.3,54.76 443.71,63.28 444.12,69.97 444.52,71.46 444.93,75.7 445.34,78.51 445.75,87.79 446.15,92.67 446.56,98.7 446.97,97.8 447.37,102.45 447.78,107.6 448.19,107.45 448.59,110.22 449,117.99 449.41,114.63 449.82,118.42 450.22,122.05 450.63,124.49 451.04,121.87 451.44,124.14 451.85,124.9 452.26,132.51 452.66,132.22 453.07,129.45 453.48,134.72 453.88,134.28 454.29,137.39 454.7,130.2 455.11,133.04 455.51,135.71 455.92,137.74 456.33,140.69 456.73,142.11 457.14,141.14 457.55,145.09 457.95,141.64 458.36,146.16 458.77,147.74 459.18,143.76 459.58,147.83 459.99,147.21 460.4,150.25 460.8,155.11 461.21,149.55 461.62,154.08 462.02,148.83 462.43,154.62 462.84,155.38 463.24,150.92 463.65,151.36 464.06,153.07 464.47,157.12 464.87,153.55 465.28,159.59 465.69,157.96 466.09,159.04 466.5,158.42" stroke="#dc7203"/>
<polyline points="320,236.06 320.41,234.05 320.81,238.3 321.22,241.16 321.63,238.88 322.03,238.75 322.44,234.41 322.85,232.23 323.26,239.47 323.66,238.44 324.07,238.11 324.48,239.16 324.88,242.24 325.29,239.24 325.7,238.94 326.1,238.99 326.51,243.13 326.92,239.78 327.32,243.71 327.73,236.11 328.14,241.07 328.55,238.9 328.95,239.23 329.36,239.29 329.77,240.03 330.17,241.17 330.58,230.86 330.99,234.22 331.39,233.9 331.8,229.02 332.21,235.34 332.62,234.03 333.02,235.89 333.43,233.02 333.84,235.04 334.24,235.63 334.65,237.23 335.06,235.88 335.46,233.64 335.87,242.65 336.28,237.66 336.68,238.69 337.09,238.54 337.5,243.11 337.91,235.68 338.31,239.77 338.72,237.89 339.13,238.44 339.53,241.43 339.94,237.99 340.35,241.71 340.75,239.31 341.16,237.75 341.57,237.11 341.98,237.08 342.38,237.57 342.79,231.19 343.2,235.53 343.6,239.9 344.01,238.47 344.42,239.2 344.82,238.76 344.91,240.79 345.23,239.2 345.64,229.81 346.04,231.85 346.45,230.76 346.86,228.56 347.27,226.6 347.67,220.51 348.08,221.46 348.49,218.45 348.89,229.04 349.3,219.18 349.71,216.99 350.11,214.56 350.52,219.99 350.93,224.88 351.33,218.66 351.74,221.73 352.15,224.66 352.56,221.06 352.96,215.98 353.37,214.91 353.78,215.41 354.18,219.37 354.59,208.99 355,218.52 355.4,215.41 355.81,219.26 356.22,212.13 356.62,214.96 357.03,214.29 357.44,216.98 357.85,217.87 358.25,217.52 358.66,223.16 359.07,215.08 359.47,214.65 359.88,217.22 360.29,215.08 360.69,213.22 361.1,209.08 361.51,211.85 361.92,212.9 362.32,214.53 362.73,217.38 363.14,215.07 363.54,213.46 363.95,214.6 364.36,214.05 364.76,212.57 365.17,213.65 365.58,214.14 365.98,212.92 366.39,213.82 366.8,213.94 367.21,212.16 367.61,217.82 368.02,209.64 368.43,216.61 368.83,211.03 369.24,213.47 369.65,210.66 370.05,213.62 370.46,216.18 370.87,210.48 371.27,212.53 371.68,212.29 372.09,211.97 372.5,209.08 372.9,209.25 373.31,210.59 373.72,215.29 374.12,212.16 374.53,210.83 374.94,206.29 375.34,210.05 375.75,211.14 376.16,207.33 376.57,210.48 376.97,209.86 377.38,209.05 377.79,213.36 378.19,206.68 378.6,208.15 379.01,210.06 379.41,212.25 379.82,208.34 380.23,204.88 380.63,210.26 381.04,211.4 381.45,207.52 381.86,213.18 382.26,215.07 382.67,210.37 383.08,211.05 383.48,209.89 383.89,210.61 384.3,208.28 384.7,209.9 385.11,211.08 385.52,210.8 385.93,207.83 386.33,206.67 386.74,206.22 387.15,205.88 387.55,215.66 387.96,208.49 388.37,206 388.77,204.38 389.18,209.46 389.59,201.58 389.99,204.99 390.4,207.8 390.81,205.89 391.22,207.42 391.62,208.61 392.03,205.17 392.44,207.67 392.84,210.14 393.25,207.99 393.66,206.69 394.06,209.53 394.47,203.37 394.88,209.67 395.28,201.56 395.69,203.26 396.1,207.63 396.51,204.42 396.91,201.67 397.32,205.76 397.73,208.89 398.13,205.61 398.54,200.57 398.95,209.95 399.35,204.37 399.76,205.85 400.17,206.19 400.57,206.88 400.98,206.63 401.39,202.97 401.8,204.25 402.2,208.72 402.61,201.94 403.02,209.77 403.42,204.46 403.83,205.62 404.24,202.58 404.64,204.43 405.05,202.05 405.46,204.59 405.87,201.71 406.27,203.48 406.68,198.79 407.09,206.62 407.49,201.37 407.9,202.94 408.31,203.22 408.71,204.84 409.12,201.96 409.53,207.25 409.93,207.15 410.34,201.69 410.75,207.91 411.16,199.71 411.56,204.02 411.97,202.1 412.38,202.01 412.78,200.59 413.19,202.17 413.6,202.26 414,201.57 414.41,198.45 414.82,198.36 415.23,198.19 415.63,200.88 416.04,202.61 416.45,206.72 416.85,200.38 417.26,199.7 417.67,202.96 418.07,199.74 418.48,198.72 418.89,202.39 419.29,200.21 419.7,202.5 420.11,208.03 420.52,204.39 420.92,203.86 421.33,200.9 421.74,204.25 422.14,202.66 422.55,203.65 422.96,200.76 423.36,200.15 423.77,197.44 424.18,197.64 424.58,198.99 424.99,198.3 425.4,198.16 425.81,197.76 426.21,193.76 426.62,204.88 427.03,199.07 427.43,198.27 427.84,196.51 428.25,202.84 428.65,199.14 429.06,197.87 429.47,201.48 429.88,205.39 430.28,200.98 430.69,202.93 431.1,197.59 431.5,201.49 431.91,194.4 432.32,199.06 432.72,201.93 433.13,201.39 433.54,203.17 433.94,199.28 434.35,196.4 434.76,201.09 435.17,197.97 435.57,202.91 435.98,199.36 436.39,193.8 436.79,203.79 437.2,196.64 437.61,196.84 438.01,205.16 438.42,203.97 438.83,202.71 439.23,197.37 439.64,201.04 440.05,200.19 440.46,197.69 440.86,199.18 441.27,198.73 441.68,199.95 442.08,195.63 442.08,200.11 442.49,194.21 442.9,200.46 443.3,202.59 443.71,199.61 444.12,201.06 444.52,208.54 444.93,203.45 445.34,208.64 445.75,208.21 446.15,204.84 446.56,210.27 446.97,207.83 447.37,210.63 447.78,205.16 448.19,211.51 448.59,215.29 449,215.88 449.41,215.94 449.82,213.49 450.22,213.98 450.63,211.35 451.04,213.51 451.44,213.68 451.85,213.4 452.26,215.08 452.66,214.58 453.07,214 453.48,214.73 453.88,218.92 454.29,222.61 454.7,220.24 455.11,217.49 455.51,225.29 455.92,220.25 456.33,218.19 456.73,221.28 457.14,222.96 457.55,215.26 457.95,216.34 458.36,221 458.77,217.02 459.18,217.39 459.58,224.15 459.99,213.85 460.4,223.62 460.8,221.86 461.21,224.43 461.62,221.87 462.02,226.44 462.43,223.66 462.84,221.24 463.24,223.79 463.65,224.99 464.06,219.85 464.47,226.28 464.87,221.23 465.28,224.89 465.69,223.84 466.09,224.68 466.5,224.61" stroke="#ffc800"/>
<polyline points="320,238.58 320.41,232.78 320.81,240.56 321.22,237.52 321.63,239.95 322.03,236.07 322.44,236.75 322.85,238.26 323.26,242.15 323.66,238.57 324.07,233.94 324.48,237.92 324.88,235.8 325.29,238.98 325.7,242.76 326.1,236.49 326.51,236.43 326.92,238.36 327.32,237.27 327.73,234.99 328.14,236.85 328.55,233.85 328.95,234.88 329.36,240.36 329.77,234.45 330.17,236.02 330.58,237.26 330.99,234.63 331.39,237.64 331.8,235.37 332.21,234.23 332.62,236.99 333.02,241.65 333.43,239.5 333.84,235.06 334.24,238.1 334.65,239.45 335.06,237.46 335.46,235.92 335.87,236.72 336.28,235.86 336.68,239.9 337.09,238.36 337.5,238.08 337.91,237.15 338.31,242.41 338.72,237.24 339.13,240.11 339.53,232.82 339.94,232.51 340.35,232.41 340.75,234.98 341.16,238.59 341.57,234.69 341.98,237.67 342.38,235.38 342.79,239.41 343.2,238.59 343.6,235.73 344.01,232.1 344.42,236.67 344.82,230.24 344.91,228.49 345.23,238.73 345.64,234.7 346.04,236.62 346.45,234.18 346.86,235.4 347.27,234.67 347.67,232.57 348.08,233.2 348.49,235.33 348.89,236.02 349.3,235.4 349.71,234.85 350.11,232.97 350.52,233.75 350.93,231.69 351.33,235.89 351.74,229.77 352.15,226.93 352.56,231.02 352.96,235.33 353.37,227.96 353.78,232.4 354.18,239.35 354.59,231.69 355,229.34 355.4,230.03 355.81,228.08 356.22,230.21 356.62,231.91 357.03,237.65 357.44,235.19 357.85,231.39 358.25,229.68 358.66,233.95 359.07,232.67 359.47,229.78 359.88,236.39 360.29,236.94 360.69,232.96 361.1,232.37 361.51,234.97 361.92,240.27 362.32,234.21 362.73,237.69 363.14,232.06 363.54,233.77 363.95,232.63 364.36,231.64 364.76,234.92 365.17,231.41 365.58,230.28 365.98,232.31 366.39,229.35 366.8,233.98 367.21,229.15 367.61,230.19 368.02,232.9 368.43,229.93 368.83,230.78 369.24,230.69 369.65,229.08 370.05,226.8 370.46,230.98 370.87,230.25 371.27,234.8 371.68,230.58 372.09,227.48 372.5,227.94 372.9,228.43 373.31,230.95 373.72,232.31 374.12,230.34 374.53,234.11 374.94,234.12 375.34,228.32 375.75,233.07 376.16,225.33 376.57,233.39 376.97,227.84 377.38,231.81 377.79,228.3 378.19,232.14 378.6,230.16 379.01,231.68 379.41,233.25 379.82,231.08 380.23,228.49 380.63,233.93 381.04,229.61 381.45,231.29 381.86,231.09 382.26,224.63 382.67,235.9 383.08,231.59 383.48,234.47 383.89,230.47 384.3,230.39 384.7,219.71 385.11,229.09 385.52,225.19 385.93,226.44 386.33,231.05 386.74,228.6 387.15,225.52 387.55,229.74 387.96,229.96 388.37,229.54 388.77,235.29 389.18,233.7 389.59,230.75 389.99,230.21 390.4,234.14 390.81,232.6 391.22,232.2 391.62,232.52 392.03,230.58 392.44,232.49 392.84,232.58 393.25,236.86 393.66,235.57 394.06,231.16 394.47,235.29 394.88,229.12 395.28,230.52 395.69,230.05 396.1,225.61 396.51,229.04 396.91,229.72 397.32,229.6 397.73,228.08 398.13,221.3 398.54,234.82 398.95,229.61 399.35,230.59 399.76,227.66 400.17,231.32 400.57,236.9 400.98,226.49 401.39,232.71 401.8,229.68 402.2,233.04 402.61,232.27 403.02,230.71 403.42,227.08 403.83,227.05 404.24,230.79 404.64,227.69 405.05,229.93 405.46,228.51 405.87,228.23 406.27,226.82 406.68,230.13 407.09,229.04 407.49,228.48 407.9,229.2 408.31,231.8 408.71,225.02 409.12,230.78 409.53,227.45 409.93,229.07 410.34,226.65 410.75,236.18 411.16,225.02 411.56,231.13 411.97,233.65 412.38,229.6 412.78,223.44 413.19,227.8 413.6,232.27 414,230.14 414.41,225.3 414.82,232.67 415.23,229.33 415.63,229.58 416.04,222.88 416.45,229.41 416.85,224.93 417.26,230.03 417.67,230.06 418.07,224.9 418.48,225.77 418.89,232.14 419.29,226.04 419.7,226.51 420.11,230.47 420.52,228.81 420.92,229.19 421.33,231.57 421.74,232.02 422.14,232.22 422.55,230.9 422.96,233.31 423.36,229.31 423.77,232.74 424.18,228.29 424.58,228.84 424.99,231.81 425.4,227.25 425.81,224.74 426.21,226.54 426.62,233.64 427.03,226.14 427.43,228.43 427.84,228.6 428.25,229.65 428.65,227.93 429.06,224.36 429.47,227.06 429.88,230.16 430.28,231.3 430.69,230.89 431.1,228.26 431.5,224.74 431.91,232.47 432.32,229.51 432.72,230.46 433.13,231.42 433.54,228.35 433.94,228.02 434.35,233.45 434.76,232.53 435.17,226.53 435.57,228.76 435.98,228.02 436.39,230.63 436.79,230.3 437.2,228.11 437.61,230.69 438.01,232.18 438.42,228.85 438.83,226.01 439.23,230.95 439.64,225.37 440.05,226.63 440.46,231.34 440.86,229.56 441.27,230.17 441.68,228.7 442.08,228.84 442.08,234.26 442.49,234.49 442.9,228.15 443.3,230.58 443.71,229.61 444.12,229.58 444.52,226.03 444.93,233.06 445.34,226.68 445.75,231.7 446.15,227.54 446.56,225.88 446.97,233.06 447.37,228.02 447.78,229.53 448.19,229.3 448.59,228.27 449,231.24 449.41,231.17 449.82,227.09 450.22,226.87 450.63,230.9 451.04,233.41 451.44,223.29 451.85,226.36 452.26,228.07 452.66,231.56 453.07,230.31 453.48,228.33 453.88,232.02 454.29,225.74 454.7,230.2 455.11,229.88 455.51,233.83 455.92,233.46 456.33,232.99 456.73,229.94 457.14,231.17 457.55,231.02 457.95,229.23 458.36,229.33 458.77,225.86 459.18,230.29 459.58,232.47 459.99,229.89 460.4,226.1 460.8,231.7 461.21,230.34 461.62,231.7 462.02,229.93 462.43,230.53 462.84,233.49 463.24,231.98 463.65,228.87 464.06,228.45 464.47,228.87 464.87,228.91 465.28,231.9 465.69,231.75 466.09,228.08 466.5,233.51" stroke="#008c32"/>
<polyline points="320,240.65 320.41,244.11 320.81,234.77 321.22,232.23 321.63,239.54 322.03,237.48 322.44,235 322.85,233.39 323.26,234.29 323.66,232.65 324.07,236.19 324.48,234.95 324.88,235.02 325.29,237.41 325.7,233.33 326.1,235.17 326.51,234.48 326.92,238.24 327.32,234.45 327.73,239.87 328.14,235.86 328.55,243.61 328.95,239.05 329.36,234.06 329.77,236.9 330.17,235.08 330.58,239.85 330.99,231.59 331.39,234.32 331.8,236.18 332.21,235.2 332.62,235.57 333.02,232.75 333.43,235.87 333.84,240.12 334.24,236.52 334.65,231.98 335.06,233.39 335.46,235.55 335.87,232.44 336.28,233.52 336.68,232.19 337.09,238.21 337.5,236.82 337.91,233.33 338.31,236.43 338.72,235.61 339.13,231.84 339.53,238.04 339.94,236.48 340.35,238.29 340.75,238.13 341.16,236.42 341.57,239.98 341.98,241.76 342.38,232.67 342.79,236.63 343.2,233.36 343.6,235.92 344.01,235.78 344.42,234.44 344.82,234.5 344.91,239.87 345.23,233.68 345.64,239.38 346.04,235.85 346.45,228.88 346.86,234.52 347.27,229.44 347.67,234.16 348.08,231.39 348.49,233.1 348.89,232.67 349.3,236.7 349.71,237.44 350.11,234.47 350.52,239.6 350.93,237.62 351.33,233.5 351.74,236.6 352.15,237.1 352.56,237.48 352.96,233.96 353.37,235.09 353.78,233.53 354.18,234.32 354.59,228.99 355,235.23 355.4,239.46 355.81,234.09 356.22,234.34 356.62,233.75 357.03,238.17 357.44,230.73 357.85,233.67 358.25,233.68 358.66,237.82 359.07,232.48 359.47,233.87 359.88,229.87 360.29,234.12 360.69,235.86 361.1,232.04 361.51,234.85 361.92,231.6 362.32,235.85 362.73,233.54 363.14,233.85 363.54,233.25 363.95,234.29 364.36,234.73 364.76,232.31 365.17,233.25 365.58,231 365.98,232.02 366.39,237.42 366.8,232.1 367.21,228.88 367.61,232.36 368.02,232.13 368.43,232.95 368.83,235.77 369.24,238.39 369.65,233.02 370.05,232.49 370.46,233.65 370.87,233.68 371.27,233.28 371.68,233.9 372.09,232.69 372.5,233.09 372.9,232.09 373.31,235.33 373.72,234.43 374.12,231.21 374.53,233.49 374.94,238.81 375.34,232 375.75,238.16 376.16,227.04 376.57,230.06 376.97,230.13 377.38,233.59 377.79,234.79 378.19,232.43 378.6,231.93 379.01,234.18 379.41,231.98 379.82,230.76 380.23,230.95 380.63,234.95 381.04,237.4 381.45,231.16 381.86,232.28 382.26,228.93 382.67,225.63 383.08,225.86 383.48,230.06 383.89,228.9 384.3,228.53 384.7,233.5 385.11,233.4 385.52,232.12 385.93,234.55 386.33,235.83 386.74,236.53 387.15,234.52 387.55,235.95 387.96,231.91 388.37,234.41 388.77,229.3 389.18,229.56 389.59,235.56 389.99,229.2 390.4,232.69 390.81,227.82 391.22,229.9 391.62,231.39 392.03,229.75 392.44,233.29 392.84,231.49 393.25,231.96 393.66,233.95 394.06,233 394.47,236.67 394.88,232.33 395.28,236.27 395.69,230.78 396.1,230.49 396.51,229.44 396.91,232.63 397.32,223.64 397.73,232.57 398.13,232.02 398.54,234.42 398.95,228.39 399.35,232.62 399.76,228.19 400.17,232.85 400.57,229.69 400.98,231.82 401.39,228.93 401.8,232.41 402.2,233.93 402.61,230.24 403.02,233.92 403.42,232.7 403.83,227.77 404.24,234.29 404.64,227.44 405.05,230.46 405.46,231.88 405.87,229.1 406.27,228.43 406.68,231.99 407.09,231.35 407.49,229.11 407.9,229.26 408.31,231.18 408.71,232.85 409.12,233.24 409.53,232.47 409.93,229.47 410.34,230.06 410.75,231.02 411.16,228.36 411.56,232.73 411.97,232.93 412.38,232.94 412.78,226.99 413.19,236.95 413.6,230.63 414,229.95 414.41,230.81 414.82,225.08 415.23,228.3 415.63,229.57 416.04,233.96 416.45,230.3 416.85,232.24 417.26,230.79 417.67,230.02 418.07,231.47 418.48,228.44 418.89,225.78 419.29,227.24 419.7,229.3 420.11,234.79 420.52,227.12 420.92,227.22 421.33,230.63 421.74,231.63 422.14,229.1 422.55,233.2 422.96,229.28 423.36,233.99 423.77,233.32 424.18,230.66 424.58,234.3 424.99,230.71 425.4,229.66 425.81,234.68 426.21,229.1 426.62,232.84 427.03,229.89 427.43,230.77 427.84,232.77 428.25,233.45 428.65,236.96 429.06,234.64 429.47,234.68 429.88,228.05 430.28,228.96 430.69,234.35 431.1,228.27 431.5,229.38 431.91,230.71 432.32,228.39 432.72,227.31 433.13,230.44 433.54,229.35 433.94,227.97 434.35,230.77 434.76,227.79 435.17,228.53 435.57,230.15 435.98,230.71 436.39,228.04 436.79,226.94 437.2,228.72 437.61,232.1 438.01,228.33 438.42,230.04 438.83,229.15 439.23,227.87 439.64,233.21 440.05,231.31 440.46,232.47 440.86,233.16 441.27,225.9 441.68,228.69 442.08,235.64 442.08,230.11 442.49,232.55 442.9,228.06 443.3,230.48 443.71,230.74 444.12,229.41 444.52,228.15 444.93,228.39 445.34,228.48 445.75,227.98 446.15,226.29 446.56,230.56 446.97,227.84 447.37,228.23 447.78,229.23 448.19,226.25 448.59,231.58 449,229.46 449.41,230.88 449.82,227.47 450.22,230.07 450.63,228.74 451.04,227.8 451.44,232.67 451.85,227.33 452.26,230.29 452.66,229.14 453.07,229.08 453.48,227.21 453.88,227.92 454.29,225.8 454.7,230.13 455.11,231.88 455.51,231.8 455.92,228.55 456.33,225.75 456.73,228.63 457.14,230.81 457.55,228.72 457.95,228.98 458.36,229.77 458.77,231.87 459.18,236.39 459.58,231.14 459.99,226.85 460.4,228.67 460.8,234.52 461.21,228.71 461.62,233.29 462.02,223.6 462.43,228.28 462.84,232.02 463.24,227.18 463.65,231.36 464.06,228.06 464.47,229.49 464.87,232.64 465.28,228.19 465.69,233.62 466.09,227.26 466.5,230.88" stroke="#12c2c2"/>
<polyline points="320,233.44 320.41,230.44 320.81,235.12 321.22,238.74 321.63,233.84 322.03,236.63 322.44,230.36 322.85,236.01 323.26,236.3 323.66,238.32 324.07,236.28 324.48,238.73 324.88,239.86 325.29,237.75 325.7,239.74 326.1,233.89 326.51,240.18 326.92,236.85 327.32,238.06 327.73,239.5 328.14,231.02 328.55,240.69 328.95,230.93 329.36,238.39 329.77,234.42 330.17,228.87 330.58,240.91 330.99,239.28 331.39,232.43 331.8,235.58 332.21,237.42 332.62,235.82 333.02,237.95 333.43,234.62 333.84,230.5 334.24,235.04 334.65,233.38 335.06,230.59 335.46,228.91 335.87,236.4 336.28,234.72 336.68,237.53 337.09,238.04 337.5,237.53 337.91,238.2 338.31,241.1 338.72,241.68 339.13,238.13 339.53,235.62 339.94,232.65 340.35,237.4 340.75,236.74 341.16,234.93 341.57,235.09 341.98,237.65 342.38,237.7 342.79,232.72 343.2,238.61 343.6,238.92 344.01,241.71 344.42,235.95 344.82,237.52 344.91,231.58 345.23,237.42 345.64,234.27 346.04,233.78 346.45,231.66 346.86,239.3 347.27,231.55 347.67,235.66 348.08,236.07 348.49,236.81 348.89,237.28 349.3,237.41 349.71,242.9 350.11,235.44 350.52,236.49 350.93,238.79 351.33,235.79 351.74,228.65 352.15,232.72 352.56,233.85 352.96,227.76 353.37,234.41 353.78,233.28 354.18,235.26 354.59,235.41 355,233.65 355.4,234.55 355.81,238.19 356.22,236.49 356.62,235.58 357.03,236.43 357.44,235.01 357.85,236.54 358.25,236.5 358.66,234.54 359.07,237.56 359.47,233.82 359.88,235.33 360.29,236.9 360.69,235.54 361.1,234.59 361.51,233.24 361.92,232.24 362.32,233.09 362.73,235.08 363.14,229.36 363.54,231.01 363.95,233.15 364.36,230.79 364.76,232.31 365.17,233.97 365.58,233.54 365.98,227.51 366.39,232.77 366.8,233.34 367.21,237.52 367.61,234.98 368.02,230.43 368.43,234.92 368.83,232.81 369.24,231.92 369.65,233.13 370.05,230.29 370.46,233.46 370.87,232.39 371.27,234.98 371.68,226.04 372.09,231.9 372.5,232.23 372.9,228.82 373.31,233.8 373.72,232.68 374.12,234.96 374.53,233.18 374.94,234.67 375.34,232.64 375.75,234.69 376.16,236.03 376.57,235.12 376.97,234.37 377.38,235.01 377.79,230.76 378.19,231.03 378.6,232.07 379.01,235.43 379.41,231.07 379.82,236.14 380.23,232.85 380.63,233.85 381.04,236.18 381.45,237.42 381.86,237.5 382.26,230.46 382.67,236.36 383.08,235.78 383.48,232.23 383.89,233.25 384.3,231.41 384.7,237.46 385.11,237.34 385.52,226.13 385.93,235.33 386.33,236.31 386.74,235.33 387.15,233.18 387.55,238.71 387.96,234.52 388.37,234.92 388.77,232.7 389.18,233.76 389.59,235.48 389.99,236.24 390.4,240.09 390.81,230.72 391.22,236.56 391.62,233.33 392.03,227.76 392.44,233.32 392.84,230.95 393.25,233.43 393.66,231.29 394.06,233.19 394.47,234.74 394.88,230.14 395.28,234.76 395.69,238 396.1,235.69 396.51,233.53 396.91,237.74 397.32,232.59 397.73,232.43 398.13,228.68 398.54,235.68 398.95,232.1 399.35,238.07 399.76,234.83 400.17,233.59 400.57,232.96 400.98,234.28 401.39,234.37 401.8,235.6 402.2,235 402.61,232.9 403.02,232.2 403.42,232.04 403.83,231.24 404.24,230.92 404.64,238.94 405.05,235.95 405.46,235.46 405.87,237.26 406.27,233.37 406.68,234.47 407.09,236.68 407.49,235.66 407.9,231.89 408.31,235.08 408.71,234.01 409.12,230.04 409.53,230.64 409.93,227.81 410.34,230.21 410.75,228.78 411.16,231.59 411.56,232.11 411.97,229.42 412.38,236.37 412.78,228.78 413.19,227.82 413.6,230.67 414,231.95 414.41,229.09 414.82,232.62 415.23,230.65 415.63,228.2 416.04,232.59 416.45,232.4 416.85,233.67 417.26,234.25 417.67,234.1 418.07,234.62 418.48,232.07 418.89,239.21 419.29,235.82 419.7,233.41 420.11,237.14 420.52,234.93 420.92,236.11 421.33,232.84 421.74,231.52 422.14,229.98 422.55,232.68 422.96,236.28 423.36,234.3 423.77,233.91 424.18,231.94 424.58,241.05 424.99,234.12 425.4,239.14 425.81,231.71 426.21,231.52 426.62,230.61 427.03,229.12 427.43,230.28 427.84,233.13 428.25,230.93 428.65,229.2 429.06,233.08 429.47,233.2 429.88,236.95 430.28,231.34 430.69,236.06 431.1,236.82 431.5,235.82 431.91,236.28 432.32,233.85 432.72,229.06 433.13,229.67 433.54,227.7 433.94,227.47 434.35,233.72 434.76,230.31 435.17,227.81 435.57,225.82 435.98,235.47 436.39,235.61 436.79,230.95 437.2,233.37 437.61,235.39 438.01,232.04 438.42,235.18 438.83,239.19 439.23,233.75 439.64,233.93 440.05,233.22 440.46,232.94 440.86,235.18 441.27,236.34 441.68,237.42 442.08,239.85 442.08,236.5 442.49,232.43 442.9,232.78 443.3,228.5 443.71,233.55 444.12,237.21 444.52,230 444.93,229.09 445.34,234.45 445.75,235.29 446.15,230.48 446.56,228.92 446.97,233.74 447.37,232.07 447.78,233.77 448.19,235.5 448.59,236.5 449,233.21 449.41,234.78 449.82,235.65 450.22,240.72 450.63,229.54 451.04,236.63 451.44,234.63 451.85,237.22 452.26,233.21 452.66,237.99 453.07,233.86 453.48,234.78 453.88,232.27 454.29,237.88 454.7,237.02 455.11,236.07 455.51,230.01 455.92,239.2 456.33,234.71 456.73,237.42 457.14,235.31 457.55,234.85 457.95,236.5 458.36,236.27 458.77,235.99 459.18,237.71 459.58,236.11 459.99,239.28 460.4,235.59 460.8,236.55 461.21,235.24 461.62,232.71 462.02,233.65 462.43,233.47 462.84,232 463.24,241.32 463.65,234.46 464.06,236.06 464.47,236.57 464.87,239.83 465.28,235 465.69,233.31 466.09,233.4 466.5,236.01" stroke="#0404e6"/>
<path d="M344.07 159V249.3M442.08 159V249.3" stroke="#000" stroke-width="1.8"/>
</g>
<text x="320" y="261.6" text-anchor="middle" font-size="11">0</text>
<text x="360.69" y="261.6" text-anchor="middle" font-size="11">50</text>
<text x="401.39" y="261.6" text-anchor="middle" font-size="11">100</text>
<text x="442.08" y="261.6" text-anchor="middle" font-size="11">150</text>
<text x="317.5" y="254.46" text-anchor="end" font-size="11">-0.2</text>
<text x="317.5" y="241.56" text-anchor="end" font-size="11">0</text>
<text x="317.5" y="228.66" text-anchor="end" font-size="11">0.2</text>
<text x="317.5" y="215.76" text-anchor="end" font-size="11">0.4</text>
<text x="317.5" y="202.86" text-anchor="end" font-size="11">0.6</text>
<text x="317.5" y="189.96" text-anchor="end" font-size="11">0.8</text>
<text x="317.5" y="177.06" text-anchor="end" font-size="11">1</text>
<text x="317.5" y="164.16" text-anchor="end" font-size="11">1.2</text>
<text x="393.25" y="274.1" text-anchor="middle" font-size="11.4">Time [s]</text>
<clipPath id="clipcR"><rect x="319.4" y="319.6" width="147.7" height="91.7"/></clipPath>
<path d="M320 410.5V320.4H466.5V410.5" fill="#fff" stroke="#a6a6a6" stroke-width="1.3"/>
<path d="M320 411H466.5" stroke="#a4a4d8" stroke-width="1"/>
<path d="M320 410.5v-2.2M320 320.4v2.2M360.69 410.5v-2.2M360.69 320.4v2.2M401.39 410.5v-2.2M401.39 320.4v2.2M442.08 410.5v-2.2M442.08 320.4v2.2M320 410.5h2.2M466.5 410.5h-2.2M320 397.63h2.2M466.5 397.63h-2.2M320 384.76h2.2M466.5 384.76h-2.2M320 371.89h2.2M466.5 371.89h-2.2M320 359.01h2.2M466.5 359.01h-2.2M320 346.14h2.2M466.5 346.14h-2.2M320 333.27h2.2M466.5 333.27h-2.2M320 320.4h2.2M466.5 320.4h-2.2" stroke="#555" stroke-width="1" fill="none"/>
<g clip-path="url(#clipcR)" fill="none" stroke-width="1.9" stroke-linejoin="round">
<polyline points="320,398.28 320.41,401.79 320.81,399.01 321.22,395.71 321.63,395.24 322.03,394.59 322.44,397.63 322.85,397.02 323.26,396.63 323.66,395.71 324.07,398.08 324.48,394.68 324.88,396.56 325.29,394.72 325.7,396.31 326.1,395.89 326.51,399.21 326.92,398.55 327.32,400.62 327.73,398.31 328.14,398.02 328.55,395.7 328.95,400.63 329.36,390.38 329.77,398.35 330.17,395.34 330.58,396.02 330.99,404.39 331.39,399.21 331.8,395.14 332.21,404.01 332.62,396.39 333.02,400.06 333.43,398.86 333.84,397.23 334.24,402.16 334.65,397.52 335.06,399.53 335.46,399.71 335.87,396.16 336.28,389.45 336.68,396.65 337.09,396.17 337.5,397.71 337.91,399.51 338.31,397.52 338.72,394.86 339.13,398.15 339.53,396.67 339.94,399.34 340.35,393.03 340.75,402.73 341.16,397.6 341.57,397.77 341.98,398.48 342.38,401.72 342.79,401.74 343.2,399.51 343.6,398.51 344.01,401.29 344.42,400.72 344.82,396.75 344.91,395.48 345.23,385.98 345.64,370.75 346.04,356.2 346.45,335.1 346.86,327.04 347.27,316.69 347.67,303.55 348.08,290.76 348.49,284.25 348.89,281.7 349.3,270.46 349.71,263.49 350.11,256.09 350.52,251.36 350.93,243.2 351.33,239.03 351.74,230.33 352.15,225.9 352.56,224.4 352.96,220.4 353.37,213.09 353.78,206.23 354.18,202.54 354.59,199.93 355,203.64 355.4,193.44 355.81,190.51 356.22,186.27 356.62,185.22 357.03,180.48 357.44,178.28 357.85,167.9 358.25,170.25 358.66,170.19 359.07,167.83 359.47,166.03 359.88,163.38 360.29,162.83 360.69,160.03 361.1,155.75 361.51,154.4 361.92,153.85 362.32,149.74 362.73,150.61 363.14,151.75 363.54,151.94 363.95,147.97 364.36,145.03 364.76,142.49 365.17,139.47 365.58,141.93 365.98,141.19 366.39,136.33 366.8,134.18 367.21,136.7 367.61,133.33 368.02,129.36 368.43,130.3 368.83,129.81 369.24,133.34 369.65,124.36 370.05,124.87 370.46,124.97 370.87,125.21 371.27,125.94 371.68,122.28 372.09,121.42 372.5,117.85 372.9,122.51 373.31,115.68 373.72,118.26 374.12,114.84 374.53,118.99 374.94,114.97 375.34,111.91 375.75,113.44 376.16,116.14 376.57,112.59 376.97,109.73 377.38,113.41 377.79,112.7 378.19,107.93 378.6,109.75 379.01,105 379.41,108.38 379.82,109.08 380.23,105.92 380.63,100.05 381.04,104.96 381.45,102.36 381.86,101.02 382.26,102.88 382.67,97.11 383.08,98.15 383.48,96.5 383.89,100.47 384.3,99.71 384.7,101.13 385.11,94.25 385.52,93.44 385.93,90.4 386.33,87.94 386.74,91.46 387.15,91.12 387.55,89.16 387.96,86.3 388.37,91.24 388.77,87.15 389.18,88.3 389.59,87.58 389.99,84.03 390.4,86.96 390.81,86.86 391.22,82.15 391.62,83.11 392.03,83.13 392.44,82.39 392.84,80.55 393.25,82.13 393.66,78.92 394.06,78.93 394.47,75.43 394.88,74.75 395.28,74.51 395.69,75.89 396.1,74.27 396.51,75.27 396.91,66.8 397.32,73.52 397.73,71.3 398.13,68.92 398.54,74.6 398.95,72.61 399.35,70.84 399.76,71.49 400.17,71.49 400.57,69.18 400.98,64.45 401.39,65.17 401.8,66.05 402.2,65.21 402.61,68.12 403.02,61.57 403.42,61.08 403.83,63.54 404.24,59.67 404.64,59.91 405.05,60.2 405.46,61.04 405.87,60.22 406.27,60.82 406.68,57.51 407.09,57.55 407.49,57.32 407.9,58.06 408.31,58.09 408.71,51.91 409.12,60.46 409.53,52.87 409.93,54.34 410.34,54.53 410.75,55.44 411.16,54.37 411.56,56.23 411.97,56.28 412.38,52.89 412.78,56.01 413.19,49.77 413.6,48.67 414,58.71 414.41,53.71 414.82,48.74 415.23,48.05 415.63,47.48 416.04,46.03 416.45,44.65 416.85,43.79 417.26,41.05 417.67,44.49 418.07,41.87 418.48,46.96 418.89,42.89 419.29,44.89 419.7,38.41 420.11,35.88 420.52,39.74 420.92,43.74 421.33,40.72 421.74,40.09 422.14,39.35 422.55,36.92 422.96,36.84 423.36,44.82 423.77,35.14 424.18,39.03 424.58,38.65 424.99,33.43 425.4,36.62 425.81,38.5 426.21,37.83 426.62,34.2 427.03,31.91 427.43,30.26 427.84,33.85 428.25,34.22 428.65,29.04 429.06,33.53 429.47,28.79 429.88,31.34 430.28,31.05 430.69,31.83 431.1,30.25 431.5,31.64 431.91,31.79 432.32,30.23 432.72,31.16 433.13,28.64 433.54,28.7 433.94,28.84 434.35,27.82 434.76,26.93 435.17,21.48 435.57,24.83 435.98,25.69 436.39,24.64 436.79,22.12 437.2,23.85 437.61,23.53 438.01,23.68 438.42,22.69 438.83,22.11 439.23,21.8 439.64,26.24 440.05,24.4 440.46,27.4 440.86,18.8 441.27,17.44 441.68,16.34 442.08,18.4 442.08,20.19 442.49,34.42 442.9,45.65 443.3,59.56 443.71,68.02 444.12,77.39 444.52,83.26 444.93,90.42 445.34,103.68 445.75,109.51 446.15,117.03 446.56,126.37 446.97,135.18 447.37,139.3 447.78,147 448.19,150.24 448.59,155.35 449,160.6 449.41,165.38 449.82,168.39 450.22,175.99 450.63,175.95 451.04,185.92 451.44,185.78 451.85,188.71 452.26,194.99 452.66,200.33 453.07,198.65 453.48,205.19 453.88,205.3 454.29,208.69 454.7,213.61 455.11,216.4 455.51,216.57 455.92,220.14 456.33,225.12 456.73,224.44 457.14,225.33 457.55,227.88 457.95,229.59 458.36,232 458.77,233.52 459.18,236.96 459.58,239.59 459.99,235.07 460.4,240.44 460.8,239.72 461.21,244.97 461.62,242.45 462.02,246.05 462.43,238.58 462.84,248.99 463.24,249.98 463.65,246.57 464.06,246.98 464.47,255.15 464.87,250.26 465.28,249.31 465.69,254.66 466.09,250.85 466.5,254.33" stroke="#f50505"/>
<polyline points="320,403 320.41,398.83 320.81,402.24 321.22,400.64 321.63,395.29 322.03,396.19 322.44,398.81 322.85,398.72 323.26,397.28 323.66,400.5 324.07,395.13 324.48,396.59 324.88,391.72 325.29,398.3 325.7,394.24 326.1,398.46 326.51,395.22 326.92,399.95 327.32,396.42 327.73,399.1 328.14,399.97 328.55,398.44 328.95,396.95 329.36,396.95 329.77,394.2 330.17,395.65 330.58,403.02 330.99,397.95 331.39,401.37 331.8,397.92 332.21,395.9 332.62,400.41 333.02,400.21 333.43,397.33 333.84,398.24 334.24,394.12 334.65,396.95 335.06,396.66 335.46,394.25 335.87,399.45 336.28,398.51 336.68,400.65 337.09,397.62 337.5,395.41 337.91,394.1 338.31,396.64 338.72,397.76 339.13,397.75 339.53,399.21 339.94,396.14 340.35,393.71 340.75,402.13 341.16,401.79 341.57,393.9 341.98,400.4 342.38,396.07 342.79,399.58 343.2,395.19 343.6,395.31 344.01,396.73 344.42,395.28 344.82,396.9 344.91,395.67 345.23,383.21 345.64,373.79 346.04,367.76 346.45,359.18 346.86,349.87 347.27,342.45 347.67,334.99 348.08,330.23 348.49,321.79 348.89,317.97 349.3,312.48 349.71,308.71 350.11,302.95 350.52,302.61 350.93,292.34 351.33,291.18 351.74,287.47 352.15,284.03 352.56,280.24 352.96,278.47 353.37,277.16 353.78,275.75 354.18,276.72 354.59,270.47 355,269.55 355.4,267.51 355.81,259.53 356.22,266.98 356.62,261.04 357.03,257.07 357.44,256.53 357.85,255.11 358.25,259.97 358.66,258.65 359.07,254.39 359.47,255.41 359.88,249.78 360.29,251.68 360.69,250.36 361.1,248.48 361.51,248.83 361.92,246.88 362.32,247.63 362.73,245.31 363.14,245.44 363.54,243 363.95,245.86 364.36,245.11 364.76,239.73 365.17,238.95 365.58,240.16 365.98,237.15 366.39,237.71 366.8,229.87 367.21,236.96 367.61,229.05 368.02,233.99 368.43,230.64 368.83,231.52 369.24,231.14 369.65,227.58 370.05,227.18 370.46,228.91 370.87,229.56 371.27,222.28 371.68,223.1 372.09,225.33 372.5,225.85 372.9,224.14 373.31,224.15 373.72,221.19 374.12,225.36 374.53,222.55 374.94,223.59 375.34,218.21 375.75,216.31 376.16,219.71 376.57,217.64 376.97,215.09 377.38,218.18 377.79,218.84 378.19,213.7 378.6,214.08 379.01,214.89 379.41,210.55 379.82,212.67 380.23,216.62 380.63,211.56 381.04,212.16 381.45,207.62 381.86,211.47 382.26,211.37 382.67,209.22 383.08,208.73 383.48,211.4 383.89,207.15 384.3,207.39 384.7,202.95 385.11,200.21 385.52,207.47 385.93,206.71 386.33,206.08 386.74,205.35 387.15,205.12 387.55,203.14 387.96,200.43 388.37,205.13 388.77,204.97 389.18,204.84 389.59,197.55 389.99,196.37 390.4,202.2 390.81,202.23 391.22,198.42 391.62,196.5 392.03,196.79 392.44,198.46 392.84,196.93 393.25,196.98 393.66,198.11 394.06,191.96 394.47,195.62 394.88,197.67 395.28,195.88 395.69,197.79 396.1,193.75 396.51,190.66 396.91,195.11 397.32,189.12 397.73,186.33 398.13,189.52 398.54,192.43 398.95,191.42 399.35,190.06 399.76,191.97 400.17,191.65 400.57,189.05 400.98,188.28 401.39,185.86 401.8,189.19 402.2,181.92 402.61,183.36 403.02,183.53 403.42,186.79 403.83,181.42 404.24,185.84 404.64,180.8 405.05,181.98 405.46,185.71 405.87,184.07 406.27,178.35 406.68,179.81 407.09,182.04 407.49,180.99 407.9,180.75 408.31,182.59 408.71,180.97 409.12,181.61 409.53,180.71 409.93,178.37 410.34,181.16 410.75,177.14 411.16,178.2 411.56,176.5 411.97,176.03 412.38,175.14 412.78,176.42 413.19,176.11 413.6,177.79 414,175.69 414.41,178.34 414.82,176.26 415.23,173.49 415.63,174.84 416.04,173.53 416.45,176.8 416.85,171.49 417.26,175.8 417.67,173.62 418.07,174.46 418.48,172.26 418.89,175.05 419.29,176.24 419.7,177.96 420.11,174.09 420.52,175.62 420.92,171.38 421.33,169.01 421.74,176.77 422.14,174.39 422.55,170.54 422.96,168.2 423.36,169.98 423.77,169.72 424.18,169.12 424.58,168.75 424.99,166.12 425.4,168.08 425.81,171.88 426.21,170.01 426.62,168.48 427.03,170.83 427.43,169.73 427.84,170.33 428.25,170.54 428.65,167.1 429.06,169.03 429.47,170.12 429.88,168.92 430.28,167.03 430.69,162.32 431.1,166.34 431.5,163.55 431.91,165.61 432.32,171.28 432.72,165.47 433.13,167.96 433.54,168.82 433.94,167.94 434.35,161.33 434.76,168.53 435.17,166.18 435.57,162.07 435.98,163.03 436.39,168.2 436.79,164.55 437.2,165.27 437.61,164.3 438.01,161.91 438.42,164.59 438.83,163.86 439.23,159.85 439.64,167.19 440.05,163.99 440.46,162.17 440.86,165.98 441.27,164.56 441.68,165.97 442.08,162.54 442.08,173.08 442.49,175.83 442.9,180.8 443.3,188.14 443.71,194.07 444.12,197.54 444.52,202.85 444.93,210.53 445.34,210.31 445.75,216.95 446.15,220.28 446.56,229.32 446.97,228.23 447.37,228.96 447.78,235.39 448.19,242.9 448.59,242.47 449,245.58 449.41,247.87 449.82,251.75 450.22,252.9 450.63,257.62 451.04,258.5 451.44,262.84 451.85,263.35 452.26,263.61 452.66,269.12 453.07,268.62 453.48,273.97 453.88,274.58 454.29,275.99 454.7,274.5 455.11,280.88 455.51,278.45 455.92,286.32 456.33,285.19 456.73,284.49 457.14,286.63 457.55,292.14 457.95,294.4 458.36,291.51 458.77,297.88 459.18,295.13 459.58,298.6 459.99,298.23 460.4,293.66 460.8,295.95 461.21,298.21 461.62,303.94 462.02,301.07 462.43,302.6 462.84,303.91 463.24,301.68 463.65,309.45 464.06,305.88 464.47,307.22 464.87,310.02 465.28,305.29 465.69,312.65 466.09,310.42 466.5,310.92" stroke="#dc7203"/>
<polyline points="320,400.32 320.41,392.25 320.81,394.13 321.22,398.99 321.63,398.09 322.03,399.91 322.44,396.66 322.85,394.99 323.26,388.73 323.66,399.53 324.07,392.31 324.48,397.53 324.88,395.37 325.29,393.97 325.7,395.22 326.1,395.92 326.51,398.02 326.92,397.85 327.32,397.73 327.73,395.18 328.14,403.06 328.55,400.99 328.95,403.86 329.36,403.8 329.77,403.76 330.17,398.48 330.58,395.17 330.99,396.74 331.39,403.11 331.8,398.87 332.21,401.42 332.62,396.13 333.02,392.95 333.43,394.19 333.84,393.15 334.24,396.26 334.65,402.04 335.06,402.97 335.46,398.48 335.87,396.93 336.28,394.82 336.68,398.78 337.09,396.93 337.5,395.8 337.91,393.14 338.31,396.14 338.72,399.13 339.13,393.49 339.53,395.91 339.94,396.55 340.35,401.56 340.75,398.22 341.16,402.9 341.57,403.45 341.98,398.22 342.38,398.47 342.79,395.49 343.2,392.94 343.6,396.98 344.01,391.88 344.42,398.48 344.82,394.82 344.91,400.67 345.23,395.38 345.64,394.96 346.04,393.11 346.45,389.4 346.86,394.85 347.27,388 347.67,389.4 348.08,385.73 348.49,383.92 348.89,385 349.3,383.94 349.71,385.02 350.11,379.21 350.52,381.55 350.93,377.49 351.33,381.89 351.74,373.56 352.15,379.87 352.56,373.76 352.96,378.32 353.37,375.76 353.78,377.87 354.18,375.71 354.59,377.6 355,373.95 355.4,375.29 355.81,374.73 356.22,371.29 356.62,377.12 357.03,370.96 357.44,373.96 357.85,378.06 358.25,372.54 358.66,374.3 359.07,368.85 359.47,374.58 359.88,372.7 360.29,371.74 360.69,377.22 361.1,370.16 361.51,374.13 361.92,367.49 362.32,366.94 362.73,371.72 363.14,376.03 363.54,370.8 363.95,370.28 364.36,368.14 364.76,370.32 365.17,372.22 365.58,368.86 365.98,370.79 366.39,363.32 366.8,370.39 367.21,370.45 367.61,368.83 368.02,371.94 368.43,369.33 368.83,368 369.24,368.62 369.65,367.85 370.05,363.95 370.46,366.77 370.87,372.48 371.27,370.75 371.68,367.99 372.09,371.93 372.5,369.56 372.9,369.27 373.31,367.03 373.72,368.31 374.12,367.61 374.53,369.13 374.94,365.42 375.34,368.78 375.75,361.29 376.16,366.06 376.57,366.59 376.97,363.84 377.38,366.46 377.79,366.29 378.19,366.99 378.6,369.03 379.01,369.55 379.41,368.76 379.82,363.46 380.23,368.17 380.63,367.43 381.04,367.36 381.45,363.87 381.86,359.87 382.26,367.45 382.67,363.01 383.08,363.97 383.48,364.93 383.89,362.35 384.3,366.71 384.7,360.2 385.11,361.28 385.52,364.31 385.93,357.18 386.33,359.66 386.74,359.41 387.15,367.25 387.55,364.34 387.96,365.05 388.37,361.57 388.77,359.06 389.18,367.56 389.59,361.82 389.99,361.98 390.4,358.74 390.81,361.51 391.22,364.78 391.62,361.65 392.03,363.91 392.44,363.29 392.84,361.2 393.25,362.79 393.66,360.67 394.06,365.45 394.47,354.61 394.88,357.41 395.28,358.98 395.69,364.76 396.1,367.43 396.51,364.03 396.91,362.29 397.32,355.3 397.73,357.58 398.13,362.36 398.54,357.39 398.95,357.34 399.35,360.89 399.76,357.96 400.17,360.87 400.57,363.97 400.98,365.57 401.39,362.56 401.8,359.14 402.2,365.19 402.61,365.41 403.02,358.98 403.42,367.65 403.83,354.9 404.24,361.14 404.64,358.01 405.05,354.95 405.46,363.97 405.87,362.48 406.27,352.83 406.68,359.25 407.09,358.39 407.49,357.18 407.9,354.8 408.31,354.01 408.71,357.25 409.12,358.32 409.53,357.38 409.93,356.5 410.34,354.02 410.75,357.77 411.16,353.7 411.56,361.57 411.97,357.94 412.38,354.5 412.78,355.53 413.19,357.82 413.6,360.82 414,360.01 414.41,358.13 414.82,356.52 415.23,357.81 415.63,361.02 416.04,359.08 416.45,355.8 416.85,355.21 417.26,361.66 417.67,358.97 418.07,362.55 418.48,359.23 418.89,347.47 419.29,356.64 419.7,357.39 420.11,357.8 420.52,359.38 420.92,361.2 421.33,356.45 421.74,357.63 422.14,353.57 422.55,363.11 422.96,358.27 423.36,356.38 423.77,365.68 424.18,358.15 424.58,363.77 424.99,357.1 425.4,353.8 425.81,357.47 426.21,356.48 426.62,359.14 427.03,356.45 427.43,354.16 427.84,357.83 428.25,357.69 428.65,356.08 429.06,354.59 429.47,361 429.88,355.95 430.28,357.79 430.69,354.5 431.1,353.12 431.5,355.22 431.91,352.45 432.32,358.51 432.72,356.51 433.13,357.73 433.54,354.56 433.94,354.33 434.35,355.13 434.76,358.02 435.17,355.07 435.57,356.37 435.98,353.86 436.39,356.59 436.79,352.78 437.2,355.33 437.61,360.95 438.01,356.12 438.42,359.51 438.83,352.94 439.23,351.89 439.64,356.3 440.05,355.43 440.46,361.01 440.86,363.43 441.27,358.81 441.68,358.03 442.08,361.66 442.08,360.01 442.49,361.61 442.9,362.55 443.3,361.51 443.71,364.7 444.12,368.95 444.52,368.63 444.93,368.28 445.34,373.85 445.75,368.23 446.15,370.25 446.56,374.07 446.97,375.82 447.37,364.08 447.78,372.82 448.19,373.1 448.59,371.27 449,374 449.41,376.5 449.82,375.35 450.22,379.9 450.63,375.35 451.04,381.52 451.44,376.11 451.85,375.93 452.26,382.15 452.66,373.01 453.07,381.99 453.48,376.33 453.88,381 454.29,378.93 454.7,381.85 455.11,373.38 455.51,377.63 455.92,375.61 456.33,378.45 456.73,378.59 457.14,379.92 457.55,380.79 457.95,378.26 458.36,379.4 458.77,380.29 459.18,383.85 459.58,381.21 459.99,379.14 460.4,382.66 460.8,380.95 461.21,382.76 461.62,385.48 462.02,385.13 462.43,384.42 462.84,382.68 463.24,381.99 463.65,377.6 464.06,383.38 464.47,386.09 464.87,378.97 465.28,382.85 465.69,382.72 466.09,376.02 466.5,379.53" stroke="#ffc800"/>
<polyline points="320,397.15 320.41,398.68 320.81,396.65 321.22,401.37 321.63,395.34 322.03,394.79 322.44,402.25 322.85,398.7 323.26,394.97 323.66,397.74 324.07,401.17 324.48,400.57 324.88,395.29 325.29,392.57 325.7,400.56 326.1,397.76 326.51,400.13 326.92,398.88 327.32,397.27 327.73,398.17 328.14,399.87 328.55,392.35 328.95,398.38 329.36,398.38 329.77,394.85 330.17,397.78 330.58,398.34 330.99,395.17 331.39,400.32 331.8,395.28 332.21,394.32 332.62,395.24 333.02,397.59 333.43,397.32 333.84,402.05 334.24,397.78 334.65,396.48 335.06,394.69 335.46,396.43 335.87,397.73 336.28,398.83 336.68,396.56 337.09,395.93 337.5,393.03 337.91,396.51 338.31,398.47 338.72,398.21 339.13,399.99 339.53,399.83 339.94,405.2 340.35,403.3 340.75,401.77 341.16,396.9 341.57,398.09 341.98,397.38 342.38,394.66 342.79,400.57 343.2,394.76 343.6,396.89 344.01,400.06 344.42,394.55 344.82,402.74 344.91,402.4 345.23,400.06 345.64,398 346.04,398.55 346.45,402.1 346.86,395.14 347.27,392.45 347.67,383.6 348.08,385.43 348.49,388.03 348.89,391.01 349.3,387.22 349.71,391.45 350.11,388.1 350.52,387.93 350.93,390.09 351.33,388.36 351.74,389.89 352.15,390.59 352.56,385.12 352.96,387.89 353.37,390.48 353.78,391.87 354.18,389.38 354.59,388.2 355,387.1 355.4,384.93 355.81,387.07 356.22,390.85 356.62,382.24 357.03,384.62 357.44,385.77 357.85,384.76 358.25,392.57 358.66,389.68 359.07,389.94 359.47,385.17 359.88,391.28 360.29,388.88 360.69,383.96 361.1,386.31 361.51,389.09 361.92,383.04 362.32,391.55 362.73,386.71 363.14,388.44 363.54,386.4 363.95,388.53 364.36,390.17 364.76,387.63 365.17,391.98 365.58,387.22 365.98,389.46 366.39,385.87 366.8,389.05 367.21,389.12 367.61,385.87 368.02,383.58 368.43,392.66 368.83,387.3 369.24,386.37 369.65,392.01 370.05,390.48 370.46,386.17 370.87,389.81 371.27,389.08 371.68,382.6 372.09,389.48 372.5,389.04 372.9,392.67 373.31,389.19 373.72,389.31 374.12,381.22 374.53,382.31 374.94,388.71 375.34,379.98 375.75,383.15 376.16,385.78 376.57,383.3 376.97,384.62 377.38,387.83 377.79,390.6 378.19,388.45 378.6,386.14 379.01,387.12 379.41,388.12 379.82,383.45 380.23,388.79 380.63,383.56 381.04,387.27 381.45,385.73 381.86,388.94 382.26,385.79 382.67,387.64 383.08,390.12 383.48,385.63 383.89,386.04 384.3,384.13 384.7,386.03 385.11,389.87 385.52,389.12 385.93,394.4 386.33,391.12 386.74,385.1 387.15,384.93 387.55,387.18 387.96,388.36 388.37,387.25 388.77,386.96 389.18,392.3 389.59,389.6 389.99,383.95 390.4,383.97 390.81,386.53 391.22,387.99 391.62,388.12 392.03,388.44 392.44,389.38 392.84,392.06 393.25,386.63 393.66,388.45 394.06,388.11 394.47,383.28 394.88,386.5 395.28,390.08 395.69,386.71 396.1,392.35 396.51,385.68 396.91,387.96 397.32,389.25 397.73,387.05 398.13,384.32 398.54,388.98 398.95,390 399.35,381.54 399.76,387.13 400.17,383.24 400.57,389.05 400.98,386.14 401.39,388.65 401.8,384.98 402.2,387.23 402.61,388.3 403.02,382.6 403.42,386.21 403.83,392.84 404.24,388.07 404.64,389.63 405.05,390.03 405.46,388.02 405.87,387.66 406.27,386.45 406.68,388.95 407.09,392.12 407.49,388.89 407.9,385.44 408.31,391.78 408.71,386.72 409.12,387.27 409.53,389.68 409.93,387.52 410.34,390.14 410.75,388.91 411.16,390.26 411.56,386.01 411.97,383.45 412.38,388.99 412.78,384.16 413.19,393.35 413.6,390.22 414,390.67 414.41,383.34 414.82,389.43 415.23,385.53 415.63,392.8 416.04,386.6 416.45,384.94 416.85,386.13 417.26,393.05 417.67,385.18 418.07,383.68 418.48,382.72 418.89,385.69 419.29,391.73 419.7,387.98 420.11,385.02 420.52,389.58 420.92,385.8 421.33,388.72 421.74,387.54 422.14,386.31 422.55,390.92 422.96,381.89 423.36,389.59 423.77,389.22 424.18,392.03 424.58,389.51 424.99,389.85 425.4,392.36 425.81,391.83 426.21,386.3 426.62,386.86 427.03,393.49 427.43,392.15 427.84,387.35 428.25,386.99 428.65,385.54 429.06,390.82 429.47,385.93 429.88,388.03 430.28,387.89 430.69,385.97 431.1,381.97 431.5,382.27 431.91,380.67 432.32,384.34 432.72,382.76 433.13,384.81 433.54,383.12 433.94,383 434.35,383.78 434.76,381.36 435.17,382.92 435.57,382.68 435.98,384.87 436.39,382.64 436.79,385.45 437.2,383.35 437.61,384.84 438.01,384.48 438.42,386.91 438.83,390.32 439.23,391.09 439.64,382.09 440.05,386.42 440.46,386.18 440.86,387.55 441.27,387.96 441.68,378.58 442.08,389.06 442.08,386.58 442.49,386.4 442.9,389.1 443.3,389.34 443.71,387.88 444.12,387.26 444.52,388.19 444.93,385.3 445.34,391.29 445.75,387.59 446.15,385.25 446.56,387.21 446.97,392.82 447.37,397.52 447.78,386.82 448.19,387.34 448.59,390.08 449,385.24 449.41,390.35 449.82,389.68 450.22,393.39 450.63,390.1 451.04,392.25 451.44,392.38 451.85,387.96 452.26,390.12 452.66,394.53 453.07,388.35 453.48,387.66 453.88,391.92 454.29,390.54 454.7,389.28 455.11,390.16 455.51,389.31 455.92,388.06 456.33,391.24 456.73,384.28 457.14,391.74 457.55,391.22 457.95,384.49 458.36,383.55 458.77,390.19 459.18,391.15 459.58,393.92 459.99,388.31 460.4,391.23 460.8,394.15 461.21,390.74 461.62,387.95 462.02,389.56 462.43,385.25 462.84,387.99 463.24,389.97 463.65,391.41 464.06,390.09 464.47,388.59 464.87,389.84 465.28,389.54 465.69,391.9 466.09,390.34 466.5,388.81" stroke="#008c32"/>
<polyline points="320,394.1 320.41,396.43 320.81,394.86 321.22,397.96 321.63,398.56 322.03,397.4 322.44,399.66 322.85,398.7 323.26,401.6 323.66,400.44 324.07,397.16 324.48,398.6 324.88,399.42 325.29,395.02 325.7,394.76 326.1,395.88 326.51,397.81 326.92,393.52 327.32,389.61 327.73,399.07 328.14,401.34 328.55,399.29 328.95,399.37 329.36,399.73 329.77,399.01 330.17,393.27 330.58,393.34 330.99,392.07 331.39,394.7 331.8,398.77 332.21,395.34 332.62,400.62 333.02,400.43 333.43,402.96 333.84,396.58 334.24,397.13 334.65,401.01 335.06,400.45 335.46,399.37 335.87,398.74 336.28,396.71 336.68,398.33 337.09,396.75 337.5,401.13 337.91,397.21 338.31,400.78 338.72,390.93 339.13,392.01 339.53,393.99 339.94,393.09 340.35,390.82 340.75,393.79 341.16,400.64 341.57,396.83 341.98,402.49 342.38,398.17 342.79,399.25 343.2,396 343.6,395.21 344.01,399.22 344.42,397.97 344.82,396.8 344.91,398.1 345.23,398.02 345.64,403.75 346.04,398.16 346.45,394.61 346.86,395.9 347.27,400.47 347.67,397.07 348.08,395.54 348.49,398.86 348.89,394.41 349.3,398.36 349.71,396.94 350.11,396.04 350.52,389.3 350.93,395.68 351.33,395.85 351.74,391.92 352.15,394.77 352.56,392.72 352.96,399.19 353.37,392.25 353.78,393.12 354.18,396.56 354.59,389.39 355,393.73 355.4,393.83 355.81,397.29 356.22,398.71 356.62,396.39 357.03,399.26 357.44,393.83 357.85,392.64 358.25,396.51 358.66,399.03 359.07,395.77 359.47,397.68 359.88,394.45 360.29,394.36 360.69,395.75 361.1,393.99 361.51,390.91 361.92,388.71 362.32,394.42 362.73,390.81 363.14,393.17 363.54,395.18 363.95,388.77 364.36,391.28 364.76,392.26 365.17,392.13 365.58,394.05 365.98,396.97 366.39,389.81 366.8,392.56 367.21,394.48 367.61,392.53 368.02,391.39 368.43,395 368.83,392.47 369.24,394.61 369.65,391.73 370.05,393.86 370.46,386.25 370.87,393.45 371.27,390.86 371.68,391 372.09,393.4 372.5,390.38 372.9,393.58 373.31,394.8 373.72,393.8 374.12,395.77 374.53,390.35 374.94,391.76 375.34,390.79 375.75,397.19 376.16,392.93 376.57,395.77 376.97,393.34 377.38,389.86 377.79,392.24 378.19,392.99 378.6,389.1 379.01,389.11 379.41,386.76 379.82,396.94 380.23,391.35 380.63,393.71 381.04,395.2 381.45,392.68 381.86,396.3 382.26,399.5 382.67,396.37 383.08,395.15 383.48,389.7 383.89,396.58 384.3,397.19 384.7,398.42 385.11,393 385.52,391.87 385.93,390.38 386.33,394.6 386.74,392.87 387.15,397.13 387.55,390.75 387.96,395.7 388.37,399.25 388.77,389.18 389.18,391.45 389.59,392.23 389.99,392.38 390.4,396.11 390.81,390.33 391.22,396.08 391.62,388.26 392.03,393.16 392.44,399.16 392.84,392.14 393.25,389.24 393.66,395.07 394.06,391.12 394.47,394.22 394.88,395.21 395.28,400.69 395.69,390.9 396.1,396.19 396.51,394.77 396.91,399.58 397.32,399.48 397.73,394.18 398.13,398.06 398.54,397.58 398.95,399.11 399.35,394.19 399.76,391.66 400.17,394.09 400.57,392.61 400.98,394.92 401.39,387.67 401.8,393.32 402.2,392.52 402.61,388.1 403.02,393.71 403.42,397.42 403.83,395.48 404.24,393.39 404.64,386.9 405.05,390.48 405.46,391.29 405.87,388.37 406.27,387.34 406.68,393.39 407.09,387.9 407.49,389.73 407.9,390.87 408.31,398.34 408.71,391.12 409.12,387.62 409.53,391.99 409.93,384.94 410.34,391.12 410.75,394.3 411.16,390.17 411.56,391.16 411.97,389.72 412.38,392.47 412.78,388.08 413.19,392.83 413.6,390.62 414,394 414.41,392.4 414.82,389.31 415.23,391.39 415.63,390.73 416.04,390.18 416.45,389.24 416.85,388.32 417.26,388.88 417.67,388.76 418.07,391.47 418.48,393.79 418.89,396.61 419.29,392.94 419.7,393.72 420.11,396.09 420.52,386.38 420.92,395.83 421.33,389.92 421.74,389.5 422.14,391.83 422.55,384.36 422.96,391.69 423.36,394.22 423.77,387.64 424.18,394.85 424.58,396.62 424.99,395.33 425.4,394.11 425.81,391.94 426.21,390.87 426.62,395.79 427.03,390.73 427.43,385.93 427.84,394.63 428.25,393.82 428.65,392.27 429.06,391.33 429.47,396.57 429.88,397.21 430.28,397.01 430.69,390.86 431.1,390.95 431.5,398.85 431.91,398.26 432.32,395.4 432.72,395.99 433.13,390.93 433.54,391.86 433.94,387.52 434.35,391.02 434.76,392.93 435.17,389.86 435.57,395.2 435.98,396.16 436.39,391.8 436.79,388.88 437.2,395.49 437.61,388.18 438.01,387.89 438.42,391.34 438.83,389.37 439.23,390.67 439.64,389.97 440.05,388.35 440.46,393.12 440.86,388.3 441.27,388.86 441.68,388.79 442.08,396.74 442.08,396.58 442.49,389.86 442.9,393.78 443.3,394.54 443.71,395.16 444.12,397.02 444.52,394.15 444.93,395.14 445.34,394.61 445.75,391.17 446.15,395.56 446.56,389.23 446.97,398.5 447.37,385.49 447.78,395.87 448.19,390.09 448.59,388.72 449,390.94 449.41,388.84 449.82,391.35 450.22,396.13 450.63,390.52 451.04,388.46 451.44,393.26 451.85,396.61 452.26,393.85 452.66,391.51 453.07,391.63 453.48,389.25 453.88,390.4 454.29,390.09 454.7,396.67 455.11,384.95 455.51,391.18 455.92,389.45 456.33,393.45 456.73,393.64 457.14,393.75 457.55,390.17 457.95,390.76 458.36,393.45 458.77,389.67 459.18,395.97 459.58,392.96 459.99,394.99 460.4,389.47 460.8,392.36 461.21,389.47 461.62,387.51 462.02,398.41 462.43,387.36 462.84,393.04 463.24,395.1 463.65,399.39 464.06,394.49 464.47,399.4 464.87,392.31 465.28,392.81 465.69,387.41 466.09,393.66 466.5,390.14" stroke="#12c2c2"/>
<polyline points="320,401.05 320.41,399.27 320.81,398.21 321.22,398.58 321.63,400.14 322.03,391.9 322.44,396.05 322.85,395.63 323.26,394.24 323.66,395.52 324.07,396.78 324.48,398.07 324.88,401.62 325.29,393.57 325.7,400.7 326.1,402.93 326.51,400.44 326.92,402.28 327.32,391.91 327.73,396.08 328.14,393.17 328.55,393.39 328.95,396.46 329.36,397.13 329.77,401.21 330.17,399.61 330.58,400.83 330.99,398.58 331.39,400.11 331.8,394.24 332.21,395.31 332.62,397.48 333.02,401.64 333.43,395.04 333.84,394.45 334.24,397.13 334.65,400.5 335.06,395.87 335.46,394.09 335.87,402.08 336.28,394.99 336.68,401.38 337.09,396.1 337.5,391.62 337.91,396.39 338.31,395.51 338.72,397.79 339.13,396.88 339.53,390.3 339.94,393.1 340.35,397.75 340.75,398.14 341.16,397.25 341.57,391.4 341.98,396.96 342.38,394.53 342.79,398.68 343.2,401.26 343.6,394.08 344.01,397.73 344.42,399.23 344.82,398.34 344.91,397.53 345.23,396.58 345.64,398.46 346.04,390.37 346.45,392.33 346.86,390.68 347.27,394.6 347.67,393.2 348.08,394.32 348.49,392.17 348.89,393.69 349.3,395.34 349.71,398.36 350.11,399.98 350.52,398.84 350.93,398.19 351.33,397.6 351.74,399.09 352.15,390.65 352.56,394.01 352.96,399.88 353.37,396.98 353.78,397.32 354.18,392.64 354.59,390.04 355,395.4 355.4,390.78 355.81,393.08 356.22,389.06 356.62,388.49 357.03,391.59 357.44,390.92 357.85,393.57 358.25,395.38 358.66,398.28 359.07,394.74 359.47,396.11 359.88,396.95 360.29,395.83 360.69,395.71 361.1,397.62 361.51,395.9 361.92,391.19 362.32,395.06 362.73,390.86 363.14,398.18 363.54,398.98 363.95,395 364.36,393.14 364.76,396.96 365.17,393.47 365.58,392.83 365.98,392.74 366.39,396.21 366.8,396.13 367.21,400.43 367.61,395.61 368.02,394.52 368.43,390.85 368.83,397.52 369.24,395.73 369.65,395.77 370.05,390.57 370.46,400.36 370.87,397.04 371.27,389.11 371.68,393.47 372.09,399.17 372.5,395.69 372.9,393 373.31,393.47 373.72,395.19 374.12,396.36 374.53,391.55 374.94,393.57 375.34,391.27 375.75,392.59 376.16,395.4 376.57,390.79 376.97,396.75 377.38,394.78 377.79,398.05 378.19,397.05 378.6,396.9 379.01,397.56 379.41,394.48 379.82,390.93 380.23,388.99 380.63,390.01 381.04,394.57 381.45,390.52 381.86,393.81 382.26,390.43 382.67,398.98 383.08,391.47 383.48,396.89 383.89,391.71 384.3,395.79 384.7,391.95 385.11,395.48 385.52,400.41 385.93,398.56 386.33,397 386.74,396.27 387.15,401.93 387.55,398.21 387.96,395.91 388.37,393.62 388.77,391.95 389.18,394.77 389.59,397.06 389.99,392.72 390.4,395.07 390.81,392.22 391.22,396.35 391.62,393.3 392.03,397.62 392.44,394.7 392.84,395.54 393.25,394.95 393.66,398.99 394.06,396.77 394.47,398.44 394.88,396.05 395.28,393.41 395.69,386.68 396.1,394.83 396.51,393.57 396.91,396.15 397.32,394.36 397.73,396.94 398.13,395.68 398.54,397.53 398.95,391.81 399.35,394.5 399.76,402.91 400.17,397.54 400.57,398.09 400.98,404.03 401.39,399.87 401.8,398.12 402.2,398.13 402.61,395.07 403.02,399.72 403.42,392.47 403.83,392.36 404.24,393.76 404.64,396.02 405.05,395.48 405.46,396.93 405.87,392.5 406.27,394.04 406.68,389.77 407.09,396.04 407.49,391.1 407.9,396.71 408.31,395.78 408.71,398.33 409.12,394.21 409.53,395.92 409.93,394.21 410.34,392.04 410.75,396.46 411.16,395.43 411.56,393.98 411.97,396.26 412.38,397.02 412.78,393.92 413.19,393.03 413.6,392.1 414,392.14 414.41,396.64 414.82,394.11 415.23,392.41 415.63,397.29 416.04,395.23 416.45,398.03 416.85,396.11 417.26,392.16 417.67,396.76 418.07,400.08 418.48,396.45 418.89,396.32 419.29,393.03 419.7,398.76 420.11,396.61 420.52,393.7 420.92,397.39 421.33,390.06 421.74,398.71 422.14,395.57 422.55,397.42 422.96,395.33 423.36,391.61 423.77,392.49 424.18,392.03 424.58,393.27 424.99,400.58 425.4,394.19 425.81,399.77 426.21,395.87 426.62,395.47 427.03,396.01 427.43,393.52 427.84,397.44 428.25,390.88 428.65,394.13 429.06,392.6 429.47,393.73 429.88,393.35 430.28,395.92 430.69,390.59 431.1,398.9 431.5,394.96 431.91,396.33 432.32,397.1 432.72,395.81 433.13,398.9 433.54,394.65 433.94,394.87 434.35,396.53 434.76,394.5 435.17,399.08 435.57,401.15 435.98,398.02 436.39,397.35 436.79,390.07 437.2,397.32 437.61,393.54 438.01,393.57 438.42,389.68 438.83,394.72 439.23,393.01 439.64,395.12 440.05,396.78 440.46,397.02 440.86,396.32 441.27,390.32 441.68,393.52 442.08,394.92 442.08,394.75 442.49,396.77 442.9,395.76 443.3,396.12 443.71,394.43 444.12,393.73 444.52,400.5 444.93,395.34 445.34,392.29 445.75,399.02 446.15,397.3 446.56,396.55 446.97,394.34 447.37,395.89 447.78,398.16 448.19,396.14 448.59,394.54 449,396.12 449.41,392.08 449.82,396.04 450.22,400.24 450.63,399.82 451.04,398.37 451.44,398.88 451.85,396.93 452.26,397.9 452.66,394.37 453.07,396.82 453.48,394.88 453.88,400.75 454.29,399.61 454.7,396.42 455.11,397.92 455.51,396.46 455.92,397.54 456.33,400.02 456.73,393.88 457.14,395.52 457.55,402.78 457.95,399.98 458.36,397.76 458.77,395.39 459.18,396.92 459.58,400.15 459.99,394.28 460.4,397.4 460.8,394.04 461.21,396.91 461.62,395.31 462.02,395.83 462.43,395.51 462.84,398.87 463.24,394.24 463.65,396.06 464.06,399.7 464.47,397.21 464.87,396.84 465.28,394.38 465.69,393.48 466.09,398.15 466.5,393.24" stroke="#0404e6"/>
<path d="M344.07 320.4V410.5M442.08 320.4V410.5" stroke="#000" stroke-width="1.8"/>
</g>
<text x="320" y="422.8" text-anchor="middle" font-size="11">0</text>
<text x="360.69" y="422.8" text-anchor="middle" font-size="11">50</text>
<text x="401.39" y="422.8" text-anchor="middle" font-size="11">100</text>
<text x="442.08" y="422.8" text-anchor="middle" font-size="11">150</text>
<text x="317.5" y="415.66" text-anchor="end" font-size="11">-0.2</text>
<text x="317.5" y="402.79" text-anchor="end" font-size="11">0</text>
<text x="317.5" y="389.92" text-anchor="end" font-size="11">0.2</text>
<text x="317.5" y="377.05" text-anchor="end" font-size="11">0.4</text>
<text x="317.5" y="364.17" text-anchor="end" font-size="11">0.6</text>
<text x="317.5" y="351.3" text-anchor="end" font-size="11">0.8</text>
<text x="317.5" y="338.43" text-anchor="end" font-size="11">1</text>
<text x="317.5" y="325.56" text-anchor="end" font-size="11">1.2</text>
<text x="393.25" y="435.3" text-anchor="middle" font-size="11.4">Time [s]</text>
<g font-weight="bold" font-size="20">
<text x="0.3" y="14">a</text>
<text x="0.3" y="171.6">b</text>
<text x="0.3" y="326">c</text>
</g>
<g font-size="14.5">
<text transform="translate(38.8,124) rotate(-90)">ΔTemperature [</text>
<text transform="translate(38.8,18.2) rotate(-90)">C]</text>
<text transform="translate(47,283) rotate(-90)">ΔTemperature [</text>
<text transform="translate(47,177) rotate(-90)">C]</text>
<text transform="translate(48.2,440.8) rotate(-90)">ΔTemperature [</text>
<text transform="translate(48.2,334.8) rotate(-90)">C]</text>
</g>
<g fill="none" stroke="#000" stroke-width="0.8">
<circle cx="25.2" cy="21.5" r="1.3"/>
<circle cx="33" cy="180.5" r="1.3"/>
<circle cx="34.7" cy="338" r="1.3"/>
</g>
<g font-size="11.5">
<text transform="translate(294.4,100.2) rotate(-90)">ΔTemperature [</text>
<text transform="translate(294.4,17.2) rotate(-90)">C]</text>
<text transform="translate(294.4,254.2) rotate(-90)">ΔTemperature [</text>
<text transform="translate(294.4,171.2) rotate(-90)">C]</text>
<text transform="translate(294.4,415.6) rotate(-90)">ΔTemperature [</text>
<text transform="translate(294.4,332.6) rotate(-90)">C]</text>
</g>
<g fill="none" stroke="#000" stroke-width="0.7">
<circle cx="283.5" cy="19.5" r="1.1"/>
<circle cx="283.5" cy="173.6" r="1.1"/>
<circle cx="283.5" cy="335" r="1.1"/>
</g>
<rect x="32.6" y="476.7" width="436.4" height="76.4" fill="none" stroke="#000" stroke-width="2.2"/>
<g stroke-width="1.6">
<path d="M34.4 489.5H50.2" stroke="#f50505"/>
<path d="M34.4 514H50.2" stroke="#ffc800"/>
<path d="M34.4 537.8H50.2" stroke="#12c2c2"/>
<path d="M247.8 490.3H263.7" stroke="#dc7203"/>
<path d="M247.8 514.6H263.7" stroke="#008c32"/>
<path d="M247.8 537H263.7" stroke="#0404e6"/>
</g>
<g font-size="14.8">
<text x="50.3" y="497.8">Cartesian bSSFP, Flip = 60</text>
<text x="50.3" y="522.9">Cartesian GRE, Flip = 20</text>
<text x="50.3" y="544.3">Spiral GRE, 16 interleaves</text>
<text x="264" y="497.8">Cartesian bSSFP, Flip = 45</text>
<text x="264" y="522.9">Cartesian GRE, Flip = 10</text>
<text x="264" y="544.3">Spiral GRE, 8 interleaves</text>
</g>
<g fill="none" stroke="#000" stroke-width="0.7">
<circle cx="232.4" cy="484.3" r="1.2"/>
<circle cx="217.8" cy="508.5" r="1.2"/>
<circle cx="446.2" cy="485.1" r="1.2"/>
<circle cx="431.7" cy="509.2" r="1.2"/>
</g>

</svg></body></html>
